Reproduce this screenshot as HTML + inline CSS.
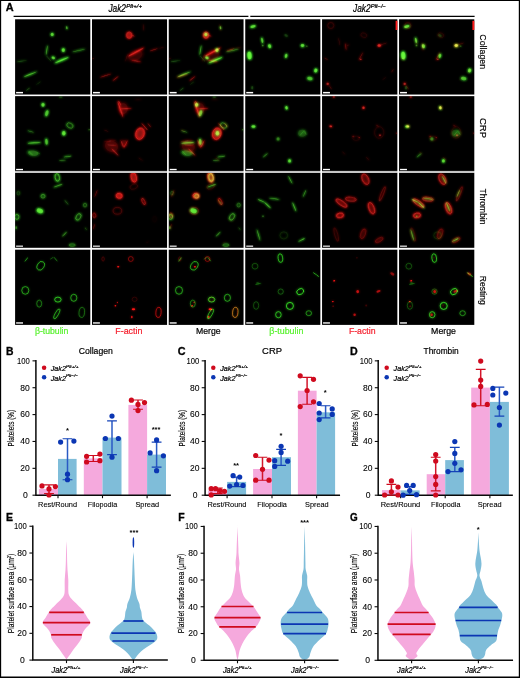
<!DOCTYPE html>
<html lang="en"><head><meta charset="utf-8"><title>Jak2 platelet spreading figure</title>
<style>html,body{margin:0;padding:0;background:#fff}body{width:520px;height:678px;overflow:hidden}svg{display:block;font-family:'Liberation Sans', Arial, Helvetica, sans-serif}</style></head><body>
<svg width="520" height="678" viewBox="0 0 520 678">
<rect width="520" height="678" fill="#fff"/>
<defs><filter id="bl" x="-5%" y="-5%" width="110%" height="110%"><feGaussianBlur stdDeviation="0.85"/></filter>
<clipPath id="cp00"><rect x="15.10" y="19.30" width="75.20" height="75.25"/></clipPath>
<clipPath id="cp01"><rect x="92.00" y="19.30" width="75.05" height="75.25"/></clipPath>
<clipPath id="cp02"><rect x="168.75" y="19.30" width="74.80" height="75.25"/></clipPath>
<clipPath id="cp03"><rect x="245.25" y="19.30" width="75.10" height="75.25"/></clipPath>
<clipPath id="cp04"><rect x="322.05" y="19.30" width="75.30" height="75.25"/></clipPath>
<clipPath id="cp05"><rect x="399.05" y="19.30" width="75.25" height="75.25"/></clipPath>
<clipPath id="cp10"><rect x="15.10" y="96.15" width="75.20" height="74.80"/></clipPath>
<clipPath id="cp11"><rect x="92.00" y="96.15" width="75.05" height="74.80"/></clipPath>
<clipPath id="cp12"><rect x="168.75" y="96.15" width="74.80" height="74.80"/></clipPath>
<clipPath id="cp13"><rect x="245.25" y="96.15" width="75.10" height="74.80"/></clipPath>
<clipPath id="cp14"><rect x="322.05" y="96.15" width="75.30" height="74.80"/></clipPath>
<clipPath id="cp15"><rect x="399.05" y="96.15" width="75.25" height="74.80"/></clipPath>
<clipPath id="cp20"><rect x="15.10" y="172.85" width="75.20" height="74.95"/></clipPath>
<clipPath id="cp21"><rect x="92.00" y="172.85" width="75.05" height="74.95"/></clipPath>
<clipPath id="cp22"><rect x="168.75" y="172.85" width="74.80" height="74.95"/></clipPath>
<clipPath id="cp23"><rect x="245.25" y="172.85" width="75.10" height="74.95"/></clipPath>
<clipPath id="cp24"><rect x="322.05" y="172.85" width="75.30" height="74.95"/></clipPath>
<clipPath id="cp25"><rect x="399.05" y="172.85" width="75.25" height="74.95"/></clipPath>
<clipPath id="cp30"><rect x="15.10" y="249.70" width="75.20" height="75.20"/></clipPath>
<clipPath id="cp31"><rect x="92.00" y="249.70" width="75.05" height="75.20"/></clipPath>
<clipPath id="cp32"><rect x="168.75" y="249.70" width="74.80" height="75.20"/></clipPath>
<clipPath id="cp33"><rect x="245.25" y="249.70" width="75.10" height="75.20"/></clipPath>
<clipPath id="cp34"><rect x="322.05" y="249.70" width="75.30" height="75.20"/></clipPath>
<clipPath id="cp35"><rect x="399.05" y="249.70" width="75.25" height="75.20"/></clipPath>
</defs>
<rect x="15.10" y="19.30" width="75.20" height="75.25" fill="#000"/>
<rect x="92.00" y="19.30" width="75.05" height="75.25" fill="#000"/>
<rect x="168.75" y="19.30" width="74.80" height="75.25" fill="#000"/>
<rect x="245.25" y="19.30" width="75.10" height="75.25" fill="#000"/>
<rect x="322.05" y="19.30" width="75.30" height="75.25" fill="#000"/>
<rect x="399.05" y="19.30" width="75.25" height="75.25" fill="#000"/>
<rect x="15.10" y="96.15" width="75.20" height="74.80" fill="#000"/>
<rect x="92.00" y="96.15" width="75.05" height="74.80" fill="#000"/>
<rect x="168.75" y="96.15" width="74.80" height="74.80" fill="#000"/>
<rect x="245.25" y="96.15" width="75.10" height="74.80" fill="#000"/>
<rect x="322.05" y="96.15" width="75.30" height="74.80" fill="#000"/>
<rect x="399.05" y="96.15" width="75.25" height="74.80" fill="#000"/>
<rect x="15.10" y="172.85" width="75.20" height="74.95" fill="#000"/>
<rect x="92.00" y="172.85" width="75.05" height="74.95" fill="#000"/>
<rect x="168.75" y="172.85" width="74.80" height="74.95" fill="#000"/>
<rect x="245.25" y="172.85" width="75.10" height="74.95" fill="#000"/>
<rect x="322.05" y="172.85" width="75.30" height="74.95" fill="#000"/>
<rect x="399.05" y="172.85" width="75.25" height="74.95" fill="#000"/>
<rect x="15.10" y="249.70" width="75.20" height="75.20" fill="#000"/>
<rect x="92.00" y="249.70" width="75.05" height="75.20" fill="#000"/>
<rect x="168.75" y="249.70" width="74.80" height="75.20" fill="#000"/>
<rect x="245.25" y="249.70" width="75.10" height="75.20" fill="#000"/>
<rect x="322.05" y="249.70" width="75.30" height="75.20" fill="#000"/>
<rect x="399.05" y="249.70" width="75.25" height="75.20" fill="#000"/>
<g clip-path="url(#cp00)"><g filter="url(#bl)"><ellipse cx="66.8" cy="27.8" rx="0.92" ry="1.85" transform="rotate(-10 66.8 27.8)" fill="#3dff2a" opacity="0.80"/><ellipse cx="52.2" cy="34.4" rx="1.85" ry="2.00" transform="rotate(0 52.2 34.4)" fill="#3dff2a" opacity="0.90"/><ellipse cx="46.8" cy="50.1" rx="5.23" ry="0.76" transform="rotate(99 46.8 50.1)" fill="#3dff2a" opacity="0.70"/><ellipse cx="63.3" cy="50.1" rx="2.00" ry="2.46" transform="rotate(0 63.3 50.1)" fill="#3dff2a" opacity="0.90"/><ellipse cx="78.8" cy="50.5" rx="7.27" ry="0.76" transform="rotate(-13 78.8 50.5)" fill="#3dff2a" opacity="0.60"/><ellipse cx="53.3" cy="57.8" rx="2.15" ry="1.54" transform="rotate(20 53.3 57.8)" fill="#3dff2a" opacity="0.90"/><ellipse cx="61.8" cy="60.1" rx="8.09" ry="1.35" transform="rotate(-23 61.8 60.1)" fill="#3dff2a" opacity="0.95"/><ellipse cx="30.3" cy="74.3" rx="7.75" ry="0.93" transform="rotate(-22 30.3 74.3)" fill="#3dff2a" opacity="0.80"/><ellipse cx="21.8" cy="61.1" rx="5.46" ry="0.59" transform="rotate(-6 21.8 61.1)" fill="#3dff2a" opacity="0.35"/><ellipse cx="28.0" cy="89.3" rx="2.83" ry="0.51" transform="rotate(-39 28.0 89.3)" fill="#3dff2a" opacity="0.40"/><ellipse cx="38.4" cy="83.2" rx="3.14" ry="0.51" transform="rotate(-34 38.4 83.2)" fill="#3dff2a" opacity="0.20"/><ellipse cx="48.8" cy="58.5" rx="4.46" ry="0.51" transform="rotate(49 48.8 58.5)" fill="#3dff2a" opacity="0.30"/></g><ellipse cx="66.8" cy="27.8" rx="0.74" ry="1.48" transform="rotate(-10 66.8 27.8)" fill="#86ff4a" opacity="0.48"/><ellipse cx="52.2" cy="34.4" rx="1.48" ry="1.60" transform="rotate(0 52.2 34.4)" fill="#86ff4a" opacity="0.54"/><ellipse cx="46.8" cy="50.1" rx="4.71" ry="0.38" transform="rotate(99 46.8 50.1)" fill="#86ff4a" opacity="0.42"/><ellipse cx="63.3" cy="50.1" rx="1.60" ry="1.97" transform="rotate(0 63.3 50.1)" fill="#86ff4a" opacity="0.54"/><ellipse cx="78.8" cy="50.5" rx="6.54" ry="0.38" transform="rotate(-13 78.8 50.5)" fill="#86ff4a" opacity="0.36"/><ellipse cx="53.3" cy="57.8" rx="1.72" ry="1.23" transform="rotate(20 53.3 57.8)" fill="#86ff4a" opacity="0.54"/><ellipse cx="61.8" cy="60.1" rx="7.28" ry="0.68" transform="rotate(-23 61.8 60.1)" fill="#86ff4a" opacity="0.57"/><ellipse cx="30.3" cy="74.3" rx="6.97" ry="0.47" transform="rotate(-22 30.3 74.3)" fill="#86ff4a" opacity="0.48"/><ellipse cx="21.8" cy="61.1" rx="4.91" ry="0.30" transform="rotate(-6 21.8 61.1)" fill="#86ff4a" opacity="0.21"/><ellipse cx="28.0" cy="89.3" rx="2.55" ry="0.25" transform="rotate(-39 28.0 89.3)" fill="#86ff4a" opacity="0.24"/><ellipse cx="38.4" cy="83.2" rx="2.83" ry="0.25" transform="rotate(-34 38.4 83.2)" fill="#86ff4a" opacity="0.12"/><ellipse cx="48.8" cy="58.5" rx="4.01" ry="0.25" transform="rotate(49 48.8 58.5)" fill="#86ff4a" opacity="0.18"/></g>
<g clip-path="url(#cp01)"><g filter="url(#bl)"><ellipse cx="129.2" cy="35.2" rx="2.62" ry="3.08" transform="rotate(0 129.2 35.2)" fill="#ff1414" opacity="0.40"/><ellipse cx="135.4" cy="55.5" rx="9.23" ry="6.15" transform="rotate(-25 135.4 55.5)" fill="#ff1414" opacity="0.15"/><ellipse cx="129.2" cy="35.2" rx="2.62" ry="3.08" transform="rotate(0 129.2 35.2)" fill="none" stroke="#ff1414" stroke-width="1.38" opacity="0.95"/><ellipse cx="133.1" cy="35.8" rx="1.96" ry="0.51" transform="rotate(14 133.1 35.8)" fill="#ff1414" opacity="0.80"/><ellipse cx="136.2" cy="52.0" rx="9.58" ry="1.10" transform="rotate(-29 136.2 52.0)" fill="#ff1414" opacity="0.90"/><ellipse cx="136.2" cy="61.0" rx="5.20" ry="0.68" transform="rotate(11 136.2 61.0)" fill="#ff1414" opacity="0.70"/><ellipse cx="153.8" cy="49.8" rx="4.43" ry="0.51" transform="rotate(-19 153.8 49.8)" fill="#ff1414" opacity="0.70"/><ellipse cx="161.5" cy="47.9" rx="3.38" ry="0.34" transform="rotate(-11 161.5 47.9)" fill="#ff1414" opacity="0.35"/><ellipse cx="105.8" cy="75.5" rx="6.43" ry="0.51" transform="rotate(-18 105.8 75.5)" fill="#ff1414" opacity="0.70"/><ellipse cx="115.6" cy="78.5" rx="4.03" ry="0.51" transform="rotate(-39 115.6 78.5)" fill="#ff1414" opacity="0.70"/><ellipse cx="143.5" cy="27.4" rx="3.79" ry="0.42" transform="rotate(84 143.5 27.4)" fill="#ff1414" opacity="0.35"/><ellipse cx="126.5" cy="57.8" rx="4.32" ry="0.42" transform="rotate(-73 126.5 57.8)" fill="#ff1414" opacity="0.30"/><ellipse cx="93.1" cy="58.2" rx="1.08" ry="0.42" transform="rotate(0 93.1 58.2)" fill="#ff1414" opacity="0.50"/></g><ellipse cx="129.2" cy="35.2" rx="2.09" ry="2.46" transform="rotate(0 129.2 35.2)" fill="#ff3a30" opacity="0.24"/><ellipse cx="135.4" cy="55.5" rx="7.38" ry="4.92" transform="rotate(-25 135.4 55.5)" fill="#ff3a30" opacity="0.09"/><ellipse cx="129.2" cy="35.2" rx="2.62" ry="3.08" transform="rotate(0 129.2 35.2)" fill="none" stroke="#ff3a30" stroke-width="0.69" opacity="0.57"/><ellipse cx="133.1" cy="35.8" rx="1.76" ry="0.25" transform="rotate(14 133.1 35.8)" fill="#ff3a30" opacity="0.48"/><ellipse cx="136.2" cy="52.0" rx="8.62" ry="0.55" transform="rotate(-29 136.2 52.0)" fill="#ff3a30" opacity="0.54"/><ellipse cx="136.2" cy="61.0" rx="4.68" ry="0.34" transform="rotate(11 136.2 61.0)" fill="#ff3a30" opacity="0.42"/><ellipse cx="153.8" cy="49.8" rx="3.99" ry="0.25" transform="rotate(-19 153.8 49.8)" fill="#ff3a30" opacity="0.42"/><ellipse cx="161.5" cy="47.9" rx="3.05" ry="0.17" transform="rotate(-11 161.5 47.9)" fill="#ff3a30" opacity="0.21"/><ellipse cx="105.8" cy="75.5" rx="5.78" ry="0.25" transform="rotate(-18 105.8 75.5)" fill="#ff3a30" opacity="0.42"/><ellipse cx="115.6" cy="78.5" rx="3.63" ry="0.25" transform="rotate(-39 115.6 78.5)" fill="#ff3a30" opacity="0.42"/><ellipse cx="143.5" cy="27.4" rx="3.41" ry="0.21" transform="rotate(84 143.5 27.4)" fill="#ff3a30" opacity="0.21"/><ellipse cx="126.5" cy="57.8" rx="3.89" ry="0.21" transform="rotate(-73 126.5 57.8)" fill="#ff3a30" opacity="0.18"/><ellipse cx="93.1" cy="58.2" rx="0.97" ry="0.21" transform="rotate(0 93.1 58.2)" fill="#ff3a30" opacity="0.30"/></g>
<g clip-path="url(#cp02)"><g filter="url(#bl)"><ellipse cx="220.5" cy="27.8" rx="0.92" ry="1.85" transform="rotate(-10 220.5 27.8)" fill="#3dff2a" opacity="0.80"/><ellipse cx="205.9" cy="34.4" rx="1.85" ry="2.00" transform="rotate(0 205.9 34.4)" fill="#3dff2a" opacity="0.90"/><ellipse cx="200.5" cy="50.1" rx="5.23" ry="0.76" transform="rotate(99 200.5 50.1)" fill="#3dff2a" opacity="0.70"/><ellipse cx="217.0" cy="50.1" rx="2.00" ry="2.46" transform="rotate(0 217.0 50.1)" fill="#3dff2a" opacity="0.90"/><ellipse cx="232.4" cy="50.5" rx="7.27" ry="0.76" transform="rotate(-13 232.4 50.5)" fill="#3dff2a" opacity="0.60"/><ellipse cx="207.0" cy="57.8" rx="2.15" ry="1.54" transform="rotate(20 207.0 57.8)" fill="#3dff2a" opacity="0.90"/><ellipse cx="215.5" cy="60.1" rx="8.09" ry="1.35" transform="rotate(-23 215.5 60.1)" fill="#3dff2a" opacity="0.95"/><ellipse cx="184.0" cy="74.3" rx="7.75" ry="0.93" transform="rotate(-22 184.0 74.3)" fill="#3dff2a" opacity="0.80"/><ellipse cx="175.5" cy="61.1" rx="5.46" ry="0.59" transform="rotate(-6 175.5 61.1)" fill="#3dff2a" opacity="0.35"/><ellipse cx="181.7" cy="89.3" rx="2.83" ry="0.51" transform="rotate(-39 181.7 89.3)" fill="#3dff2a" opacity="0.40"/><ellipse cx="192.0" cy="83.2" rx="3.14" ry="0.51" transform="rotate(-34 192.0 83.2)" fill="#3dff2a" opacity="0.20"/><ellipse cx="202.4" cy="58.5" rx="4.46" ry="0.51" transform="rotate(49 202.4 58.5)" fill="#3dff2a" opacity="0.30"/></g><ellipse cx="220.5" cy="27.8" rx="0.74" ry="1.48" transform="rotate(-10 220.5 27.8)" fill="#86ff4a" opacity="0.48"/><ellipse cx="205.9" cy="34.4" rx="1.48" ry="1.60" transform="rotate(0 205.9 34.4)" fill="#86ff4a" opacity="0.54"/><ellipse cx="200.5" cy="50.1" rx="4.71" ry="0.38" transform="rotate(99 200.5 50.1)" fill="#86ff4a" opacity="0.42"/><ellipse cx="217.0" cy="50.1" rx="1.60" ry="1.97" transform="rotate(0 217.0 50.1)" fill="#86ff4a" opacity="0.54"/><ellipse cx="232.4" cy="50.5" rx="6.54" ry="0.38" transform="rotate(-13 232.4 50.5)" fill="#86ff4a" opacity="0.36"/><ellipse cx="207.0" cy="57.8" rx="1.72" ry="1.23" transform="rotate(20 207.0 57.8)" fill="#86ff4a" opacity="0.54"/><ellipse cx="215.5" cy="60.1" rx="7.28" ry="0.68" transform="rotate(-23 215.5 60.1)" fill="#86ff4a" opacity="0.57"/><ellipse cx="184.0" cy="74.3" rx="6.97" ry="0.47" transform="rotate(-22 184.0 74.3)" fill="#86ff4a" opacity="0.48"/><ellipse cx="175.5" cy="61.1" rx="4.91" ry="0.30" transform="rotate(-6 175.5 61.1)" fill="#86ff4a" opacity="0.21"/><ellipse cx="181.7" cy="89.3" rx="2.55" ry="0.25" transform="rotate(-39 181.7 89.3)" fill="#86ff4a" opacity="0.24"/><ellipse cx="192.0" cy="83.2" rx="2.83" ry="0.25" transform="rotate(-34 192.0 83.2)" fill="#86ff4a" opacity="0.12"/><ellipse cx="202.4" cy="58.5" rx="4.01" ry="0.25" transform="rotate(49 202.4 58.5)" fill="#86ff4a" opacity="0.18"/><g style="mix-blend-mode:screen"><g filter="url(#bl)"><ellipse cx="206.0" cy="35.2" rx="2.62" ry="3.08" transform="rotate(0 206.0 35.2)" fill="#ff1414" opacity="0.40"/><ellipse cx="212.1" cy="55.5" rx="9.23" ry="6.15" transform="rotate(-25 212.1 55.5)" fill="#ff1414" opacity="0.15"/><ellipse cx="206.0" cy="35.2" rx="2.62" ry="3.08" transform="rotate(0 206.0 35.2)" fill="none" stroke="#ff1414" stroke-width="1.38" opacity="0.95"/><ellipse cx="209.8" cy="35.8" rx="1.96" ry="0.51" transform="rotate(14 209.8 35.8)" fill="#ff1414" opacity="0.80"/><ellipse cx="212.9" cy="52.0" rx="9.58" ry="1.10" transform="rotate(-29 212.9 52.0)" fill="#ff1414" opacity="0.90"/><ellipse cx="212.9" cy="61.0" rx="5.20" ry="0.68" transform="rotate(11 212.9 61.0)" fill="#ff1414" opacity="0.70"/><ellipse cx="230.6" cy="49.8" rx="4.43" ry="0.51" transform="rotate(-19 230.6 49.8)" fill="#ff1414" opacity="0.70"/><ellipse cx="238.3" cy="47.9" rx="3.38" ry="0.34" transform="rotate(-11 238.3 47.9)" fill="#ff1414" opacity="0.35"/><ellipse cx="182.5" cy="75.5" rx="6.43" ry="0.51" transform="rotate(-18 182.5 75.5)" fill="#ff1414" opacity="0.70"/><ellipse cx="192.4" cy="78.5" rx="4.03" ry="0.51" transform="rotate(-39 192.4 78.5)" fill="#ff1414" opacity="0.70"/><ellipse cx="220.2" cy="27.4" rx="3.79" ry="0.42" transform="rotate(84 220.2 27.4)" fill="#ff1414" opacity="0.35"/><ellipse cx="203.3" cy="57.8" rx="4.32" ry="0.42" transform="rotate(-73 203.3 57.8)" fill="#ff1414" opacity="0.30"/><ellipse cx="169.8" cy="58.2" rx="1.08" ry="0.42" transform="rotate(0 169.8 58.2)" fill="#ff1414" opacity="0.50"/></g><ellipse cx="206.0" cy="35.2" rx="2.09" ry="2.46" transform="rotate(0 206.0 35.2)" fill="#ff3a30" opacity="0.24"/><ellipse cx="212.1" cy="55.5" rx="7.38" ry="4.92" transform="rotate(-25 212.1 55.5)" fill="#ff3a30" opacity="0.09"/><ellipse cx="206.0" cy="35.2" rx="2.62" ry="3.08" transform="rotate(0 206.0 35.2)" fill="none" stroke="#ff3a30" stroke-width="0.69" opacity="0.57"/><ellipse cx="209.8" cy="35.8" rx="1.76" ry="0.25" transform="rotate(14 209.8 35.8)" fill="#ff3a30" opacity="0.48"/><ellipse cx="212.9" cy="52.0" rx="8.62" ry="0.55" transform="rotate(-29 212.9 52.0)" fill="#ff3a30" opacity="0.54"/><ellipse cx="212.9" cy="61.0" rx="4.68" ry="0.34" transform="rotate(11 212.9 61.0)" fill="#ff3a30" opacity="0.42"/><ellipse cx="230.6" cy="49.8" rx="3.99" ry="0.25" transform="rotate(-19 230.6 49.8)" fill="#ff3a30" opacity="0.42"/><ellipse cx="238.3" cy="47.9" rx="3.05" ry="0.17" transform="rotate(-11 238.3 47.9)" fill="#ff3a30" opacity="0.21"/><ellipse cx="182.5" cy="75.5" rx="5.78" ry="0.25" transform="rotate(-18 182.5 75.5)" fill="#ff3a30" opacity="0.42"/><ellipse cx="192.4" cy="78.5" rx="3.63" ry="0.25" transform="rotate(-39 192.4 78.5)" fill="#ff3a30" opacity="0.42"/><ellipse cx="220.2" cy="27.4" rx="3.41" ry="0.21" transform="rotate(84 220.2 27.4)" fill="#ff3a30" opacity="0.21"/><ellipse cx="203.3" cy="57.8" rx="3.89" ry="0.21" transform="rotate(-73 203.3 57.8)" fill="#ff3a30" opacity="0.18"/><ellipse cx="169.8" cy="58.2" rx="0.97" ry="0.21" transform="rotate(0 169.8 58.2)" fill="#ff3a30" opacity="0.30"/></g></g>
<g clip-path="url(#cp03)"><g filter="url(#bl)"><ellipse cx="253.0" cy="26.5" rx="3.38" ry="1.54" transform="rotate(-15 253.0 26.5)" fill="#3dff2a" opacity="0.90"/><ellipse cx="262.2" cy="40.4" rx="1.23" ry="3.38" transform="rotate(-10 262.2 40.4)" fill="#3dff2a" opacity="0.85"/><ellipse cx="262.7" cy="45.5" rx="1.08" ry="1.08" transform="rotate(0 262.7 45.5)" fill="#3dff2a" opacity="0.60"/><ellipse cx="269.6" cy="46.2" rx="1.85" ry="2.46" transform="rotate(-20 269.6 46.2)" fill="#3dff2a" opacity="0.95"/><ellipse cx="249.5" cy="55.5" rx="2.62" ry="4.62" transform="rotate(-5 249.5 55.5)" fill="#3dff2a" opacity="1.00"/><ellipse cx="286.1" cy="55.9" rx="1.54" ry="2.62" transform="rotate(15 286.1 55.9)" fill="#3dff2a" opacity="0.90"/><ellipse cx="302.5" cy="45.6" rx="2.15" ry="1.85" transform="rotate(0 302.5 45.6)" fill="#3dff2a" opacity="0.95"/><ellipse cx="306.8" cy="46.2" rx="1.08" ry="0.77" transform="rotate(0 306.8 46.2)" fill="#3dff2a" opacity="0.50"/><ellipse cx="315.8" cy="70.5" rx="2.00" ry="2.46" transform="rotate(20 315.8 70.5)" fill="#3dff2a" opacity="0.95"/><ellipse cx="309.9" cy="78.5" rx="3.38" ry="2.15" transform="rotate(10 309.9 78.5)" fill="#3dff2a" opacity="0.70"/><ellipse cx="252.2" cy="87.8" rx="1.23" ry="2.15" transform="rotate(0 252.2 87.8)" fill="#3dff2a" opacity="0.25"/><ellipse cx="286.1" cy="35.5" rx="2.31" ry="1.54" transform="rotate(30 286.1 35.5)" fill="#3dff2a" opacity="0.20"/></g><ellipse cx="253.0" cy="26.5" rx="2.71" ry="1.23" transform="rotate(-15 253.0 26.5)" fill="#86ff4a" opacity="0.54"/><ellipse cx="262.2" cy="40.4" rx="0.98" ry="2.71" transform="rotate(-10 262.2 40.4)" fill="#86ff4a" opacity="0.51"/><ellipse cx="262.7" cy="45.5" rx="0.86" ry="0.86" transform="rotate(0 262.7 45.5)" fill="#86ff4a" opacity="0.36"/><ellipse cx="269.6" cy="46.2" rx="1.48" ry="1.97" transform="rotate(-20 269.6 46.2)" fill="#86ff4a" opacity="0.57"/><ellipse cx="249.5" cy="55.5" rx="2.09" ry="3.69" transform="rotate(-5 249.5 55.5)" fill="#86ff4a" opacity="0.60"/><ellipse cx="286.1" cy="55.9" rx="1.23" ry="2.09" transform="rotate(15 286.1 55.9)" fill="#86ff4a" opacity="0.54"/><ellipse cx="302.5" cy="45.6" rx="1.72" ry="1.48" transform="rotate(0 302.5 45.6)" fill="#86ff4a" opacity="0.57"/><ellipse cx="306.8" cy="46.2" rx="0.86" ry="0.62" transform="rotate(0 306.8 46.2)" fill="#86ff4a" opacity="0.30"/><ellipse cx="315.8" cy="70.5" rx="1.60" ry="1.97" transform="rotate(20 315.8 70.5)" fill="#86ff4a" opacity="0.57"/><ellipse cx="309.9" cy="78.5" rx="2.71" ry="1.72" transform="rotate(10 309.9 78.5)" fill="#86ff4a" opacity="0.42"/><ellipse cx="252.2" cy="87.8" rx="0.98" ry="1.72" transform="rotate(0 252.2 87.8)" fill="#86ff4a" opacity="0.15"/><ellipse cx="286.1" cy="35.5" rx="1.85" ry="1.23" transform="rotate(30 286.1 35.5)" fill="#86ff4a" opacity="0.12"/></g>
<g clip-path="url(#cp04)"><g filter="url(#bl)"><ellipse cx="330.8" cy="25.5" rx="3.08" ry="3.08" transform="rotate(0 330.8 25.5)" fill="none" stroke="#ff1414" stroke-width="0.92" opacity="0.35"/><ellipse cx="363.8" cy="35.2" rx="3.08" ry="2.15" transform="rotate(20 363.8 35.2)" fill="none" stroke="#ff1414" stroke-width="0.77" opacity="0.30"/><ellipse cx="339.2" cy="41.6" rx="4.23" ry="0.42" transform="rotate(79 339.2 41.6)" fill="#ff1414" opacity="0.30"/><ellipse cx="345.8" cy="46.6" rx="3.85" ry="0.51" transform="rotate(84 345.8 46.6)" fill="#ff1414" opacity="0.65"/><ellipse cx="348.1" cy="45.1" rx="1.46" ry="0.34" transform="rotate(-18 348.1 45.1)" fill="#ff1414" opacity="0.50"/><ellipse cx="379.2" cy="45.5" rx="2.00" ry="1.54" transform="rotate(0 379.2 45.5)" fill="#ff1414" opacity="1.00"/><ellipse cx="383.8" cy="43.9" rx="3.51" ry="0.34" transform="rotate(-19 383.8 43.9)" fill="#ff1414" opacity="0.50"/><ellipse cx="360.9" cy="56.2" rx="4.72" ry="0.42" transform="rotate(-61 360.9 56.2)" fill="#ff1414" opacity="0.60"/><ellipse cx="360.8" cy="59.3" rx="1.08" ry="0.77" transform="rotate(0 360.8 59.3)" fill="#ff1414" opacity="0.90"/><ellipse cx="326.0" cy="58.8" rx="2.27" ry="0.42" transform="rotate(31 326.0 58.8)" fill="#ff1414" opacity="0.40"/><ellipse cx="392.5" cy="70.7" rx="2.27" ry="0.42" transform="rotate(-59 392.5 70.7)" fill="#ff1414" opacity="0.40"/><ellipse cx="327.7" cy="83.9" rx="1.38" ry="1.38" transform="rotate(0 327.7 83.9)" fill="#ff1414" opacity="0.80"/><ellipse cx="330.4" cy="87.4" rx="2.55" ry="0.42" transform="rotate(59 330.4 87.4)" fill="#ff1414" opacity="0.50"/><ellipse cx="384.2" cy="78.5" rx="2.71" ry="0.34" transform="rotate(-39 384.2 78.5)" fill="#ff1414" opacity="0.20"/></g><ellipse cx="330.8" cy="25.5" rx="3.08" ry="3.08" transform="rotate(0 330.8 25.5)" fill="none" stroke="#ff3a30" stroke-width="0.46" opacity="0.21"/><ellipse cx="363.8" cy="35.2" rx="3.08" ry="2.15" transform="rotate(20 363.8 35.2)" fill="none" stroke="#ff3a30" stroke-width="0.38" opacity="0.18"/><ellipse cx="339.2" cy="41.6" rx="3.81" ry="0.21" transform="rotate(79 339.2 41.6)" fill="#ff3a30" opacity="0.18"/><ellipse cx="345.8" cy="46.6" rx="3.47" ry="0.25" transform="rotate(84 345.8 46.6)" fill="#ff3a30" opacity="0.39"/><ellipse cx="348.1" cy="45.1" rx="1.32" ry="0.17" transform="rotate(-18 348.1 45.1)" fill="#ff3a30" opacity="0.30"/><ellipse cx="379.2" cy="45.5" rx="1.60" ry="1.23" transform="rotate(0 379.2 45.5)" fill="#ff3a30" opacity="0.60"/><ellipse cx="383.8" cy="43.9" rx="3.16" ry="0.17" transform="rotate(-19 383.8 43.9)" fill="#ff3a30" opacity="0.30"/><ellipse cx="360.9" cy="56.2" rx="4.24" ry="0.21" transform="rotate(-61 360.9 56.2)" fill="#ff3a30" opacity="0.36"/><ellipse cx="360.8" cy="59.3" rx="0.86" ry="0.62" transform="rotate(0 360.8 59.3)" fill="#ff3a30" opacity="0.54"/><ellipse cx="326.0" cy="58.8" rx="2.05" ry="0.21" transform="rotate(31 326.0 58.8)" fill="#ff3a30" opacity="0.24"/><ellipse cx="392.5" cy="70.7" rx="2.05" ry="0.21" transform="rotate(-59 392.5 70.7)" fill="#ff3a30" opacity="0.24"/><ellipse cx="327.7" cy="83.9" rx="1.11" ry="1.11" transform="rotate(0 327.7 83.9)" fill="#ff3a30" opacity="0.48"/><ellipse cx="330.4" cy="87.4" rx="2.30" ry="0.21" transform="rotate(59 330.4 87.4)" fill="#ff3a30" opacity="0.30"/><ellipse cx="384.2" cy="78.5" rx="2.44" ry="0.17" transform="rotate(-39 384.2 78.5)" fill="#ff3a30" opacity="0.12"/></g>
<g clip-path="url(#cp05)"><g filter="url(#bl)"><ellipse cx="406.8" cy="26.5" rx="3.38" ry="1.54" transform="rotate(-15 406.8 26.5)" fill="#3dff2a" opacity="0.90"/><ellipse cx="416.0" cy="40.4" rx="1.23" ry="3.38" transform="rotate(-10 416.0 40.4)" fill="#3dff2a" opacity="0.85"/><ellipse cx="416.5" cy="45.5" rx="1.08" ry="1.08" transform="rotate(0 416.5 45.5)" fill="#3dff2a" opacity="0.60"/><ellipse cx="423.4" cy="46.2" rx="1.85" ry="2.46" transform="rotate(-20 423.4 46.2)" fill="#3dff2a" opacity="0.95"/><ellipse cx="403.3" cy="55.5" rx="2.62" ry="4.62" transform="rotate(-5 403.3 55.5)" fill="#3dff2a" opacity="1.00"/><ellipse cx="439.9" cy="55.9" rx="1.54" ry="2.62" transform="rotate(15 439.9 55.9)" fill="#3dff2a" opacity="0.90"/><ellipse cx="456.3" cy="45.6" rx="2.15" ry="1.85" transform="rotate(0 456.3 45.6)" fill="#3dff2a" opacity="0.95"/><ellipse cx="460.6" cy="46.2" rx="1.08" ry="0.77" transform="rotate(0 460.6 46.2)" fill="#3dff2a" opacity="0.50"/><ellipse cx="469.6" cy="70.5" rx="2.00" ry="2.46" transform="rotate(20 469.6 70.5)" fill="#3dff2a" opacity="0.95"/><ellipse cx="463.7" cy="78.5" rx="3.38" ry="2.15" transform="rotate(10 463.7 78.5)" fill="#3dff2a" opacity="0.70"/><ellipse cx="406.0" cy="87.8" rx="1.23" ry="2.15" transform="rotate(0 406.0 87.8)" fill="#3dff2a" opacity="0.25"/><ellipse cx="439.9" cy="35.5" rx="2.31" ry="1.54" transform="rotate(30 439.9 35.5)" fill="#3dff2a" opacity="0.20"/></g><ellipse cx="406.8" cy="26.5" rx="2.71" ry="1.23" transform="rotate(-15 406.8 26.5)" fill="#86ff4a" opacity="0.54"/><ellipse cx="416.0" cy="40.4" rx="0.98" ry="2.71" transform="rotate(-10 416.0 40.4)" fill="#86ff4a" opacity="0.51"/><ellipse cx="416.5" cy="45.5" rx="0.86" ry="0.86" transform="rotate(0 416.5 45.5)" fill="#86ff4a" opacity="0.36"/><ellipse cx="423.4" cy="46.2" rx="1.48" ry="1.97" transform="rotate(-20 423.4 46.2)" fill="#86ff4a" opacity="0.57"/><ellipse cx="403.3" cy="55.5" rx="2.09" ry="3.69" transform="rotate(-5 403.3 55.5)" fill="#86ff4a" opacity="0.60"/><ellipse cx="439.9" cy="55.9" rx="1.23" ry="2.09" transform="rotate(15 439.9 55.9)" fill="#86ff4a" opacity="0.54"/><ellipse cx="456.3" cy="45.6" rx="1.72" ry="1.48" transform="rotate(0 456.3 45.6)" fill="#86ff4a" opacity="0.57"/><ellipse cx="460.6" cy="46.2" rx="0.86" ry="0.62" transform="rotate(0 460.6 46.2)" fill="#86ff4a" opacity="0.30"/><ellipse cx="469.6" cy="70.5" rx="1.60" ry="1.97" transform="rotate(20 469.6 70.5)" fill="#86ff4a" opacity="0.57"/><ellipse cx="463.7" cy="78.5" rx="2.71" ry="1.72" transform="rotate(10 463.7 78.5)" fill="#86ff4a" opacity="0.42"/><ellipse cx="406.0" cy="87.8" rx="0.98" ry="1.72" transform="rotate(0 406.0 87.8)" fill="#86ff4a" opacity="0.15"/><ellipse cx="439.9" cy="35.5" rx="1.85" ry="1.23" transform="rotate(30 439.9 35.5)" fill="#86ff4a" opacity="0.12"/><g style="mix-blend-mode:screen"><g filter="url(#bl)"><ellipse cx="407.8" cy="25.5" rx="3.08" ry="3.08" transform="rotate(0 407.8 25.5)" fill="none" stroke="#ff1414" stroke-width="0.92" opacity="0.35"/><ellipse cx="440.8" cy="35.2" rx="3.08" ry="2.15" transform="rotate(20 440.8 35.2)" fill="none" stroke="#ff1414" stroke-width="0.77" opacity="0.30"/><ellipse cx="416.2" cy="41.6" rx="4.23" ry="0.42" transform="rotate(79 416.2 41.6)" fill="#ff1414" opacity="0.30"/><ellipse cx="422.8" cy="46.6" rx="3.85" ry="0.51" transform="rotate(84 422.8 46.6)" fill="#ff1414" opacity="0.65"/><ellipse cx="425.1" cy="45.1" rx="1.46" ry="0.34" transform="rotate(-18 425.1 45.1)" fill="#ff1414" opacity="0.50"/><ellipse cx="456.2" cy="45.5" rx="2.00" ry="1.54" transform="rotate(0 456.2 45.5)" fill="#ff1414" opacity="1.00"/><ellipse cx="460.8" cy="43.9" rx="3.51" ry="0.34" transform="rotate(-19 460.8 43.9)" fill="#ff1414" opacity="0.50"/><ellipse cx="437.9" cy="56.2" rx="4.72" ry="0.42" transform="rotate(-61 437.9 56.2)" fill="#ff1414" opacity="0.60"/><ellipse cx="437.8" cy="59.3" rx="1.08" ry="0.77" transform="rotate(0 437.8 59.3)" fill="#ff1414" opacity="0.90"/><ellipse cx="403.0" cy="58.8" rx="2.27" ry="0.42" transform="rotate(31 403.0 58.8)" fill="#ff1414" opacity="0.40"/><ellipse cx="469.5" cy="70.7" rx="2.27" ry="0.42" transform="rotate(-59 469.5 70.7)" fill="#ff1414" opacity="0.40"/><ellipse cx="404.7" cy="83.9" rx="1.38" ry="1.38" transform="rotate(0 404.7 83.9)" fill="#ff1414" opacity="0.80"/><ellipse cx="407.4" cy="87.4" rx="2.55" ry="0.42" transform="rotate(59 407.4 87.4)" fill="#ff1414" opacity="0.50"/><ellipse cx="461.2" cy="78.5" rx="2.71" ry="0.34" transform="rotate(-39 461.2 78.5)" fill="#ff1414" opacity="0.20"/></g><ellipse cx="407.8" cy="25.5" rx="3.08" ry="3.08" transform="rotate(0 407.8 25.5)" fill="none" stroke="#ff3a30" stroke-width="0.46" opacity="0.21"/><ellipse cx="440.8" cy="35.2" rx="3.08" ry="2.15" transform="rotate(20 440.8 35.2)" fill="none" stroke="#ff3a30" stroke-width="0.38" opacity="0.18"/><ellipse cx="416.2" cy="41.6" rx="3.81" ry="0.21" transform="rotate(79 416.2 41.6)" fill="#ff3a30" opacity="0.18"/><ellipse cx="422.8" cy="46.6" rx="3.47" ry="0.25" transform="rotate(84 422.8 46.6)" fill="#ff3a30" opacity="0.39"/><ellipse cx="425.1" cy="45.1" rx="1.32" ry="0.17" transform="rotate(-18 425.1 45.1)" fill="#ff3a30" opacity="0.30"/><ellipse cx="456.2" cy="45.5" rx="1.60" ry="1.23" transform="rotate(0 456.2 45.5)" fill="#ff3a30" opacity="0.60"/><ellipse cx="460.8" cy="43.9" rx="3.16" ry="0.17" transform="rotate(-19 460.8 43.9)" fill="#ff3a30" opacity="0.30"/><ellipse cx="437.9" cy="56.2" rx="4.24" ry="0.21" transform="rotate(-61 437.9 56.2)" fill="#ff3a30" opacity="0.36"/><ellipse cx="437.8" cy="59.3" rx="0.86" ry="0.62" transform="rotate(0 437.8 59.3)" fill="#ff3a30" opacity="0.54"/><ellipse cx="403.0" cy="58.8" rx="2.05" ry="0.21" transform="rotate(31 403.0 58.8)" fill="#ff3a30" opacity="0.24"/><ellipse cx="469.5" cy="70.7" rx="2.05" ry="0.21" transform="rotate(-59 469.5 70.7)" fill="#ff3a30" opacity="0.24"/><ellipse cx="404.7" cy="83.9" rx="1.11" ry="1.11" transform="rotate(0 404.7 83.9)" fill="#ff3a30" opacity="0.48"/><ellipse cx="407.4" cy="87.4" rx="2.30" ry="0.21" transform="rotate(59 407.4 87.4)" fill="#ff3a30" opacity="0.30"/><ellipse cx="461.2" cy="78.5" rx="2.44" ry="0.17" transform="rotate(-39 461.2 78.5)" fill="#ff3a30" opacity="0.12"/></g></g>
<g clip-path="url(#cp10)"><g filter="url(#bl)"><ellipse cx="43.0" cy="104.8" rx="2.00" ry="2.31" transform="rotate(0 43.0 104.8)" fill="#3dff2a" opacity="0.90"/><ellipse cx="46.8" cy="113.2" rx="2.00" ry="3.85" transform="rotate(15 46.8 113.2)" fill="#3dff2a" opacity="0.70"/><ellipse cx="60.7" cy="97.1" rx="2.31" ry="0.92" transform="rotate(0 60.7 97.1)" fill="#3dff2a" opacity="0.30"/><ellipse cx="69.9" cy="125.5" rx="3.38" ry="2.31" transform="rotate(30 69.9 125.5)" fill="none" stroke="#3dff2a" stroke-width="1.08" opacity="0.70"/><ellipse cx="63.8" cy="133.2" rx="2.15" ry="2.77" transform="rotate(0 63.8 133.2)" fill="#3dff2a" opacity="0.90"/><ellipse cx="30.7" cy="131.5" rx="3.64" ry="0.59" transform="rotate(17 30.7 131.5)" fill="#3dff2a" opacity="0.60"/><ellipse cx="34.2" cy="142.8" rx="7.29" ry="1.02" transform="rotate(-3 34.2 142.8)" fill="#3dff2a" opacity="0.80"/><ellipse cx="46.5" cy="141.7" rx="1.69" ry="3.69" transform="rotate(-5 46.5 141.7)" fill="#3dff2a" opacity="0.70"/><ellipse cx="33.0" cy="153.2" rx="6.46" ry="3.38" transform="rotate(10 33.0 153.2)" fill="#3dff2a" opacity="0.30"/><ellipse cx="30.7" cy="153.2" rx="3.63" ry="0.51" transform="rotate(45 30.7 153.2)" fill="#3dff2a" opacity="0.40"/><ellipse cx="38.0" cy="152.8" rx="2.61" ry="0.51" transform="rotate(31 38.0 152.8)" fill="#3dff2a" opacity="0.40"/><ellipse cx="67.6" cy="156.5" rx="4.39" ry="0.68" transform="rotate(-9 67.6 156.5)" fill="#3dff2a" opacity="0.70"/><ellipse cx="62.6" cy="160.3" rx="3.90" ry="0.59" transform="rotate(-3 62.6 160.3)" fill="#3dff2a" opacity="0.60"/><ellipse cx="89.2" cy="129.7" rx="0.92" ry="0.77" transform="rotate(0 89.2 129.7)" fill="#3dff2a" opacity="0.50"/></g><ellipse cx="43.0" cy="104.8" rx="1.60" ry="1.85" transform="rotate(0 43.0 104.8)" fill="#86ff4a" opacity="0.54"/><ellipse cx="46.8" cy="113.2" rx="1.60" ry="3.08" transform="rotate(15 46.8 113.2)" fill="#86ff4a" opacity="0.42"/><ellipse cx="60.7" cy="97.1" rx="1.85" ry="0.74" transform="rotate(0 60.7 97.1)" fill="#86ff4a" opacity="0.18"/><ellipse cx="69.9" cy="125.5" rx="3.38" ry="2.31" transform="rotate(30 69.9 125.5)" fill="none" stroke="#86ff4a" stroke-width="0.54" opacity="0.42"/><ellipse cx="63.8" cy="133.2" rx="1.72" ry="2.22" transform="rotate(0 63.8 133.2)" fill="#86ff4a" opacity="0.54"/><ellipse cx="30.7" cy="131.5" rx="3.28" ry="0.30" transform="rotate(17 30.7 131.5)" fill="#86ff4a" opacity="0.36"/><ellipse cx="34.2" cy="142.8" rx="6.56" ry="0.51" transform="rotate(-3 34.2 142.8)" fill="#86ff4a" opacity="0.48"/><ellipse cx="46.5" cy="141.7" rx="1.35" ry="2.95" transform="rotate(-5 46.5 141.7)" fill="#86ff4a" opacity="0.42"/><ellipse cx="33.0" cy="153.2" rx="5.17" ry="2.71" transform="rotate(10 33.0 153.2)" fill="#86ff4a" opacity="0.18"/><ellipse cx="30.7" cy="153.2" rx="3.27" ry="0.25" transform="rotate(45 30.7 153.2)" fill="#86ff4a" opacity="0.24"/><ellipse cx="38.0" cy="152.8" rx="2.35" ry="0.25" transform="rotate(31 38.0 152.8)" fill="#86ff4a" opacity="0.24"/><ellipse cx="67.6" cy="156.5" rx="3.95" ry="0.34" transform="rotate(-9 67.6 156.5)" fill="#86ff4a" opacity="0.42"/><ellipse cx="62.6" cy="160.3" rx="3.51" ry="0.30" transform="rotate(-3 62.6 160.3)" fill="#86ff4a" opacity="0.36"/><ellipse cx="89.2" cy="129.7" rx="0.74" ry="0.62" transform="rotate(0 89.2 129.7)" fill="#86ff4a" opacity="0.30"/></g>
<g clip-path="url(#cp11)"><g filter="url(#bl)"><ellipse cx="140.0" cy="133.7" rx="4.62" ry="6.15" transform="rotate(15 140.0 133.7)" fill="#ff1414" opacity="0.40"/><ellipse cx="111.5" cy="146.3" rx="8.46" ry="6.92" transform="rotate(20 111.5 146.3)" fill="#ff1414" opacity="0.18"/><ellipse cx="123.1" cy="108.6" rx="5.85" ry="6.92" transform="rotate(0 123.1 108.6)" fill="#ff1414" opacity="0.20"/><ellipse cx="124.2" cy="143.5" rx="3.85" ry="4.31" transform="rotate(0 124.2 143.5)" fill="#ff1414" opacity="0.20"/><ellipse cx="120.4" cy="109.4" rx="8.89" ry="1.02" transform="rotate(71 120.4 109.4)" fill="#ff1414" opacity="0.85"/><ellipse cx="126.2" cy="108.6" rx="5.88" ry="0.68" transform="rotate(0 126.2 108.6)" fill="#ff1414" opacity="0.80"/><ellipse cx="119.6" cy="102.8" rx="2.73" ry="0.68" transform="rotate(59 119.6 102.8)" fill="#ff1414" opacity="0.80"/><ellipse cx="140.0" cy="133.7" rx="4.15" ry="5.69" transform="rotate(15 140.0 133.7)" fill="none" stroke="#ff1414" stroke-width="1.69" opacity="0.95"/><ellipse cx="144.6" cy="126.7" rx="5.06" ry="0.59" transform="rotate(48 144.6 126.7)" fill="#ff1414" opacity="0.80"/><ellipse cx="149.2" cy="125.2" rx="2.83" ry="0.51" transform="rotate(51 149.2 125.2)" fill="#ff1414" opacity="0.70"/><ellipse cx="122.3" cy="144.0" rx="4.57" ry="0.59" transform="rotate(68 122.3 144.0)" fill="#ff1414" opacity="0.70"/><ellipse cx="125.8" cy="144.0" rx="4.73" ry="0.59" transform="rotate(-63 125.8 144.0)" fill="#ff1414" opacity="0.70"/><ellipse cx="110.0" cy="140.9" rx="6.57" ry="0.51" transform="rotate(-7 110.0 140.9)" fill="#ff1414" opacity="0.40"/><ellipse cx="111.9" cy="145.2" rx="5.45" ry="0.59" transform="rotate(4 111.9 145.2)" fill="#ff1414" opacity="0.50"/><ellipse cx="115.0" cy="152.1" rx="5.45" ry="0.76" transform="rotate(45 115.0 152.1)" fill="#ff1414" opacity="0.60"/><ellipse cx="106.2" cy="130.7" rx="2.82" ry="0.42" transform="rotate(23 106.2 130.7)" fill="#ff1414" opacity="0.30"/><ellipse cx="140.8" cy="159.4" rx="3.08" ry="0.42" transform="rotate(34 140.8 159.4)" fill="#ff1414" opacity="0.25"/><ellipse cx="138.1" cy="99.4" rx="3.71" ry="0.34" transform="rotate(0 138.1 99.4)" fill="#ff1414" opacity="0.25"/></g><ellipse cx="140.0" cy="133.7" rx="3.69" ry="4.92" transform="rotate(15 140.0 133.7)" fill="#ff3a30" opacity="0.24"/><ellipse cx="111.5" cy="146.3" rx="6.77" ry="5.54" transform="rotate(20 111.5 146.3)" fill="#ff3a30" opacity="0.11"/><ellipse cx="123.1" cy="108.6" rx="4.68" ry="5.54" transform="rotate(0 123.1 108.6)" fill="#ff3a30" opacity="0.12"/><ellipse cx="124.2" cy="143.5" rx="3.08" ry="3.45" transform="rotate(0 124.2 143.5)" fill="#ff3a30" opacity="0.12"/><ellipse cx="120.4" cy="109.4" rx="8.00" ry="0.51" transform="rotate(71 120.4 109.4)" fill="#ff3a30" opacity="0.51"/><ellipse cx="126.2" cy="108.6" rx="5.29" ry="0.34" transform="rotate(0 126.2 108.6)" fill="#ff3a30" opacity="0.48"/><ellipse cx="119.6" cy="102.8" rx="2.46" ry="0.34" transform="rotate(59 119.6 102.8)" fill="#ff3a30" opacity="0.48"/><ellipse cx="140.0" cy="133.7" rx="4.15" ry="5.69" transform="rotate(15 140.0 133.7)" fill="none" stroke="#ff3a30" stroke-width="0.85" opacity="0.57"/><ellipse cx="144.6" cy="126.7" rx="4.56" ry="0.30" transform="rotate(48 144.6 126.7)" fill="#ff3a30" opacity="0.48"/><ellipse cx="149.2" cy="125.2" rx="2.55" ry="0.25" transform="rotate(51 149.2 125.2)" fill="#ff3a30" opacity="0.42"/><ellipse cx="122.3" cy="144.0" rx="4.12" ry="0.30" transform="rotate(68 122.3 144.0)" fill="#ff3a30" opacity="0.42"/><ellipse cx="125.8" cy="144.0" rx="4.26" ry="0.30" transform="rotate(-63 125.8 144.0)" fill="#ff3a30" opacity="0.42"/><ellipse cx="110.0" cy="140.9" rx="5.91" ry="0.25" transform="rotate(-7 110.0 140.9)" fill="#ff3a30" opacity="0.24"/><ellipse cx="111.9" cy="145.2" rx="4.90" ry="0.30" transform="rotate(4 111.9 145.2)" fill="#ff3a30" opacity="0.30"/><ellipse cx="115.0" cy="152.1" rx="4.90" ry="0.38" transform="rotate(45 115.0 152.1)" fill="#ff3a30" opacity="0.36"/><ellipse cx="106.2" cy="130.7" rx="2.54" ry="0.21" transform="rotate(23 106.2 130.7)" fill="#ff3a30" opacity="0.18"/><ellipse cx="140.8" cy="159.4" rx="2.77" ry="0.21" transform="rotate(34 140.8 159.4)" fill="#ff3a30" opacity="0.15"/><ellipse cx="138.1" cy="99.4" rx="3.34" ry="0.17" transform="rotate(0 138.1 99.4)" fill="#ff3a30" opacity="0.15"/></g>
<g clip-path="url(#cp12)"><g filter="url(#bl)"><ellipse cx="196.7" cy="104.8" rx="2.00" ry="2.31" transform="rotate(0 196.7 104.8)" fill="#3dff2a" opacity="0.90"/><ellipse cx="200.5" cy="113.2" rx="2.00" ry="3.85" transform="rotate(15 200.5 113.2)" fill="#3dff2a" opacity="0.70"/><ellipse cx="214.3" cy="97.1" rx="2.31" ry="0.92" transform="rotate(0 214.3 97.1)" fill="#3dff2a" opacity="0.30"/><ellipse cx="223.6" cy="125.5" rx="3.38" ry="2.31" transform="rotate(30 223.6 125.5)" fill="none" stroke="#3dff2a" stroke-width="1.08" opacity="0.70"/><ellipse cx="217.4" cy="133.2" rx="2.15" ry="2.77" transform="rotate(0 217.4 133.2)" fill="#3dff2a" opacity="0.90"/><ellipse cx="184.3" cy="131.5" rx="3.64" ry="0.59" transform="rotate(17 184.3 131.5)" fill="#3dff2a" opacity="0.60"/><ellipse cx="187.8" cy="142.8" rx="7.29" ry="1.02" transform="rotate(-3 187.8 142.8)" fill="#3dff2a" opacity="0.80"/><ellipse cx="200.2" cy="141.7" rx="1.69" ry="3.69" transform="rotate(-5 200.2 141.7)" fill="#3dff2a" opacity="0.70"/><ellipse cx="186.7" cy="153.2" rx="6.46" ry="3.38" transform="rotate(10 186.7 153.2)" fill="#3dff2a" opacity="0.30"/><ellipse cx="184.3" cy="153.2" rx="3.63" ry="0.51" transform="rotate(45 184.3 153.2)" fill="#3dff2a" opacity="0.40"/><ellipse cx="191.7" cy="152.8" rx="2.61" ry="0.51" transform="rotate(31 191.7 152.8)" fill="#3dff2a" opacity="0.40"/><ellipse cx="221.3" cy="156.5" rx="4.39" ry="0.68" transform="rotate(-9 221.3 156.5)" fill="#3dff2a" opacity="0.70"/><ellipse cx="216.3" cy="160.3" rx="3.90" ry="0.59" transform="rotate(-3 216.3 160.3)" fill="#3dff2a" opacity="0.60"/><ellipse cx="242.8" cy="129.7" rx="0.92" ry="0.77" transform="rotate(0 242.8 129.7)" fill="#3dff2a" opacity="0.50"/></g><ellipse cx="196.7" cy="104.8" rx="1.60" ry="1.85" transform="rotate(0 196.7 104.8)" fill="#86ff4a" opacity="0.54"/><ellipse cx="200.5" cy="113.2" rx="1.60" ry="3.08" transform="rotate(15 200.5 113.2)" fill="#86ff4a" opacity="0.42"/><ellipse cx="214.3" cy="97.1" rx="1.85" ry="0.74" transform="rotate(0 214.3 97.1)" fill="#86ff4a" opacity="0.18"/><ellipse cx="223.6" cy="125.5" rx="3.38" ry="2.31" transform="rotate(30 223.6 125.5)" fill="none" stroke="#86ff4a" stroke-width="0.54" opacity="0.42"/><ellipse cx="217.4" cy="133.2" rx="1.72" ry="2.22" transform="rotate(0 217.4 133.2)" fill="#86ff4a" opacity="0.54"/><ellipse cx="184.3" cy="131.5" rx="3.28" ry="0.30" transform="rotate(17 184.3 131.5)" fill="#86ff4a" opacity="0.36"/><ellipse cx="187.8" cy="142.8" rx="6.56" ry="0.51" transform="rotate(-3 187.8 142.8)" fill="#86ff4a" opacity="0.48"/><ellipse cx="200.2" cy="141.7" rx="1.35" ry="2.95" transform="rotate(-5 200.2 141.7)" fill="#86ff4a" opacity="0.42"/><ellipse cx="186.7" cy="153.2" rx="5.17" ry="2.71" transform="rotate(10 186.7 153.2)" fill="#86ff4a" opacity="0.18"/><ellipse cx="184.3" cy="153.2" rx="3.27" ry="0.25" transform="rotate(45 184.3 153.2)" fill="#86ff4a" opacity="0.24"/><ellipse cx="191.7" cy="152.8" rx="2.35" ry="0.25" transform="rotate(31 191.7 152.8)" fill="#86ff4a" opacity="0.24"/><ellipse cx="221.3" cy="156.5" rx="3.95" ry="0.34" transform="rotate(-9 221.3 156.5)" fill="#86ff4a" opacity="0.42"/><ellipse cx="216.3" cy="160.3" rx="3.51" ry="0.30" transform="rotate(-3 216.3 160.3)" fill="#86ff4a" opacity="0.36"/><ellipse cx="242.8" cy="129.7" rx="0.74" ry="0.62" transform="rotate(0 242.8 129.7)" fill="#86ff4a" opacity="0.30"/><g style="mix-blend-mode:screen"><g filter="url(#bl)"><ellipse cx="216.8" cy="133.7" rx="4.62" ry="6.15" transform="rotate(15 216.8 133.7)" fill="#ff1414" opacity="0.40"/><ellipse cx="188.3" cy="146.3" rx="8.46" ry="6.92" transform="rotate(20 188.3 146.3)" fill="#ff1414" opacity="0.18"/><ellipse cx="199.8" cy="108.6" rx="5.85" ry="6.92" transform="rotate(0 199.8 108.6)" fill="#ff1414" opacity="0.20"/><ellipse cx="200.9" cy="143.5" rx="3.85" ry="4.31" transform="rotate(0 200.9 143.5)" fill="#ff1414" opacity="0.20"/><ellipse cx="197.1" cy="109.4" rx="8.89" ry="1.02" transform="rotate(71 197.1 109.4)" fill="#ff1414" opacity="0.85"/><ellipse cx="202.9" cy="108.6" rx="5.88" ry="0.68" transform="rotate(0 202.9 108.6)" fill="#ff1414" opacity="0.80"/><ellipse cx="196.4" cy="102.8" rx="2.73" ry="0.68" transform="rotate(59 196.4 102.8)" fill="#ff1414" opacity="0.80"/><ellipse cx="216.8" cy="133.7" rx="4.15" ry="5.69" transform="rotate(15 216.8 133.7)" fill="none" stroke="#ff1414" stroke-width="1.69" opacity="0.95"/><ellipse cx="221.4" cy="126.7" rx="5.06" ry="0.59" transform="rotate(48 221.4 126.7)" fill="#ff1414" opacity="0.80"/><ellipse cx="226.0" cy="125.2" rx="2.83" ry="0.51" transform="rotate(51 226.0 125.2)" fill="#ff1414" opacity="0.70"/><ellipse cx="199.1" cy="144.0" rx="4.57" ry="0.59" transform="rotate(68 199.1 144.0)" fill="#ff1414" opacity="0.70"/><ellipse cx="202.5" cy="144.0" rx="4.73" ry="0.59" transform="rotate(-63 202.5 144.0)" fill="#ff1414" opacity="0.70"/><ellipse cx="186.8" cy="140.9" rx="6.57" ry="0.51" transform="rotate(-7 186.8 140.9)" fill="#ff1414" opacity="0.40"/><ellipse cx="188.7" cy="145.2" rx="5.45" ry="0.59" transform="rotate(4 188.7 145.2)" fill="#ff1414" opacity="0.50"/><ellipse cx="191.8" cy="152.1" rx="5.45" ry="0.76" transform="rotate(45 191.8 152.1)" fill="#ff1414" opacity="0.60"/><ellipse cx="182.9" cy="130.7" rx="2.82" ry="0.42" transform="rotate(23 182.9 130.7)" fill="#ff1414" opacity="0.30"/><ellipse cx="217.5" cy="159.4" rx="3.08" ry="0.42" transform="rotate(34 217.5 159.4)" fill="#ff1414" opacity="0.25"/><ellipse cx="214.8" cy="99.4" rx="3.71" ry="0.34" transform="rotate(0 214.8 99.4)" fill="#ff1414" opacity="0.25"/></g><ellipse cx="216.8" cy="133.7" rx="3.69" ry="4.92" transform="rotate(15 216.8 133.7)" fill="#ff3a30" opacity="0.24"/><ellipse cx="188.3" cy="146.3" rx="6.77" ry="5.54" transform="rotate(20 188.3 146.3)" fill="#ff3a30" opacity="0.11"/><ellipse cx="199.8" cy="108.6" rx="4.68" ry="5.54" transform="rotate(0 199.8 108.6)" fill="#ff3a30" opacity="0.12"/><ellipse cx="200.9" cy="143.5" rx="3.08" ry="3.45" transform="rotate(0 200.9 143.5)" fill="#ff3a30" opacity="0.12"/><ellipse cx="197.1" cy="109.4" rx="8.00" ry="0.51" transform="rotate(71 197.1 109.4)" fill="#ff3a30" opacity="0.51"/><ellipse cx="202.9" cy="108.6" rx="5.29" ry="0.34" transform="rotate(0 202.9 108.6)" fill="#ff3a30" opacity="0.48"/><ellipse cx="196.4" cy="102.8" rx="2.46" ry="0.34" transform="rotate(59 196.4 102.8)" fill="#ff3a30" opacity="0.48"/><ellipse cx="216.8" cy="133.7" rx="4.15" ry="5.69" transform="rotate(15 216.8 133.7)" fill="none" stroke="#ff3a30" stroke-width="0.85" opacity="0.57"/><ellipse cx="221.4" cy="126.7" rx="4.56" ry="0.30" transform="rotate(48 221.4 126.7)" fill="#ff3a30" opacity="0.48"/><ellipse cx="226.0" cy="125.2" rx="2.55" ry="0.25" transform="rotate(51 226.0 125.2)" fill="#ff3a30" opacity="0.42"/><ellipse cx="199.1" cy="144.0" rx="4.12" ry="0.30" transform="rotate(68 199.1 144.0)" fill="#ff3a30" opacity="0.42"/><ellipse cx="202.5" cy="144.0" rx="4.26" ry="0.30" transform="rotate(-63 202.5 144.0)" fill="#ff3a30" opacity="0.42"/><ellipse cx="186.8" cy="140.9" rx="5.91" ry="0.25" transform="rotate(-7 186.8 140.9)" fill="#ff3a30" opacity="0.24"/><ellipse cx="188.7" cy="145.2" rx="4.90" ry="0.30" transform="rotate(4 188.7 145.2)" fill="#ff3a30" opacity="0.30"/><ellipse cx="191.8" cy="152.1" rx="4.90" ry="0.38" transform="rotate(45 191.8 152.1)" fill="#ff3a30" opacity="0.36"/><ellipse cx="182.9" cy="130.7" rx="2.54" ry="0.21" transform="rotate(23 182.9 130.7)" fill="#ff3a30" opacity="0.18"/><ellipse cx="217.5" cy="159.4" rx="2.77" ry="0.21" transform="rotate(34 217.5 159.4)" fill="#ff3a30" opacity="0.15"/><ellipse cx="214.8" cy="99.4" rx="3.34" ry="0.17" transform="rotate(0 214.8 99.4)" fill="#ff3a30" opacity="0.15"/></g></g>
<g clip-path="url(#cp13)"><g filter="url(#bl)"><ellipse cx="286.5" cy="107.8" rx="1.54" ry="2.15" transform="rotate(-15 286.5 107.8)" fill="#3dff2a" opacity="1.00"/><ellipse cx="253.5" cy="126.6" rx="2.46" ry="1.54" transform="rotate(0 253.5 126.6)" fill="#3dff2a" opacity="1.00"/><ellipse cx="302.2" cy="133.2" rx="5.08" ry="4.31" transform="rotate(0 302.2 133.2)" fill="#3dff2a" opacity="0.22"/><ellipse cx="302.2" cy="132.8" rx="3.92" ry="0.51" transform="rotate(-49 302.2 132.8)" fill="#3dff2a" opacity="0.40"/><ellipse cx="305.3" cy="132.8" rx="2.83" ry="0.51" transform="rotate(51 305.3 132.8)" fill="#3dff2a" opacity="0.40"/><ellipse cx="278.1" cy="138.9" rx="2.00" ry="2.00" transform="rotate(0 278.1 138.9)" fill="#3dff2a" opacity="0.45"/><ellipse cx="265.3" cy="155.3" rx="3.54" ry="0.59" transform="rotate(-42 265.3 155.3)" fill="#3dff2a" opacity="0.60"/><ellipse cx="289.6" cy="160.9" rx="1.85" ry="2.15" transform="rotate(0 289.6 160.9)" fill="#3dff2a" opacity="0.90"/></g><ellipse cx="286.5" cy="107.8" rx="1.23" ry="1.72" transform="rotate(-15 286.5 107.8)" fill="#86ff4a" opacity="0.60"/><ellipse cx="253.5" cy="126.6" rx="1.97" ry="1.23" transform="rotate(0 253.5 126.6)" fill="#86ff4a" opacity="0.60"/><ellipse cx="302.2" cy="133.2" rx="4.06" ry="3.45" transform="rotate(0 302.2 133.2)" fill="#86ff4a" opacity="0.13"/><ellipse cx="302.2" cy="132.8" rx="3.52" ry="0.25" transform="rotate(-49 302.2 132.8)" fill="#86ff4a" opacity="0.24"/><ellipse cx="305.3" cy="132.8" rx="2.55" ry="0.25" transform="rotate(51 305.3 132.8)" fill="#86ff4a" opacity="0.24"/><ellipse cx="278.1" cy="138.9" rx="1.60" ry="1.60" transform="rotate(0 278.1 138.9)" fill="#86ff4a" opacity="0.27"/><ellipse cx="265.3" cy="155.3" rx="3.18" ry="0.30" transform="rotate(-42 265.3 155.3)" fill="#86ff4a" opacity="0.36"/><ellipse cx="289.6" cy="160.9" rx="1.48" ry="1.72" transform="rotate(0 289.6 160.9)" fill="#86ff4a" opacity="0.54"/></g>
<g clip-path="url(#cp14)"><g filter="url(#bl)"><ellipse cx="363.5" cy="107.8" rx="1.38" ry="1.54" transform="rotate(0 363.5 107.8)" fill="#ff1414" opacity="1.00"/><ellipse cx="330.8" cy="126.3" rx="1.69" ry="1.08" transform="rotate(10 330.8 126.3)" fill="#ff1414" opacity="1.00"/><ellipse cx="333.8" cy="96.8" rx="1.38" ry="0.92" transform="rotate(0 333.8 96.8)" fill="#ff1414" opacity="0.90"/><ellipse cx="379.2" cy="132.5" rx="4.62" ry="5.85" transform="rotate(0 379.2 132.5)" fill="none" stroke="#ff1414" stroke-width="0.77" opacity="0.30"/><ellipse cx="380.0" cy="135.2" rx="1.08" ry="0.77" transform="rotate(0 380.0 135.2)" fill="#ff1414" opacity="1.00"/><ellipse cx="377.3" cy="125.7" rx="1.79" ry="0.42" transform="rotate(39 377.3 125.7)" fill="#ff1414" opacity="0.50"/><ellipse cx="356.2" cy="138.3" rx="3.38" ry="2.15" transform="rotate(0 356.2 138.3)" fill="none" stroke="#ff1414" stroke-width="0.62" opacity="0.30"/><ellipse cx="353.1" cy="136.3" rx="0.92" ry="0.62" transform="rotate(0 353.1 136.3)" fill="#ff1414" opacity="0.80"/><ellipse cx="359.2" cy="137.5" rx="0.92" ry="0.62" transform="rotate(0 359.2 137.5)" fill="#ff1414" opacity="0.70"/><ellipse cx="343.8" cy="153.2" rx="2.48" ry="0.42" transform="rotate(45 343.8 153.2)" fill="#ff1414" opacity="0.25"/><ellipse cx="367.7" cy="158.6" rx="2.48" ry="0.42" transform="rotate(45 367.7 158.6)" fill="#ff1414" opacity="0.30"/><ellipse cx="396.9" cy="133.2" rx="0.62" ry="0.92" transform="rotate(0 396.9 133.2)" fill="#ff1414" opacity="0.60"/></g><ellipse cx="363.5" cy="107.8" rx="1.11" ry="1.23" transform="rotate(0 363.5 107.8)" fill="#ff3a30" opacity="0.60"/><ellipse cx="330.8" cy="126.3" rx="1.35" ry="0.86" transform="rotate(10 330.8 126.3)" fill="#ff3a30" opacity="0.60"/><ellipse cx="333.8" cy="96.8" rx="1.11" ry="0.74" transform="rotate(0 333.8 96.8)" fill="#ff3a30" opacity="0.54"/><ellipse cx="379.2" cy="132.5" rx="4.62" ry="5.85" transform="rotate(0 379.2 132.5)" fill="none" stroke="#ff3a30" stroke-width="0.38" opacity="0.18"/><ellipse cx="380.0" cy="135.2" rx="0.86" ry="0.62" transform="rotate(0 380.0 135.2)" fill="#ff3a30" opacity="0.60"/><ellipse cx="377.3" cy="125.7" rx="1.61" ry="0.21" transform="rotate(39 377.3 125.7)" fill="#ff3a30" opacity="0.30"/><ellipse cx="356.2" cy="138.3" rx="3.38" ry="2.15" transform="rotate(0 356.2 138.3)" fill="none" stroke="#ff3a30" stroke-width="0.31" opacity="0.18"/><ellipse cx="353.1" cy="136.3" rx="0.74" ry="0.49" transform="rotate(0 353.1 136.3)" fill="#ff3a30" opacity="0.48"/><ellipse cx="359.2" cy="137.5" rx="0.74" ry="0.49" transform="rotate(0 359.2 137.5)" fill="#ff3a30" opacity="0.42"/><ellipse cx="343.8" cy="153.2" rx="2.24" ry="0.21" transform="rotate(45 343.8 153.2)" fill="#ff3a30" opacity="0.15"/><ellipse cx="367.7" cy="158.6" rx="2.24" ry="0.21" transform="rotate(45 367.7 158.6)" fill="#ff3a30" opacity="0.18"/><ellipse cx="396.9" cy="133.2" rx="0.49" ry="0.74" transform="rotate(0 396.9 133.2)" fill="#ff3a30" opacity="0.36"/></g>
<g clip-path="url(#cp15)"><g filter="url(#bl)"><ellipse cx="440.3" cy="107.8" rx="1.54" ry="2.15" transform="rotate(-15 440.3 107.8)" fill="#3dff2a" opacity="1.00"/><ellipse cx="407.3" cy="126.6" rx="2.46" ry="1.54" transform="rotate(0 407.3 126.6)" fill="#3dff2a" opacity="1.00"/><ellipse cx="456.0" cy="133.2" rx="5.08" ry="4.31" transform="rotate(0 456.0 133.2)" fill="#3dff2a" opacity="0.22"/><ellipse cx="456.0" cy="132.8" rx="3.92" ry="0.51" transform="rotate(-49 456.0 132.8)" fill="#3dff2a" opacity="0.40"/><ellipse cx="459.1" cy="132.8" rx="2.83" ry="0.51" transform="rotate(51 459.1 132.8)" fill="#3dff2a" opacity="0.40"/><ellipse cx="431.9" cy="138.9" rx="2.00" ry="2.00" transform="rotate(0 431.9 138.9)" fill="#3dff2a" opacity="0.45"/><ellipse cx="419.1" cy="155.3" rx="3.54" ry="0.59" transform="rotate(-42 419.1 155.3)" fill="#3dff2a" opacity="0.60"/><ellipse cx="443.4" cy="160.9" rx="1.85" ry="2.15" transform="rotate(0 443.4 160.9)" fill="#3dff2a" opacity="0.90"/></g><ellipse cx="440.3" cy="107.8" rx="1.23" ry="1.72" transform="rotate(-15 440.3 107.8)" fill="#86ff4a" opacity="0.60"/><ellipse cx="407.3" cy="126.6" rx="1.97" ry="1.23" transform="rotate(0 407.3 126.6)" fill="#86ff4a" opacity="0.60"/><ellipse cx="456.0" cy="133.2" rx="4.06" ry="3.45" transform="rotate(0 456.0 133.2)" fill="#86ff4a" opacity="0.13"/><ellipse cx="456.0" cy="132.8" rx="3.52" ry="0.25" transform="rotate(-49 456.0 132.8)" fill="#86ff4a" opacity="0.24"/><ellipse cx="459.1" cy="132.8" rx="2.55" ry="0.25" transform="rotate(51 459.1 132.8)" fill="#86ff4a" opacity="0.24"/><ellipse cx="431.9" cy="138.9" rx="1.60" ry="1.60" transform="rotate(0 431.9 138.9)" fill="#86ff4a" opacity="0.27"/><ellipse cx="419.1" cy="155.3" rx="3.18" ry="0.30" transform="rotate(-42 419.1 155.3)" fill="#86ff4a" opacity="0.36"/><ellipse cx="443.4" cy="160.9" rx="1.48" ry="1.72" transform="rotate(0 443.4 160.9)" fill="#86ff4a" opacity="0.54"/><g style="mix-blend-mode:screen"><g filter="url(#bl)"><ellipse cx="440.5" cy="107.8" rx="1.38" ry="1.54" transform="rotate(0 440.5 107.8)" fill="#ff1414" opacity="1.00"/><ellipse cx="407.8" cy="126.3" rx="1.69" ry="1.08" transform="rotate(10 407.8 126.3)" fill="#ff1414" opacity="1.00"/><ellipse cx="410.8" cy="96.8" rx="1.38" ry="0.92" transform="rotate(0 410.8 96.8)" fill="#ff1414" opacity="0.90"/><ellipse cx="456.2" cy="132.5" rx="4.62" ry="5.85" transform="rotate(0 456.2 132.5)" fill="none" stroke="#ff1414" stroke-width="0.77" opacity="0.30"/><ellipse cx="457.0" cy="135.2" rx="1.08" ry="0.77" transform="rotate(0 457.0 135.2)" fill="#ff1414" opacity="1.00"/><ellipse cx="454.3" cy="125.7" rx="1.79" ry="0.42" transform="rotate(39 454.3 125.7)" fill="#ff1414" opacity="0.50"/><ellipse cx="433.2" cy="138.3" rx="3.38" ry="2.15" transform="rotate(0 433.2 138.3)" fill="none" stroke="#ff1414" stroke-width="0.62" opacity="0.30"/><ellipse cx="430.1" cy="136.3" rx="0.92" ry="0.62" transform="rotate(0 430.1 136.3)" fill="#ff1414" opacity="0.80"/><ellipse cx="436.2" cy="137.5" rx="0.92" ry="0.62" transform="rotate(0 436.2 137.5)" fill="#ff1414" opacity="0.70"/><ellipse cx="420.8" cy="153.2" rx="2.48" ry="0.42" transform="rotate(45 420.8 153.2)" fill="#ff1414" opacity="0.25"/><ellipse cx="444.7" cy="158.6" rx="2.48" ry="0.42" transform="rotate(45 444.7 158.6)" fill="#ff1414" opacity="0.30"/><ellipse cx="473.9" cy="133.2" rx="0.62" ry="0.92" transform="rotate(0 473.9 133.2)" fill="#ff1414" opacity="0.60"/></g><ellipse cx="440.5" cy="107.8" rx="1.11" ry="1.23" transform="rotate(0 440.5 107.8)" fill="#ff3a30" opacity="0.60"/><ellipse cx="407.8" cy="126.3" rx="1.35" ry="0.86" transform="rotate(10 407.8 126.3)" fill="#ff3a30" opacity="0.60"/><ellipse cx="410.8" cy="96.8" rx="1.11" ry="0.74" transform="rotate(0 410.8 96.8)" fill="#ff3a30" opacity="0.54"/><ellipse cx="456.2" cy="132.5" rx="4.62" ry="5.85" transform="rotate(0 456.2 132.5)" fill="none" stroke="#ff3a30" stroke-width="0.38" opacity="0.18"/><ellipse cx="457.0" cy="135.2" rx="0.86" ry="0.62" transform="rotate(0 457.0 135.2)" fill="#ff3a30" opacity="0.60"/><ellipse cx="454.3" cy="125.7" rx="1.61" ry="0.21" transform="rotate(39 454.3 125.7)" fill="#ff3a30" opacity="0.30"/><ellipse cx="433.2" cy="138.3" rx="3.38" ry="2.15" transform="rotate(0 433.2 138.3)" fill="none" stroke="#ff3a30" stroke-width="0.31" opacity="0.18"/><ellipse cx="430.1" cy="136.3" rx="0.74" ry="0.49" transform="rotate(0 430.1 136.3)" fill="#ff3a30" opacity="0.48"/><ellipse cx="436.2" cy="137.5" rx="0.74" ry="0.49" transform="rotate(0 436.2 137.5)" fill="#ff3a30" opacity="0.42"/><ellipse cx="420.8" cy="153.2" rx="2.24" ry="0.21" transform="rotate(45 420.8 153.2)" fill="#ff3a30" opacity="0.15"/><ellipse cx="444.7" cy="158.6" rx="2.24" ry="0.21" transform="rotate(45 444.7 158.6)" fill="#ff3a30" opacity="0.18"/><ellipse cx="473.9" cy="133.2" rx="0.49" ry="0.74" transform="rotate(0 473.9 133.2)" fill="#ff3a30" opacity="0.36"/></g></g>
<g clip-path="url(#cp20)"><g filter="url(#bl)"><ellipse cx="57.3" cy="177.4" rx="2.15" ry="3.85" transform="rotate(-10 57.3 177.4)" fill="none" stroke="#3dff2a" stroke-width="1.38" opacity="0.90"/><ellipse cx="58.0" cy="185.7" rx="5.06" ry="0.76" transform="rotate(-20 58.0 185.7)" fill="#3dff2a" opacity="0.65"/><ellipse cx="18.4" cy="193.1" rx="1.38" ry="1.85" transform="rotate(0 18.4 193.1)" fill="none" stroke="#3dff2a" stroke-width="0.77" opacity="0.50"/><ellipse cx="43.0" cy="196.2" rx="2.00" ry="1.85" transform="rotate(0 43.0 196.2)" fill="none" stroke="#3dff2a" stroke-width="1.08" opacity="0.80"/><ellipse cx="66.5" cy="202.3" rx="3.37" ry="0.51" transform="rotate(50 66.5 202.3)" fill="#3dff2a" opacity="0.45"/><ellipse cx="85.0" cy="205.1" rx="1.69" ry="1.85" transform="rotate(0 85.0 205.1)" fill="none" stroke="#3dff2a" stroke-width="0.92" opacity="0.70"/><ellipse cx="39.9" cy="210.8" rx="4.00" ry="2.77" transform="rotate(20 39.9 210.8)" fill="#3dff2a" opacity="0.85"/><ellipse cx="16.8" cy="216.9" rx="2.15" ry="2.46" transform="rotate(0 16.8 216.9)" fill="none" stroke="#3dff2a" stroke-width="1.23" opacity="0.80"/><ellipse cx="78.4" cy="216.9" rx="2.15" ry="3.54" transform="rotate(30 78.4 216.9)" fill="none" stroke="#3dff2a" stroke-width="1.23" opacity="0.75"/><ellipse cx="16.1" cy="227.7" rx="0.92" ry="1.85" transform="rotate(0 16.1 227.7)" fill="#3dff2a" opacity="0.60"/><ellipse cx="64.5" cy="234.2" rx="3.69" ry="0.59" transform="rotate(-45 64.5 234.2)" fill="#3dff2a" opacity="0.75"/><ellipse cx="72.2" cy="245.1" rx="3.08" ry="1.23" transform="rotate(0 72.2 245.1)" fill="none" stroke="#3dff2a" stroke-width="0.92" opacity="0.80"/><ellipse cx="85.9" cy="228.8" rx="1.79" ry="0.42" transform="rotate(51 85.9 228.8)" fill="#3dff2a" opacity="0.50"/></g><ellipse cx="57.3" cy="177.4" rx="2.15" ry="3.85" transform="rotate(-10 57.3 177.4)" fill="none" stroke="#86ff4a" stroke-width="0.69" opacity="0.54"/><ellipse cx="58.0" cy="185.7" rx="4.55" ry="0.38" transform="rotate(-20 58.0 185.7)" fill="#86ff4a" opacity="0.39"/><ellipse cx="18.4" cy="193.1" rx="1.38" ry="1.85" transform="rotate(0 18.4 193.1)" fill="none" stroke="#86ff4a" stroke-width="0.38" opacity="0.30"/><ellipse cx="43.0" cy="196.2" rx="2.00" ry="1.85" transform="rotate(0 43.0 196.2)" fill="none" stroke="#86ff4a" stroke-width="0.54" opacity="0.48"/><ellipse cx="66.5" cy="202.3" rx="3.04" ry="0.25" transform="rotate(50 66.5 202.3)" fill="#86ff4a" opacity="0.27"/><ellipse cx="85.0" cy="205.1" rx="1.69" ry="1.85" transform="rotate(0 85.0 205.1)" fill="none" stroke="#86ff4a" stroke-width="0.46" opacity="0.42"/><ellipse cx="39.9" cy="210.8" rx="3.20" ry="2.22" transform="rotate(20 39.9 210.8)" fill="#86ff4a" opacity="0.51"/><ellipse cx="16.8" cy="216.9" rx="2.15" ry="2.46" transform="rotate(0 16.8 216.9)" fill="none" stroke="#86ff4a" stroke-width="0.62" opacity="0.48"/><ellipse cx="78.4" cy="216.9" rx="2.15" ry="3.54" transform="rotate(30 78.4 216.9)" fill="none" stroke="#86ff4a" stroke-width="0.62" opacity="0.45"/><ellipse cx="16.1" cy="227.7" rx="0.74" ry="1.48" transform="rotate(0 16.1 227.7)" fill="#86ff4a" opacity="0.36"/><ellipse cx="64.5" cy="234.2" rx="3.32" ry="0.30" transform="rotate(-45 64.5 234.2)" fill="#86ff4a" opacity="0.45"/><ellipse cx="72.2" cy="245.1" rx="3.08" ry="1.23" transform="rotate(0 72.2 245.1)" fill="none" stroke="#86ff4a" stroke-width="0.46" opacity="0.48"/><ellipse cx="85.9" cy="228.8" rx="1.61" ry="0.21" transform="rotate(51 85.9 228.8)" fill="#86ff4a" opacity="0.30"/></g>
<g clip-path="url(#cp21)"><g filter="url(#bl)"><ellipse cx="133.8" cy="177.4" rx="2.62" ry="4.62" transform="rotate(-10 133.8 177.4)" fill="#ff1414" opacity="0.40"/><ellipse cx="119.2" cy="195.8" rx="2.92" ry="2.46" transform="rotate(10 119.2 195.8)" fill="#ff1414" opacity="0.40"/><ellipse cx="133.8" cy="177.4" rx="2.62" ry="4.62" transform="rotate(-10 133.8 177.4)" fill="none" stroke="#ff1414" stroke-width="1.69" opacity="0.95"/><ellipse cx="133.8" cy="186.6" rx="4.00" ry="2.46" transform="rotate(-20 133.8 186.6)" fill="none" stroke="#ff1414" stroke-width="0.77" opacity="0.35"/><ellipse cx="119.2" cy="195.8" rx="2.92" ry="2.46" transform="rotate(10 119.2 195.8)" fill="none" stroke="#ff1414" stroke-width="1.69" opacity="0.95"/><ellipse cx="143.5" cy="201.5" rx="1.38" ry="3.38" transform="rotate(-25 143.5 201.5)" fill="none" stroke="#ff1414" stroke-width="1.08" opacity="0.80"/><ellipse cx="117.4" cy="210.8" rx="4.31" ry="3.38" transform="rotate(0 117.4 210.8)" fill="none" stroke="#ff1414" stroke-width="0.92" opacity="0.50"/><ellipse cx="96.0" cy="193.5" rx="4.10" ry="0.51" transform="rotate(-68 96.0 193.5)" fill="#ff1414" opacity="0.50"/><ellipse cx="94.3" cy="215.4" rx="1.54" ry="2.46" transform="rotate(-10 94.3 215.4)" fill="none" stroke="#ff1414" stroke-width="0.92" opacity="0.80"/><ellipse cx="94.0" cy="226.5" rx="3.13" ry="0.51" transform="rotate(-77 94.0 226.5)" fill="#ff1414" opacity="0.50"/><ellipse cx="154.6" cy="219.2" rx="1.85" ry="2.77" transform="rotate(0 154.6 219.2)" fill="none" stroke="#ff1414" stroke-width="0.62" opacity="0.12"/><ellipse cx="147.3" cy="242.3" rx="2.32" ry="0.34" transform="rotate(-22 147.3 242.3)" fill="#ff1414" opacity="0.20"/></g><ellipse cx="133.8" cy="177.4" rx="2.09" ry="3.69" transform="rotate(-10 133.8 177.4)" fill="#ff3a30" opacity="0.24"/><ellipse cx="119.2" cy="195.8" rx="2.34" ry="1.97" transform="rotate(10 119.2 195.8)" fill="#ff3a30" opacity="0.24"/><ellipse cx="133.8" cy="177.4" rx="2.62" ry="4.62" transform="rotate(-10 133.8 177.4)" fill="none" stroke="#ff3a30" stroke-width="0.85" opacity="0.57"/><ellipse cx="133.8" cy="186.6" rx="4.00" ry="2.46" transform="rotate(-20 133.8 186.6)" fill="none" stroke="#ff3a30" stroke-width="0.38" opacity="0.21"/><ellipse cx="119.2" cy="195.8" rx="2.92" ry="2.46" transform="rotate(10 119.2 195.8)" fill="none" stroke="#ff3a30" stroke-width="0.85" opacity="0.57"/><ellipse cx="143.5" cy="201.5" rx="1.38" ry="3.38" transform="rotate(-25 143.5 201.5)" fill="none" stroke="#ff3a30" stroke-width="0.54" opacity="0.48"/><ellipse cx="117.4" cy="210.8" rx="4.31" ry="3.38" transform="rotate(0 117.4 210.8)" fill="none" stroke="#ff3a30" stroke-width="0.46" opacity="0.30"/><ellipse cx="96.0" cy="193.5" rx="3.69" ry="0.25" transform="rotate(-68 96.0 193.5)" fill="#ff3a30" opacity="0.30"/><ellipse cx="94.3" cy="215.4" rx="1.54" ry="2.46" transform="rotate(-10 94.3 215.4)" fill="none" stroke="#ff3a30" stroke-width="0.46" opacity="0.48"/><ellipse cx="94.0" cy="226.5" rx="2.82" ry="0.25" transform="rotate(-77 94.0 226.5)" fill="#ff3a30" opacity="0.30"/><ellipse cx="154.6" cy="219.2" rx="1.85" ry="2.77" transform="rotate(0 154.6 219.2)" fill="none" stroke="#ff3a30" stroke-width="0.31" opacity="0.07"/><ellipse cx="147.3" cy="242.3" rx="2.09" ry="0.17" transform="rotate(-22 147.3 242.3)" fill="#ff3a30" opacity="0.12"/></g>
<g clip-path="url(#cp22)"><g filter="url(#bl)"><ellipse cx="211.0" cy="177.4" rx="2.15" ry="3.85" transform="rotate(-10 211.0 177.4)" fill="none" stroke="#3dff2a" stroke-width="1.38" opacity="0.90"/><ellipse cx="211.7" cy="185.7" rx="5.06" ry="0.76" transform="rotate(-20 211.7 185.7)" fill="#3dff2a" opacity="0.65"/><ellipse cx="172.0" cy="193.1" rx="1.38" ry="1.85" transform="rotate(0 172.0 193.1)" fill="none" stroke="#3dff2a" stroke-width="0.77" opacity="0.50"/><ellipse cx="196.7" cy="196.2" rx="2.00" ry="1.85" transform="rotate(0 196.7 196.2)" fill="none" stroke="#3dff2a" stroke-width="1.08" opacity="0.80"/><ellipse cx="220.1" cy="202.3" rx="3.37" ry="0.51" transform="rotate(50 220.1 202.3)" fill="#3dff2a" opacity="0.45"/><ellipse cx="238.7" cy="205.1" rx="1.69" ry="1.85" transform="rotate(0 238.7 205.1)" fill="none" stroke="#3dff2a" stroke-width="0.92" opacity="0.70"/><ellipse cx="193.6" cy="210.8" rx="4.00" ry="2.77" transform="rotate(20 193.6 210.8)" fill="#3dff2a" opacity="0.85"/><ellipse cx="170.5" cy="216.9" rx="2.15" ry="2.46" transform="rotate(0 170.5 216.9)" fill="none" stroke="#3dff2a" stroke-width="1.23" opacity="0.80"/><ellipse cx="232.0" cy="216.9" rx="2.15" ry="3.54" transform="rotate(30 232.0 216.9)" fill="none" stroke="#3dff2a" stroke-width="1.23" opacity="0.75"/><ellipse cx="169.7" cy="227.7" rx="0.92" ry="1.85" transform="rotate(0 169.7 227.7)" fill="#3dff2a" opacity="0.60"/><ellipse cx="218.2" cy="234.2" rx="3.69" ry="0.59" transform="rotate(-45 218.2 234.2)" fill="#3dff2a" opacity="0.75"/><ellipse cx="225.9" cy="245.1" rx="3.08" ry="1.23" transform="rotate(0 225.9 245.1)" fill="none" stroke="#3dff2a" stroke-width="0.92" opacity="0.80"/><ellipse cx="239.6" cy="228.8" rx="1.79" ry="0.42" transform="rotate(51 239.6 228.8)" fill="#3dff2a" opacity="0.50"/></g><ellipse cx="211.0" cy="177.4" rx="2.15" ry="3.85" transform="rotate(-10 211.0 177.4)" fill="none" stroke="#86ff4a" stroke-width="0.69" opacity="0.54"/><ellipse cx="211.7" cy="185.7" rx="4.55" ry="0.38" transform="rotate(-20 211.7 185.7)" fill="#86ff4a" opacity="0.39"/><ellipse cx="172.0" cy="193.1" rx="1.38" ry="1.85" transform="rotate(0 172.0 193.1)" fill="none" stroke="#86ff4a" stroke-width="0.38" opacity="0.30"/><ellipse cx="196.7" cy="196.2" rx="2.00" ry="1.85" transform="rotate(0 196.7 196.2)" fill="none" stroke="#86ff4a" stroke-width="0.54" opacity="0.48"/><ellipse cx="220.1" cy="202.3" rx="3.04" ry="0.25" transform="rotate(50 220.1 202.3)" fill="#86ff4a" opacity="0.27"/><ellipse cx="238.7" cy="205.1" rx="1.69" ry="1.85" transform="rotate(0 238.7 205.1)" fill="none" stroke="#86ff4a" stroke-width="0.46" opacity="0.42"/><ellipse cx="193.6" cy="210.8" rx="3.20" ry="2.22" transform="rotate(20 193.6 210.8)" fill="#86ff4a" opacity="0.51"/><ellipse cx="170.5" cy="216.9" rx="2.15" ry="2.46" transform="rotate(0 170.5 216.9)" fill="none" stroke="#86ff4a" stroke-width="0.62" opacity="0.48"/><ellipse cx="232.0" cy="216.9" rx="2.15" ry="3.54" transform="rotate(30 232.0 216.9)" fill="none" stroke="#86ff4a" stroke-width="0.62" opacity="0.45"/><ellipse cx="169.7" cy="227.7" rx="0.74" ry="1.48" transform="rotate(0 169.7 227.7)" fill="#86ff4a" opacity="0.36"/><ellipse cx="218.2" cy="234.2" rx="3.32" ry="0.30" transform="rotate(-45 218.2 234.2)" fill="#86ff4a" opacity="0.45"/><ellipse cx="225.9" cy="245.1" rx="3.08" ry="1.23" transform="rotate(0 225.9 245.1)" fill="none" stroke="#86ff4a" stroke-width="0.46" opacity="0.48"/><ellipse cx="239.6" cy="228.8" rx="1.61" ry="0.21" transform="rotate(51 239.6 228.8)" fill="#86ff4a" opacity="0.30"/><g style="mix-blend-mode:screen"><g filter="url(#bl)"><ellipse cx="210.6" cy="177.4" rx="2.62" ry="4.62" transform="rotate(-10 210.6 177.4)" fill="#ff1414" opacity="0.40"/><ellipse cx="196.0" cy="195.8" rx="2.92" ry="2.46" transform="rotate(10 196.0 195.8)" fill="#ff1414" opacity="0.40"/><ellipse cx="210.6" cy="177.4" rx="2.62" ry="4.62" transform="rotate(-10 210.6 177.4)" fill="none" stroke="#ff1414" stroke-width="1.69" opacity="0.95"/><ellipse cx="210.6" cy="186.6" rx="4.00" ry="2.46" transform="rotate(-20 210.6 186.6)" fill="none" stroke="#ff1414" stroke-width="0.77" opacity="0.35"/><ellipse cx="196.0" cy="195.8" rx="2.92" ry="2.46" transform="rotate(10 196.0 195.8)" fill="none" stroke="#ff1414" stroke-width="1.69" opacity="0.95"/><ellipse cx="220.3" cy="201.5" rx="1.38" ry="3.38" transform="rotate(-25 220.3 201.5)" fill="none" stroke="#ff1414" stroke-width="1.08" opacity="0.80"/><ellipse cx="194.1" cy="210.8" rx="4.31" ry="3.38" transform="rotate(0 194.1 210.8)" fill="none" stroke="#ff1414" stroke-width="0.92" opacity="0.50"/><ellipse cx="172.8" cy="193.5" rx="4.10" ry="0.51" transform="rotate(-68 172.8 193.5)" fill="#ff1414" opacity="0.50"/><ellipse cx="171.1" cy="215.4" rx="1.54" ry="2.46" transform="rotate(-10 171.1 215.4)" fill="none" stroke="#ff1414" stroke-width="0.92" opacity="0.80"/><ellipse cx="170.8" cy="226.5" rx="3.13" ry="0.51" transform="rotate(-77 170.8 226.5)" fill="#ff1414" opacity="0.50"/><ellipse cx="231.4" cy="219.2" rx="1.85" ry="2.77" transform="rotate(0 231.4 219.2)" fill="none" stroke="#ff1414" stroke-width="0.62" opacity="0.12"/><ellipse cx="224.1" cy="242.3" rx="2.32" ry="0.34" transform="rotate(-22 224.1 242.3)" fill="#ff1414" opacity="0.20"/></g><ellipse cx="210.6" cy="177.4" rx="2.09" ry="3.69" transform="rotate(-10 210.6 177.4)" fill="#ff3a30" opacity="0.24"/><ellipse cx="196.0" cy="195.8" rx="2.34" ry="1.97" transform="rotate(10 196.0 195.8)" fill="#ff3a30" opacity="0.24"/><ellipse cx="210.6" cy="177.4" rx="2.62" ry="4.62" transform="rotate(-10 210.6 177.4)" fill="none" stroke="#ff3a30" stroke-width="0.85" opacity="0.57"/><ellipse cx="210.6" cy="186.6" rx="4.00" ry="2.46" transform="rotate(-20 210.6 186.6)" fill="none" stroke="#ff3a30" stroke-width="0.38" opacity="0.21"/><ellipse cx="196.0" cy="195.8" rx="2.92" ry="2.46" transform="rotate(10 196.0 195.8)" fill="none" stroke="#ff3a30" stroke-width="0.85" opacity="0.57"/><ellipse cx="220.3" cy="201.5" rx="1.38" ry="3.38" transform="rotate(-25 220.3 201.5)" fill="none" stroke="#ff3a30" stroke-width="0.54" opacity="0.48"/><ellipse cx="194.1" cy="210.8" rx="4.31" ry="3.38" transform="rotate(0 194.1 210.8)" fill="none" stroke="#ff3a30" stroke-width="0.46" opacity="0.30"/><ellipse cx="172.8" cy="193.5" rx="3.69" ry="0.25" transform="rotate(-68 172.8 193.5)" fill="#ff3a30" opacity="0.30"/><ellipse cx="171.1" cy="215.4" rx="1.54" ry="2.46" transform="rotate(-10 171.1 215.4)" fill="none" stroke="#ff3a30" stroke-width="0.46" opacity="0.48"/><ellipse cx="170.8" cy="226.5" rx="2.82" ry="0.25" transform="rotate(-77 170.8 226.5)" fill="#ff3a30" opacity="0.30"/><ellipse cx="231.4" cy="219.2" rx="1.85" ry="2.77" transform="rotate(0 231.4 219.2)" fill="none" stroke="#ff3a30" stroke-width="0.31" opacity="0.07"/><ellipse cx="224.1" cy="242.3" rx="2.09" ry="0.17" transform="rotate(-22 224.1 242.3)" fill="#ff3a30" opacity="0.12"/></g></g>
<g clip-path="url(#cp23)"><g filter="url(#bl)"><ellipse cx="290.3" cy="179.8" rx="4.66" ry="0.68" transform="rotate(62 290.3 179.8)" fill="#3dff2a" opacity="0.80"/><ellipse cx="304.5" cy="193.5" rx="4.22" ry="0.59" transform="rotate(114 304.5 193.5)" fill="#3dff2a" opacity="0.75"/><ellipse cx="261.2" cy="200.8" rx="4.14" ry="0.68" transform="rotate(25 261.2 200.8)" fill="#3dff2a" opacity="0.90"/><ellipse cx="267.6" cy="205.2" rx="4.80" ry="0.76" transform="rotate(44 267.6 205.2)" fill="#3dff2a" opacity="0.90"/><ellipse cx="274.5" cy="198.8" rx="5.87" ry="0.59" transform="rotate(8 274.5 198.8)" fill="#3dff2a" opacity="0.80"/><ellipse cx="294.3" cy="206.9" rx="5.27" ry="0.85" transform="rotate(68 294.3 206.9)" fill="#3dff2a" opacity="0.75"/><ellipse cx="263.0" cy="216.2" rx="1.08" ry="0.77" transform="rotate(0 263.0 216.2)" fill="#3dff2a" opacity="0.60"/><ellipse cx="258.5" cy="235.0" rx="6.50" ry="0.68" transform="rotate(74 258.5 235.0)" fill="#3dff2a" opacity="0.80"/><ellipse cx="283.8" cy="235.4" rx="3.85" ry="3.54" transform="rotate(0 283.8 235.4)" fill="none" stroke="#3dff2a" stroke-width="0.77" opacity="0.30"/><ellipse cx="301.5" cy="240.0" rx="3.93" ry="0.68" transform="rotate(-27 301.5 240.0)" fill="#3dff2a" opacity="0.90"/></g><ellipse cx="290.3" cy="179.8" rx="4.19" ry="0.34" transform="rotate(62 290.3 179.8)" fill="#86ff4a" opacity="0.48"/><ellipse cx="304.5" cy="193.5" rx="3.80" ry="0.30" transform="rotate(114 304.5 193.5)" fill="#86ff4a" opacity="0.45"/><ellipse cx="261.2" cy="200.8" rx="3.73" ry="0.34" transform="rotate(25 261.2 200.8)" fill="#86ff4a" opacity="0.54"/><ellipse cx="267.6" cy="205.2" rx="4.32" ry="0.38" transform="rotate(44 267.6 205.2)" fill="#86ff4a" opacity="0.54"/><ellipse cx="274.5" cy="198.8" rx="5.28" ry="0.30" transform="rotate(8 274.5 198.8)" fill="#86ff4a" opacity="0.48"/><ellipse cx="294.3" cy="206.9" rx="4.75" ry="0.42" transform="rotate(68 294.3 206.9)" fill="#86ff4a" opacity="0.45"/><ellipse cx="263.0" cy="216.2" rx="0.86" ry="0.62" transform="rotate(0 263.0 216.2)" fill="#86ff4a" opacity="0.36"/><ellipse cx="258.5" cy="235.0" rx="5.85" ry="0.34" transform="rotate(74 258.5 235.0)" fill="#86ff4a" opacity="0.48"/><ellipse cx="283.8" cy="235.4" rx="3.85" ry="3.54" transform="rotate(0 283.8 235.4)" fill="none" stroke="#86ff4a" stroke-width="0.38" opacity="0.18"/><ellipse cx="301.5" cy="240.0" rx="3.54" ry="0.34" transform="rotate(-27 301.5 240.0)" fill="#86ff4a" opacity="0.54"/></g>
<g clip-path="url(#cp24)"><g filter="url(#bl)"><ellipse cx="365.4" cy="179.2" rx="3.08" ry="5.54" transform="rotate(-25 365.4 179.2)" fill="#ff1414" opacity="0.20"/><ellipse cx="341.5" cy="203.1" rx="6.46" ry="2.15" transform="rotate(35 341.5 203.1)" fill="#ff1414" opacity="0.20"/><ellipse cx="350.8" cy="199.2" rx="5.38" ry="2.00" transform="rotate(5 350.8 199.2)" fill="#ff1414" opacity="0.15"/><ellipse cx="371.5" cy="208.2" rx="2.62" ry="5.85" transform="rotate(-20 371.5 208.2)" fill="#ff1414" opacity="0.22"/><ellipse cx="340.0" cy="215.4" rx="3.54" ry="2.31" transform="rotate(-10 340.0 215.4)" fill="#ff1414" opacity="0.20"/><ellipse cx="363.1" cy="233.8" rx="2.31" ry="5.08" transform="rotate(20 363.1 233.8)" fill="#ff1414" opacity="0.12"/><ellipse cx="379.2" cy="240.0" rx="4.31" ry="1.85" transform="rotate(-30 379.2 240.0)" fill="#ff1414" opacity="0.12"/><ellipse cx="365.4" cy="179.2" rx="3.08" ry="5.54" transform="rotate(-25 365.4 179.2)" fill="none" stroke="#ff1414" stroke-width="1.23" opacity="0.95"/><ellipse cx="382.3" cy="193.8" rx="1.23" ry="7.69" transform="rotate(22 382.3 193.8)" fill="none" stroke="#ff1414" stroke-width="0.92" opacity="0.60"/><ellipse cx="341.5" cy="203.1" rx="6.46" ry="2.15" transform="rotate(35 341.5 203.1)" fill="none" stroke="#ff1414" stroke-width="1.23" opacity="0.95"/><ellipse cx="350.8" cy="199.2" rx="5.38" ry="2.00" transform="rotate(5 350.8 199.2)" fill="none" stroke="#ff1414" stroke-width="1.08" opacity="0.80"/><ellipse cx="371.5" cy="208.2" rx="2.62" ry="5.85" transform="rotate(-20 371.5 208.2)" fill="none" stroke="#ff1414" stroke-width="1.38" opacity="0.95"/><ellipse cx="340.0" cy="215.4" rx="3.54" ry="2.31" transform="rotate(-10 340.0 215.4)" fill="none" stroke="#ff1414" stroke-width="1.38" opacity="1.00"/><ellipse cx="336.2" cy="234.6" rx="1.54" ry="6.92" transform="rotate(-15 336.2 234.6)" fill="none" stroke="#ff1414" stroke-width="0.77" opacity="0.45"/><ellipse cx="363.1" cy="233.8" rx="2.31" ry="5.08" transform="rotate(20 363.1 233.8)" fill="none" stroke="#ff1414" stroke-width="0.92" opacity="0.60"/><ellipse cx="379.2" cy="240.0" rx="4.31" ry="1.85" transform="rotate(-30 379.2 240.0)" fill="none" stroke="#ff1414" stroke-width="0.92" opacity="0.60"/></g><ellipse cx="365.4" cy="179.2" rx="2.46" ry="4.43" transform="rotate(-25 365.4 179.2)" fill="#ff3a30" opacity="0.12"/><ellipse cx="341.5" cy="203.1" rx="5.17" ry="1.72" transform="rotate(35 341.5 203.1)" fill="#ff3a30" opacity="0.12"/><ellipse cx="350.8" cy="199.2" rx="4.31" ry="1.60" transform="rotate(5 350.8 199.2)" fill="#ff3a30" opacity="0.09"/><ellipse cx="371.5" cy="208.2" rx="2.09" ry="4.68" transform="rotate(-20 371.5 208.2)" fill="#ff3a30" opacity="0.13"/><ellipse cx="340.0" cy="215.4" rx="2.83" ry="1.85" transform="rotate(-10 340.0 215.4)" fill="#ff3a30" opacity="0.12"/><ellipse cx="363.1" cy="233.8" rx="1.85" ry="4.06" transform="rotate(20 363.1 233.8)" fill="#ff3a30" opacity="0.07"/><ellipse cx="379.2" cy="240.0" rx="3.45" ry="1.48" transform="rotate(-30 379.2 240.0)" fill="#ff3a30" opacity="0.07"/><ellipse cx="365.4" cy="179.2" rx="3.08" ry="5.54" transform="rotate(-25 365.4 179.2)" fill="none" stroke="#ff3a30" stroke-width="0.62" opacity="0.57"/><ellipse cx="382.3" cy="193.8" rx="1.23" ry="7.69" transform="rotate(22 382.3 193.8)" fill="none" stroke="#ff3a30" stroke-width="0.46" opacity="0.36"/><ellipse cx="341.5" cy="203.1" rx="6.46" ry="2.15" transform="rotate(35 341.5 203.1)" fill="none" stroke="#ff3a30" stroke-width="0.62" opacity="0.57"/><ellipse cx="350.8" cy="199.2" rx="5.38" ry="2.00" transform="rotate(5 350.8 199.2)" fill="none" stroke="#ff3a30" stroke-width="0.54" opacity="0.48"/><ellipse cx="371.5" cy="208.2" rx="2.62" ry="5.85" transform="rotate(-20 371.5 208.2)" fill="none" stroke="#ff3a30" stroke-width="0.69" opacity="0.57"/><ellipse cx="340.0" cy="215.4" rx="3.54" ry="2.31" transform="rotate(-10 340.0 215.4)" fill="none" stroke="#ff3a30" stroke-width="0.69" opacity="0.60"/><ellipse cx="336.2" cy="234.6" rx="1.54" ry="6.92" transform="rotate(-15 336.2 234.6)" fill="none" stroke="#ff3a30" stroke-width="0.38" opacity="0.27"/><ellipse cx="363.1" cy="233.8" rx="2.31" ry="5.08" transform="rotate(20 363.1 233.8)" fill="none" stroke="#ff3a30" stroke-width="0.46" opacity="0.36"/><ellipse cx="379.2" cy="240.0" rx="4.31" ry="1.85" transform="rotate(-30 379.2 240.0)" fill="none" stroke="#ff3a30" stroke-width="0.46" opacity="0.36"/></g>
<g clip-path="url(#cp25)"><g filter="url(#bl)"><ellipse cx="444.1" cy="179.8" rx="4.66" ry="0.68" transform="rotate(62 444.1 179.8)" fill="#3dff2a" opacity="0.80"/><ellipse cx="458.3" cy="193.5" rx="4.22" ry="0.59" transform="rotate(114 458.3 193.5)" fill="#3dff2a" opacity="0.75"/><ellipse cx="415.0" cy="200.8" rx="4.14" ry="0.68" transform="rotate(25 415.0 200.8)" fill="#3dff2a" opacity="0.90"/><ellipse cx="421.4" cy="205.2" rx="4.80" ry="0.76" transform="rotate(44 421.4 205.2)" fill="#3dff2a" opacity="0.90"/><ellipse cx="428.3" cy="198.8" rx="5.87" ry="0.59" transform="rotate(8 428.3 198.8)" fill="#3dff2a" opacity="0.80"/><ellipse cx="448.1" cy="206.9" rx="5.27" ry="0.85" transform="rotate(68 448.1 206.9)" fill="#3dff2a" opacity="0.75"/><ellipse cx="416.8" cy="216.2" rx="1.08" ry="0.77" transform="rotate(0 416.8 216.2)" fill="#3dff2a" opacity="0.60"/><ellipse cx="412.3" cy="235.0" rx="6.50" ry="0.68" transform="rotate(74 412.3 235.0)" fill="#3dff2a" opacity="0.80"/><ellipse cx="437.6" cy="235.4" rx="3.85" ry="3.54" transform="rotate(0 437.6 235.4)" fill="none" stroke="#3dff2a" stroke-width="0.77" opacity="0.30"/><ellipse cx="455.3" cy="240.0" rx="3.93" ry="0.68" transform="rotate(-27 455.3 240.0)" fill="#3dff2a" opacity="0.90"/></g><ellipse cx="444.1" cy="179.8" rx="4.19" ry="0.34" transform="rotate(62 444.1 179.8)" fill="#86ff4a" opacity="0.48"/><ellipse cx="458.3" cy="193.5" rx="3.80" ry="0.30" transform="rotate(114 458.3 193.5)" fill="#86ff4a" opacity="0.45"/><ellipse cx="415.0" cy="200.8" rx="3.73" ry="0.34" transform="rotate(25 415.0 200.8)" fill="#86ff4a" opacity="0.54"/><ellipse cx="421.4" cy="205.2" rx="4.32" ry="0.38" transform="rotate(44 421.4 205.2)" fill="#86ff4a" opacity="0.54"/><ellipse cx="428.3" cy="198.8" rx="5.28" ry="0.30" transform="rotate(8 428.3 198.8)" fill="#86ff4a" opacity="0.48"/><ellipse cx="448.1" cy="206.9" rx="4.75" ry="0.42" transform="rotate(68 448.1 206.9)" fill="#86ff4a" opacity="0.45"/><ellipse cx="416.8" cy="216.2" rx="0.86" ry="0.62" transform="rotate(0 416.8 216.2)" fill="#86ff4a" opacity="0.36"/><ellipse cx="412.3" cy="235.0" rx="5.85" ry="0.34" transform="rotate(74 412.3 235.0)" fill="#86ff4a" opacity="0.48"/><ellipse cx="437.6" cy="235.4" rx="3.85" ry="3.54" transform="rotate(0 437.6 235.4)" fill="none" stroke="#86ff4a" stroke-width="0.38" opacity="0.18"/><ellipse cx="455.3" cy="240.0" rx="3.54" ry="0.34" transform="rotate(-27 455.3 240.0)" fill="#86ff4a" opacity="0.54"/><g style="mix-blend-mode:screen"><g filter="url(#bl)"><ellipse cx="442.4" cy="179.2" rx="3.08" ry="5.54" transform="rotate(-25 442.4 179.2)" fill="#ff1414" opacity="0.20"/><ellipse cx="418.5" cy="203.1" rx="6.46" ry="2.15" transform="rotate(35 418.5 203.1)" fill="#ff1414" opacity="0.20"/><ellipse cx="427.8" cy="199.2" rx="5.38" ry="2.00" transform="rotate(5 427.8 199.2)" fill="#ff1414" opacity="0.15"/><ellipse cx="448.5" cy="208.2" rx="2.62" ry="5.85" transform="rotate(-20 448.5 208.2)" fill="#ff1414" opacity="0.22"/><ellipse cx="417.0" cy="215.4" rx="3.54" ry="2.31" transform="rotate(-10 417.0 215.4)" fill="#ff1414" opacity="0.20"/><ellipse cx="440.1" cy="233.8" rx="2.31" ry="5.08" transform="rotate(20 440.1 233.8)" fill="#ff1414" opacity="0.12"/><ellipse cx="456.2" cy="240.0" rx="4.31" ry="1.85" transform="rotate(-30 456.2 240.0)" fill="#ff1414" opacity="0.12"/><ellipse cx="442.4" cy="179.2" rx="3.08" ry="5.54" transform="rotate(-25 442.4 179.2)" fill="none" stroke="#ff1414" stroke-width="1.23" opacity="0.95"/><ellipse cx="459.3" cy="193.8" rx="1.23" ry="7.69" transform="rotate(22 459.3 193.8)" fill="none" stroke="#ff1414" stroke-width="0.92" opacity="0.60"/><ellipse cx="418.5" cy="203.1" rx="6.46" ry="2.15" transform="rotate(35 418.5 203.1)" fill="none" stroke="#ff1414" stroke-width="1.23" opacity="0.95"/><ellipse cx="427.8" cy="199.2" rx="5.38" ry="2.00" transform="rotate(5 427.8 199.2)" fill="none" stroke="#ff1414" stroke-width="1.08" opacity="0.80"/><ellipse cx="448.5" cy="208.2" rx="2.62" ry="5.85" transform="rotate(-20 448.5 208.2)" fill="none" stroke="#ff1414" stroke-width="1.38" opacity="0.95"/><ellipse cx="417.0" cy="215.4" rx="3.54" ry="2.31" transform="rotate(-10 417.0 215.4)" fill="none" stroke="#ff1414" stroke-width="1.38" opacity="1.00"/><ellipse cx="413.2" cy="234.6" rx="1.54" ry="6.92" transform="rotate(-15 413.2 234.6)" fill="none" stroke="#ff1414" stroke-width="0.77" opacity="0.45"/><ellipse cx="440.1" cy="233.8" rx="2.31" ry="5.08" transform="rotate(20 440.1 233.8)" fill="none" stroke="#ff1414" stroke-width="0.92" opacity="0.60"/><ellipse cx="456.2" cy="240.0" rx="4.31" ry="1.85" transform="rotate(-30 456.2 240.0)" fill="none" stroke="#ff1414" stroke-width="0.92" opacity="0.60"/></g><ellipse cx="442.4" cy="179.2" rx="2.46" ry="4.43" transform="rotate(-25 442.4 179.2)" fill="#ff3a30" opacity="0.12"/><ellipse cx="418.5" cy="203.1" rx="5.17" ry="1.72" transform="rotate(35 418.5 203.1)" fill="#ff3a30" opacity="0.12"/><ellipse cx="427.8" cy="199.2" rx="4.31" ry="1.60" transform="rotate(5 427.8 199.2)" fill="#ff3a30" opacity="0.09"/><ellipse cx="448.5" cy="208.2" rx="2.09" ry="4.68" transform="rotate(-20 448.5 208.2)" fill="#ff3a30" opacity="0.13"/><ellipse cx="417.0" cy="215.4" rx="2.83" ry="1.85" transform="rotate(-10 417.0 215.4)" fill="#ff3a30" opacity="0.12"/><ellipse cx="440.1" cy="233.8" rx="1.85" ry="4.06" transform="rotate(20 440.1 233.8)" fill="#ff3a30" opacity="0.07"/><ellipse cx="456.2" cy="240.0" rx="3.45" ry="1.48" transform="rotate(-30 456.2 240.0)" fill="#ff3a30" opacity="0.07"/><ellipse cx="442.4" cy="179.2" rx="3.08" ry="5.54" transform="rotate(-25 442.4 179.2)" fill="none" stroke="#ff3a30" stroke-width="0.62" opacity="0.57"/><ellipse cx="459.3" cy="193.8" rx="1.23" ry="7.69" transform="rotate(22 459.3 193.8)" fill="none" stroke="#ff3a30" stroke-width="0.46" opacity="0.36"/><ellipse cx="418.5" cy="203.1" rx="6.46" ry="2.15" transform="rotate(35 418.5 203.1)" fill="none" stroke="#ff3a30" stroke-width="0.62" opacity="0.57"/><ellipse cx="427.8" cy="199.2" rx="5.38" ry="2.00" transform="rotate(5 427.8 199.2)" fill="none" stroke="#ff3a30" stroke-width="0.54" opacity="0.48"/><ellipse cx="448.5" cy="208.2" rx="2.62" ry="5.85" transform="rotate(-20 448.5 208.2)" fill="none" stroke="#ff3a30" stroke-width="0.69" opacity="0.57"/><ellipse cx="417.0" cy="215.4" rx="3.54" ry="2.31" transform="rotate(-10 417.0 215.4)" fill="none" stroke="#ff3a30" stroke-width="0.69" opacity="0.60"/><ellipse cx="413.2" cy="234.6" rx="1.54" ry="6.92" transform="rotate(-15 413.2 234.6)" fill="none" stroke="#ff3a30" stroke-width="0.38" opacity="0.27"/><ellipse cx="440.1" cy="233.8" rx="2.31" ry="5.08" transform="rotate(20 440.1 233.8)" fill="none" stroke="#ff3a30" stroke-width="0.46" opacity="0.36"/><ellipse cx="456.2" cy="240.0" rx="4.31" ry="1.85" transform="rotate(-30 456.2 240.0)" fill="none" stroke="#ff3a30" stroke-width="0.46" opacity="0.36"/></g></g>
<g clip-path="url(#cp30)"><g filter="url(#bl)" opacity=".55"><ellipse cx="26.3" cy="259.5" rx="3.10" ry="0.51" transform="rotate(-50 26.3 259.5)" fill="#3dff2a" opacity="0.60"/><ellipse cx="40.7" cy="265.8" rx="3.38" ry="4.62" transform="rotate(30 40.7 265.8)" fill="none" stroke="#3dff2a" stroke-width="0.92" opacity="0.80"/><ellipse cx="51.8" cy="258.2" rx="2.55" ry="0.42" transform="rotate(-31 51.8 258.2)" fill="#3dff2a" opacity="0.40"/><ellipse cx="55.7" cy="259.3" rx="3.31" ry="0.42" transform="rotate(50 55.7 259.3)" fill="#3dff2a" opacity="0.50"/><ellipse cx="25.3" cy="290.4" rx="3.54" ry="3.85" transform="rotate(0 25.3 290.4)" fill="none" stroke="#3dff2a" stroke-width="0.92" opacity="0.80"/><ellipse cx="39.2" cy="303.6" rx="2.46" ry="3.54" transform="rotate(0 39.2 303.6)" fill="none" stroke="#3dff2a" stroke-width="0.77" opacity="0.70"/><ellipse cx="57.9" cy="299.6" rx="3.23" ry="2.46" transform="rotate(0 57.9 299.6)" fill="none" stroke="#3dff2a" stroke-width="1.08" opacity="0.85"/><ellipse cx="73.8" cy="297.8" rx="3.08" ry="3.54" transform="rotate(0 73.8 297.8)" fill="none" stroke="#3dff2a" stroke-width="0.92" opacity="0.80"/><ellipse cx="56.8" cy="313.9" rx="1.69" ry="5.54" transform="rotate(28 56.8 313.9)" fill="none" stroke="#3dff2a" stroke-width="0.92" opacity="0.80"/><ellipse cx="81.8" cy="312.4" rx="2.77" ry="5.08" transform="rotate(5 81.8 312.4)" fill="none" stroke="#3dff2a" stroke-width="0.77" opacity="0.60"/></g><ellipse cx="26.3" cy="259.5" rx="2.79" ry="0.37" transform="rotate(-50 26.3 259.5)" fill="#3dff2a" opacity="0.60"/><ellipse cx="40.7" cy="265.8" rx="3.38" ry="4.62" transform="rotate(30 40.7 265.8)" fill="none" stroke="#3dff2a" stroke-width="0.66" opacity="0.80"/><ellipse cx="51.8" cy="258.2" rx="2.30" ry="0.30" transform="rotate(-31 51.8 258.2)" fill="#3dff2a" opacity="0.40"/><ellipse cx="55.7" cy="259.3" rx="2.98" ry="0.30" transform="rotate(50 55.7 259.3)" fill="#3dff2a" opacity="0.50"/><ellipse cx="25.3" cy="290.4" rx="3.54" ry="3.85" transform="rotate(0 25.3 290.4)" fill="none" stroke="#3dff2a" stroke-width="0.66" opacity="0.80"/><ellipse cx="39.2" cy="303.6" rx="2.46" ry="3.54" transform="rotate(0 39.2 303.6)" fill="none" stroke="#3dff2a" stroke-width="0.55" opacity="0.70"/><ellipse cx="57.9" cy="299.6" rx="3.23" ry="2.46" transform="rotate(0 57.9 299.6)" fill="none" stroke="#3dff2a" stroke-width="0.78" opacity="0.85"/><ellipse cx="73.8" cy="297.8" rx="3.08" ry="3.54" transform="rotate(0 73.8 297.8)" fill="none" stroke="#3dff2a" stroke-width="0.66" opacity="0.80"/><ellipse cx="56.8" cy="313.9" rx="1.69" ry="5.54" transform="rotate(28 56.8 313.9)" fill="none" stroke="#3dff2a" stroke-width="0.66" opacity="0.80"/><ellipse cx="81.8" cy="312.4" rx="2.77" ry="5.08" transform="rotate(5 81.8 312.4)" fill="none" stroke="#3dff2a" stroke-width="0.55" opacity="0.60"/></g>
<g clip-path="url(#cp31)"><g filter="url(#bl)" opacity=".55"><ellipse cx="103.1" cy="259.0" rx="1.23" ry="2.15" transform="rotate(0 103.1 259.0)" fill="none" stroke="#ff1414" stroke-width="0.62" opacity="0.45"/><ellipse cx="130.8" cy="259.0" rx="2.46" ry="2.46" transform="rotate(0 130.8 259.0)" fill="none" stroke="#ff1414" stroke-width="0.92" opacity="0.60"/><ellipse cx="118.2" cy="266.7" rx="1.38" ry="0.92" transform="rotate(0 118.2 266.7)" fill="#ff1414" opacity="0.95"/><ellipse cx="115.4" cy="305.8" rx="1.08" ry="0.92" transform="rotate(0 115.4 305.8)" fill="#ff1414" opacity="0.95"/><ellipse cx="117.4" cy="302.4" rx="0.77" ry="0.92" transform="rotate(0 117.4 302.4)" fill="#ff1414" opacity="0.70"/><ellipse cx="134.6" cy="299.3" rx="2.46" ry="2.15" transform="rotate(0 134.6 299.3)" fill="none" stroke="#ff1414" stroke-width="0.62" opacity="0.35"/><ellipse cx="133.5" cy="309.3" rx="2.15" ry="1.23" transform="rotate(0 133.5 309.3)" fill="#ff1414" opacity="1.00"/><ellipse cx="131.8" cy="317.0" rx="1.08" ry="1.54" transform="rotate(0 131.8 317.0)" fill="#ff1414" opacity="0.80"/><ellipse cx="158.5" cy="312.4" rx="2.62" ry="5.08" transform="rotate(5 158.5 312.4)" fill="none" stroke="#ff1414" stroke-width="1.08" opacity="0.70"/></g><ellipse cx="103.1" cy="259.0" rx="1.23" ry="2.15" transform="rotate(0 103.1 259.0)" fill="none" stroke="#ff1414" stroke-width="0.44" opacity="0.45"/><ellipse cx="130.8" cy="259.0" rx="2.46" ry="2.46" transform="rotate(0 130.8 259.0)" fill="none" stroke="#ff1414" stroke-width="0.66" opacity="0.60"/><ellipse cx="118.2" cy="266.7" rx="1.11" ry="0.74" transform="rotate(0 118.2 266.7)" fill="#ff1414" opacity="0.95"/><ellipse cx="115.4" cy="305.8" rx="0.86" ry="0.74" transform="rotate(0 115.4 305.8)" fill="#ff1414" opacity="0.95"/><ellipse cx="117.4" cy="302.4" rx="0.62" ry="0.74" transform="rotate(0 117.4 302.4)" fill="#ff1414" opacity="0.70"/><ellipse cx="134.6" cy="299.3" rx="2.46" ry="2.15" transform="rotate(0 134.6 299.3)" fill="none" stroke="#ff1414" stroke-width="0.44" opacity="0.35"/><ellipse cx="133.5" cy="309.3" rx="1.72" ry="0.98" transform="rotate(0 133.5 309.3)" fill="#ff1414" opacity="1.00"/><ellipse cx="131.8" cy="317.0" rx="0.86" ry="1.23" transform="rotate(0 131.8 317.0)" fill="#ff1414" opacity="0.80"/><ellipse cx="158.5" cy="312.4" rx="2.62" ry="5.08" transform="rotate(5 158.5 312.4)" fill="none" stroke="#ff1414" stroke-width="0.78" opacity="0.70"/></g>
<g clip-path="url(#cp32)"><g filter="url(#bl)" opacity=".55"><ellipse cx="180.0" cy="259.5" rx="3.10" ry="0.51" transform="rotate(-50 180.0 259.5)" fill="#3dff2a" opacity="0.60"/><ellipse cx="194.3" cy="265.8" rx="3.38" ry="4.62" transform="rotate(30 194.3 265.8)" fill="none" stroke="#3dff2a" stroke-width="0.92" opacity="0.80"/><ellipse cx="205.5" cy="258.2" rx="2.55" ry="0.42" transform="rotate(-31 205.5 258.2)" fill="#3dff2a" opacity="0.40"/><ellipse cx="209.3" cy="259.3" rx="3.31" ry="0.42" transform="rotate(50 209.3 259.3)" fill="#3dff2a" opacity="0.50"/><ellipse cx="179.0" cy="290.4" rx="3.54" ry="3.85" transform="rotate(0 179.0 290.4)" fill="none" stroke="#3dff2a" stroke-width="0.92" opacity="0.80"/><ellipse cx="192.8" cy="303.6" rx="2.46" ry="3.54" transform="rotate(0 192.8 303.6)" fill="none" stroke="#3dff2a" stroke-width="0.77" opacity="0.70"/><ellipse cx="211.6" cy="299.6" rx="3.23" ry="2.46" transform="rotate(0 211.6 299.6)" fill="none" stroke="#3dff2a" stroke-width="1.08" opacity="0.85"/><ellipse cx="227.4" cy="297.8" rx="3.08" ry="3.54" transform="rotate(0 227.4 297.8)" fill="none" stroke="#3dff2a" stroke-width="0.92" opacity="0.80"/><ellipse cx="210.5" cy="313.9" rx="1.69" ry="5.54" transform="rotate(28 210.5 313.9)" fill="none" stroke="#3dff2a" stroke-width="0.92" opacity="0.80"/><ellipse cx="235.4" cy="312.4" rx="2.77" ry="5.08" transform="rotate(5 235.4 312.4)" fill="none" stroke="#3dff2a" stroke-width="0.77" opacity="0.60"/></g><ellipse cx="180.0" cy="259.5" rx="2.79" ry="0.37" transform="rotate(-50 180.0 259.5)" fill="#3dff2a" opacity="0.60"/><ellipse cx="194.3" cy="265.8" rx="3.38" ry="4.62" transform="rotate(30 194.3 265.8)" fill="none" stroke="#3dff2a" stroke-width="0.66" opacity="0.80"/><ellipse cx="205.5" cy="258.2" rx="2.30" ry="0.30" transform="rotate(-31 205.5 258.2)" fill="#3dff2a" opacity="0.40"/><ellipse cx="209.3" cy="259.3" rx="2.98" ry="0.30" transform="rotate(50 209.3 259.3)" fill="#3dff2a" opacity="0.50"/><ellipse cx="179.0" cy="290.4" rx="3.54" ry="3.85" transform="rotate(0 179.0 290.4)" fill="none" stroke="#3dff2a" stroke-width="0.66" opacity="0.80"/><ellipse cx="192.8" cy="303.6" rx="2.46" ry="3.54" transform="rotate(0 192.8 303.6)" fill="none" stroke="#3dff2a" stroke-width="0.55" opacity="0.70"/><ellipse cx="211.6" cy="299.6" rx="3.23" ry="2.46" transform="rotate(0 211.6 299.6)" fill="none" stroke="#3dff2a" stroke-width="0.78" opacity="0.85"/><ellipse cx="227.4" cy="297.8" rx="3.08" ry="3.54" transform="rotate(0 227.4 297.8)" fill="none" stroke="#3dff2a" stroke-width="0.66" opacity="0.80"/><ellipse cx="210.5" cy="313.9" rx="1.69" ry="5.54" transform="rotate(28 210.5 313.9)" fill="none" stroke="#3dff2a" stroke-width="0.66" opacity="0.80"/><ellipse cx="235.4" cy="312.4" rx="2.77" ry="5.08" transform="rotate(5 235.4 312.4)" fill="none" stroke="#3dff2a" stroke-width="0.55" opacity="0.60"/><g style="mix-blend-mode:screen"><g filter="url(#bl)" opacity=".55"><ellipse cx="179.8" cy="259.0" rx="1.23" ry="2.15" transform="rotate(0 179.8 259.0)" fill="none" stroke="#ff1414" stroke-width="0.62" opacity="0.45"/><ellipse cx="207.5" cy="259.0" rx="2.46" ry="2.46" transform="rotate(0 207.5 259.0)" fill="none" stroke="#ff1414" stroke-width="0.92" opacity="0.60"/><ellipse cx="194.9" cy="266.7" rx="1.38" ry="0.92" transform="rotate(0 194.9 266.7)" fill="#ff1414" opacity="0.95"/><ellipse cx="192.1" cy="305.8" rx="1.08" ry="0.92" transform="rotate(0 192.1 305.8)" fill="#ff1414" opacity="0.95"/><ellipse cx="194.1" cy="302.4" rx="0.77" ry="0.92" transform="rotate(0 194.1 302.4)" fill="#ff1414" opacity="0.70"/><ellipse cx="211.4" cy="299.3" rx="2.46" ry="2.15" transform="rotate(0 211.4 299.3)" fill="none" stroke="#ff1414" stroke-width="0.62" opacity="0.35"/><ellipse cx="210.3" cy="309.3" rx="2.15" ry="1.23" transform="rotate(0 210.3 309.3)" fill="#ff1414" opacity="1.00"/><ellipse cx="208.6" cy="317.0" rx="1.08" ry="1.54" transform="rotate(0 208.6 317.0)" fill="#ff1414" opacity="0.80"/><ellipse cx="235.2" cy="312.4" rx="2.62" ry="5.08" transform="rotate(5 235.2 312.4)" fill="none" stroke="#ff1414" stroke-width="1.08" opacity="0.70"/></g><ellipse cx="179.8" cy="259.0" rx="1.23" ry="2.15" transform="rotate(0 179.8 259.0)" fill="none" stroke="#ff1414" stroke-width="0.44" opacity="0.45"/><ellipse cx="207.5" cy="259.0" rx="2.46" ry="2.46" transform="rotate(0 207.5 259.0)" fill="none" stroke="#ff1414" stroke-width="0.66" opacity="0.60"/><ellipse cx="194.9" cy="266.7" rx="1.11" ry="0.74" transform="rotate(0 194.9 266.7)" fill="#ff1414" opacity="0.95"/><ellipse cx="192.1" cy="305.8" rx="0.86" ry="0.74" transform="rotate(0 192.1 305.8)" fill="#ff1414" opacity="0.95"/><ellipse cx="194.1" cy="302.4" rx="0.62" ry="0.74" transform="rotate(0 194.1 302.4)" fill="#ff1414" opacity="0.70"/><ellipse cx="211.4" cy="299.3" rx="2.46" ry="2.15" transform="rotate(0 211.4 299.3)" fill="none" stroke="#ff1414" stroke-width="0.44" opacity="0.35"/><ellipse cx="210.3" cy="309.3" rx="1.72" ry="0.98" transform="rotate(0 210.3 309.3)" fill="#ff1414" opacity="1.00"/><ellipse cx="208.6" cy="317.0" rx="0.86" ry="1.23" transform="rotate(0 208.6 317.0)" fill="#ff1414" opacity="0.80"/><ellipse cx="235.2" cy="312.4" rx="2.62" ry="5.08" transform="rotate(5 235.2 312.4)" fill="none" stroke="#ff1414" stroke-width="0.78" opacity="0.70"/></g></g>
<g clip-path="url(#cp33)"><g filter="url(#bl)" opacity=".55"><ellipse cx="280.4" cy="258.1" rx="2.31" ry="4.31" transform="rotate(-5 280.4 258.1)" fill="none" stroke="#3dff2a" stroke-width="1.08" opacity="0.80"/><ellipse cx="255.0" cy="266.2" rx="2.92" ry="2.92" transform="rotate(0 255.0 266.2)" fill="none" stroke="#3dff2a" stroke-width="0.77" opacity="0.45"/><ellipse cx="314.5" cy="273.4" rx="2.14" ry="0.42" transform="rotate(33 314.5 273.4)" fill="#3dff2a" opacity="0.80"/><ellipse cx="317.6" cy="275.7" rx="2.33" ry="0.42" transform="rotate(40 317.6 275.7)" fill="#3dff2a" opacity="0.80"/><ellipse cx="258.4" cy="283.9" rx="3.46" ry="0.51" transform="rotate(-6 258.4 283.9)" fill="#3dff2a" opacity="0.60"/><ellipse cx="257.6" cy="282.4" rx="1.82" ry="0.34" transform="rotate(11 257.6 282.4)" fill="#3dff2a" opacity="0.40"/><ellipse cx="280.7" cy="291.6" rx="2.62" ry="2.62" transform="rotate(0 280.7 291.6)" fill="none" stroke="#3dff2a" stroke-width="0.77" opacity="0.50"/><ellipse cx="300.2" cy="291.6" rx="3.69" ry="2.77" transform="rotate(-30 300.2 291.6)" fill="none" stroke="#3dff2a" stroke-width="1.08" opacity="0.90"/><ellipse cx="256.1" cy="305.5" rx="2.62" ry="3.85" transform="rotate(0 256.1 305.5)" fill="none" stroke="#3dff2a" stroke-width="0.77" opacity="0.45"/><ellipse cx="289.9" cy="305.9" rx="3.54" ry="3.54" transform="rotate(0 289.9 305.9)" fill="none" stroke="#3dff2a" stroke-width="1.08" opacity="0.95"/><ellipse cx="278.4" cy="314.7" rx="2.77" ry="3.08" transform="rotate(0 278.4 314.7)" fill="none" stroke="#3dff2a" stroke-width="1.08" opacity="0.80"/><ellipse cx="308.8" cy="313.2" rx="2.77" ry="2.46" transform="rotate(0 308.8 313.2)" fill="none" stroke="#3dff2a" stroke-width="0.92" opacity="0.70"/></g><ellipse cx="280.4" cy="258.1" rx="2.31" ry="4.31" transform="rotate(-5 280.4 258.1)" fill="none" stroke="#3dff2a" stroke-width="0.78" opacity="0.80"/><ellipse cx="255.0" cy="266.2" rx="2.92" ry="2.92" transform="rotate(0 255.0 266.2)" fill="none" stroke="#3dff2a" stroke-width="0.55" opacity="0.45"/><ellipse cx="314.5" cy="273.4" rx="1.93" ry="0.30" transform="rotate(33 314.5 273.4)" fill="#3dff2a" opacity="0.80"/><ellipse cx="317.6" cy="275.7" rx="2.09" ry="0.30" transform="rotate(40 317.6 275.7)" fill="#3dff2a" opacity="0.80"/><ellipse cx="258.4" cy="283.9" rx="3.12" ry="0.37" transform="rotate(-6 258.4 283.9)" fill="#3dff2a" opacity="0.60"/><ellipse cx="257.6" cy="282.4" rx="1.63" ry="0.24" transform="rotate(11 257.6 282.4)" fill="#3dff2a" opacity="0.40"/><ellipse cx="280.7" cy="291.6" rx="2.62" ry="2.62" transform="rotate(0 280.7 291.6)" fill="none" stroke="#3dff2a" stroke-width="0.55" opacity="0.50"/><ellipse cx="300.2" cy="291.6" rx="3.69" ry="2.77" transform="rotate(-30 300.2 291.6)" fill="none" stroke="#3dff2a" stroke-width="0.78" opacity="0.90"/><ellipse cx="256.1" cy="305.5" rx="2.62" ry="3.85" transform="rotate(0 256.1 305.5)" fill="none" stroke="#3dff2a" stroke-width="0.55" opacity="0.45"/><ellipse cx="289.9" cy="305.9" rx="3.54" ry="3.54" transform="rotate(0 289.9 305.9)" fill="none" stroke="#3dff2a" stroke-width="0.78" opacity="0.95"/><ellipse cx="278.4" cy="314.7" rx="2.77" ry="3.08" transform="rotate(0 278.4 314.7)" fill="none" stroke="#3dff2a" stroke-width="0.78" opacity="0.80"/><ellipse cx="308.8" cy="313.2" rx="2.77" ry="2.46" transform="rotate(0 308.8 313.2)" fill="none" stroke="#3dff2a" stroke-width="0.66" opacity="0.70"/></g>
<g clip-path="url(#cp34)"><g filter="url(#bl)" opacity=".55"><ellipse cx="334.2" cy="280.8" rx="1.23" ry="0.92" transform="rotate(-20 334.2 280.8)" fill="#ff1414" opacity="1.00"/><ellipse cx="357.7" cy="291.6" rx="1.69" ry="2.00" transform="rotate(0 357.7 291.6)" fill="#ff1414" opacity="0.70"/><ellipse cx="378.5" cy="291.3" rx="2.62" ry="1.38" transform="rotate(-20 378.5 291.3)" fill="#ff1414" opacity="0.60"/><ellipse cx="332.8" cy="301.6" rx="1.23" ry="0.77" transform="rotate(0 332.8 301.6)" fill="#ff1414" opacity="0.95"/><ellipse cx="333.1" cy="306.2" rx="0.77" ry="0.77" transform="rotate(0 333.1 306.2)" fill="#ff1414" opacity="0.50"/><ellipse cx="354.6" cy="314.7" rx="1.54" ry="1.54" transform="rotate(0 354.6 314.7)" fill="#ff1414" opacity="0.65"/><ellipse cx="392.3" cy="273.9" rx="2.77" ry="1.54" transform="rotate(30 392.3 273.9)" fill="#ff1414" opacity="0.45"/><ellipse cx="366.2" cy="305.5" rx="1.23" ry="1.23" transform="rotate(0 366.2 305.5)" fill="#ff1414" opacity="0.20"/><ellipse cx="356.9" cy="257.8" rx="1.23" ry="0.77" transform="rotate(0 356.9 257.8)" fill="#ff1414" opacity="0.20"/></g><ellipse cx="334.2" cy="280.8" rx="0.98" ry="0.74" transform="rotate(-20 334.2 280.8)" fill="#ff1414" opacity="1.00"/><ellipse cx="357.7" cy="291.6" rx="1.35" ry="1.60" transform="rotate(0 357.7 291.6)" fill="#ff1414" opacity="0.70"/><ellipse cx="378.5" cy="291.3" rx="2.09" ry="1.11" transform="rotate(-20 378.5 291.3)" fill="#ff1414" opacity="0.60"/><ellipse cx="332.8" cy="301.6" rx="0.98" ry="0.62" transform="rotate(0 332.8 301.6)" fill="#ff1414" opacity="0.95"/><ellipse cx="333.1" cy="306.2" rx="0.62" ry="0.62" transform="rotate(0 333.1 306.2)" fill="#ff1414" opacity="0.50"/><ellipse cx="354.6" cy="314.7" rx="1.23" ry="1.23" transform="rotate(0 354.6 314.7)" fill="#ff1414" opacity="0.65"/><ellipse cx="392.3" cy="273.9" rx="2.22" ry="1.23" transform="rotate(30 392.3 273.9)" fill="#ff1414" opacity="0.45"/><ellipse cx="366.2" cy="305.5" rx="0.98" ry="0.98" transform="rotate(0 366.2 305.5)" fill="#ff1414" opacity="0.20"/><ellipse cx="356.9" cy="257.8" rx="0.98" ry="0.62" transform="rotate(0 356.9 257.8)" fill="#ff1414" opacity="0.20"/></g>
<g clip-path="url(#cp35)"><g filter="url(#bl)" opacity=".55"><ellipse cx="434.2" cy="258.1" rx="2.31" ry="4.31" transform="rotate(-5 434.2 258.1)" fill="none" stroke="#3dff2a" stroke-width="1.08" opacity="0.80"/><ellipse cx="408.8" cy="266.2" rx="2.92" ry="2.92" transform="rotate(0 408.8 266.2)" fill="none" stroke="#3dff2a" stroke-width="0.77" opacity="0.45"/><ellipse cx="468.3" cy="273.4" rx="2.14" ry="0.42" transform="rotate(33 468.3 273.4)" fill="#3dff2a" opacity="0.80"/><ellipse cx="471.4" cy="275.7" rx="2.33" ry="0.42" transform="rotate(40 471.4 275.7)" fill="#3dff2a" opacity="0.80"/><ellipse cx="412.2" cy="283.9" rx="3.46" ry="0.51" transform="rotate(-6 412.2 283.9)" fill="#3dff2a" opacity="0.60"/><ellipse cx="411.4" cy="282.4" rx="1.82" ry="0.34" transform="rotate(11 411.4 282.4)" fill="#3dff2a" opacity="0.40"/><ellipse cx="434.5" cy="291.6" rx="2.62" ry="2.62" transform="rotate(0 434.5 291.6)" fill="none" stroke="#3dff2a" stroke-width="0.77" opacity="0.50"/><ellipse cx="454.0" cy="291.6" rx="3.69" ry="2.77" transform="rotate(-30 454.0 291.6)" fill="none" stroke="#3dff2a" stroke-width="1.08" opacity="0.90"/><ellipse cx="409.9" cy="305.5" rx="2.62" ry="3.85" transform="rotate(0 409.9 305.5)" fill="none" stroke="#3dff2a" stroke-width="0.77" opacity="0.45"/><ellipse cx="443.7" cy="305.9" rx="3.54" ry="3.54" transform="rotate(0 443.7 305.9)" fill="none" stroke="#3dff2a" stroke-width="1.08" opacity="0.95"/><ellipse cx="432.2" cy="314.7" rx="2.77" ry="3.08" transform="rotate(0 432.2 314.7)" fill="none" stroke="#3dff2a" stroke-width="1.08" opacity="0.80"/><ellipse cx="462.6" cy="313.2" rx="2.77" ry="2.46" transform="rotate(0 462.6 313.2)" fill="none" stroke="#3dff2a" stroke-width="0.92" opacity="0.70"/></g><ellipse cx="434.2" cy="258.1" rx="2.31" ry="4.31" transform="rotate(-5 434.2 258.1)" fill="none" stroke="#3dff2a" stroke-width="0.78" opacity="0.80"/><ellipse cx="408.8" cy="266.2" rx="2.92" ry="2.92" transform="rotate(0 408.8 266.2)" fill="none" stroke="#3dff2a" stroke-width="0.55" opacity="0.45"/><ellipse cx="468.3" cy="273.4" rx="1.93" ry="0.30" transform="rotate(33 468.3 273.4)" fill="#3dff2a" opacity="0.80"/><ellipse cx="471.4" cy="275.7" rx="2.09" ry="0.30" transform="rotate(40 471.4 275.7)" fill="#3dff2a" opacity="0.80"/><ellipse cx="412.2" cy="283.9" rx="3.12" ry="0.37" transform="rotate(-6 412.2 283.9)" fill="#3dff2a" opacity="0.60"/><ellipse cx="411.4" cy="282.4" rx="1.63" ry="0.24" transform="rotate(11 411.4 282.4)" fill="#3dff2a" opacity="0.40"/><ellipse cx="434.5" cy="291.6" rx="2.62" ry="2.62" transform="rotate(0 434.5 291.6)" fill="none" stroke="#3dff2a" stroke-width="0.55" opacity="0.50"/><ellipse cx="454.0" cy="291.6" rx="3.69" ry="2.77" transform="rotate(-30 454.0 291.6)" fill="none" stroke="#3dff2a" stroke-width="0.78" opacity="0.90"/><ellipse cx="409.9" cy="305.5" rx="2.62" ry="3.85" transform="rotate(0 409.9 305.5)" fill="none" stroke="#3dff2a" stroke-width="0.55" opacity="0.45"/><ellipse cx="443.7" cy="305.9" rx="3.54" ry="3.54" transform="rotate(0 443.7 305.9)" fill="none" stroke="#3dff2a" stroke-width="0.78" opacity="0.95"/><ellipse cx="432.2" cy="314.7" rx="2.77" ry="3.08" transform="rotate(0 432.2 314.7)" fill="none" stroke="#3dff2a" stroke-width="0.78" opacity="0.80"/><ellipse cx="462.6" cy="313.2" rx="2.77" ry="2.46" transform="rotate(0 462.6 313.2)" fill="none" stroke="#3dff2a" stroke-width="0.66" opacity="0.70"/><g style="mix-blend-mode:screen"><g filter="url(#bl)" opacity=".55"><ellipse cx="411.2" cy="280.8" rx="1.23" ry="0.92" transform="rotate(-20 411.2 280.8)" fill="#ff1414" opacity="1.00"/><ellipse cx="434.7" cy="291.6" rx="1.69" ry="2.00" transform="rotate(0 434.7 291.6)" fill="#ff1414" opacity="0.70"/><ellipse cx="455.5" cy="291.3" rx="2.62" ry="1.38" transform="rotate(-20 455.5 291.3)" fill="#ff1414" opacity="0.60"/><ellipse cx="409.8" cy="301.6" rx="1.23" ry="0.77" transform="rotate(0 409.8 301.6)" fill="#ff1414" opacity="0.95"/><ellipse cx="410.1" cy="306.2" rx="0.77" ry="0.77" transform="rotate(0 410.1 306.2)" fill="#ff1414" opacity="0.50"/><ellipse cx="431.6" cy="314.7" rx="1.54" ry="1.54" transform="rotate(0 431.6 314.7)" fill="#ff1414" opacity="0.65"/><ellipse cx="469.3" cy="273.9" rx="2.77" ry="1.54" transform="rotate(30 469.3 273.9)" fill="#ff1414" opacity="0.45"/><ellipse cx="443.2" cy="305.5" rx="1.23" ry="1.23" transform="rotate(0 443.2 305.5)" fill="#ff1414" opacity="0.20"/><ellipse cx="433.9" cy="257.8" rx="1.23" ry="0.77" transform="rotate(0 433.9 257.8)" fill="#ff1414" opacity="0.20"/></g><ellipse cx="411.2" cy="280.8" rx="0.98" ry="0.74" transform="rotate(-20 411.2 280.8)" fill="#ff1414" opacity="1.00"/><ellipse cx="434.7" cy="291.6" rx="1.35" ry="1.60" transform="rotate(0 434.7 291.6)" fill="#ff1414" opacity="0.70"/><ellipse cx="455.5" cy="291.3" rx="2.09" ry="1.11" transform="rotate(-20 455.5 291.3)" fill="#ff1414" opacity="0.60"/><ellipse cx="409.8" cy="301.6" rx="0.98" ry="0.62" transform="rotate(0 409.8 301.6)" fill="#ff1414" opacity="0.95"/><ellipse cx="410.1" cy="306.2" rx="0.62" ry="0.62" transform="rotate(0 410.1 306.2)" fill="#ff1414" opacity="0.50"/><ellipse cx="431.6" cy="314.7" rx="1.23" ry="1.23" transform="rotate(0 431.6 314.7)" fill="#ff1414" opacity="0.65"/><ellipse cx="469.3" cy="273.9" rx="2.22" ry="1.23" transform="rotate(30 469.3 273.9)" fill="#ff1414" opacity="0.45"/><ellipse cx="443.2" cy="305.5" rx="0.98" ry="0.98" transform="rotate(0 443.2 305.5)" fill="#ff1414" opacity="0.20"/><ellipse cx="433.9" cy="257.8" rx="0.98" ry="0.62" transform="rotate(0 433.9 257.8)" fill="#ff1414" opacity="0.20"/></g></g>
<rect x="395.6" y="20.8" width="1.8" height="9.2" fill="#ff1a1a"/><rect x="472.4" y="20.8" width="1.9" height="9.2" fill="#ff1a1a"/>
<rect x="15.10" y="170.95" width="75.20" height="1.9" fill="#c4c4c4"/>
<rect x="92.00" y="170.95" width="75.05" height="1.9" fill="#c4c4c4"/>
<rect x="168.75" y="170.95" width="74.80" height="1.9" fill="#c4c4c4"/>
<rect x="245.25" y="170.95" width="75.10" height="1.9" fill="#c4c4c4"/>
<rect x="322.05" y="170.95" width="75.30" height="1.9" fill="#c4c4c4"/>
<rect x="399.05" y="170.95" width="75.25" height="1.9" fill="#c4c4c4"/>
<rect x="16.10" y="91.90" width="6.9" height="1.50" fill="#fff"/>
<rect x="93.00" y="91.90" width="6.9" height="1.50" fill="#fff"/>
<rect x="169.75" y="91.90" width="6.9" height="1.50" fill="#fff"/>
<rect x="246.25" y="91.90" width="6.9" height="1.50" fill="#fff"/>
<rect x="323.05" y="91.90" width="6.9" height="1.50" fill="#fff"/>
<rect x="400.05" y="91.90" width="6.9" height="1.50" fill="#fff"/>
<rect x="16.10" y="168.85" width="6.9" height="1.35" fill="#fff"/>
<rect x="93.00" y="168.85" width="6.9" height="1.35" fill="#fff"/>
<rect x="169.75" y="168.85" width="6.9" height="1.35" fill="#fff"/>
<rect x="246.25" y="168.85" width="6.9" height="1.35" fill="#fff"/>
<rect x="323.05" y="168.85" width="6.9" height="1.35" fill="#fff"/>
<rect x="400.05" y="168.85" width="6.9" height="1.35" fill="#fff"/>
<rect x="16.10" y="245.50" width="6.9" height="1.40" fill="#d0d0d0"/>
<rect x="93.00" y="245.50" width="6.9" height="1.40" fill="#d0d0d0"/>
<rect x="169.75" y="245.50" width="6.9" height="1.40" fill="#d0d0d0"/>
<rect x="246.25" y="245.50" width="6.9" height="1.40" fill="#d0d0d0"/>
<rect x="323.05" y="245.50" width="6.9" height="1.40" fill="#d0d0d0"/>
<rect x="400.05" y="245.50" width="6.9" height="1.40" fill="#d0d0d0"/>
<rect x="16.10" y="322.20" width="6.9" height="1.50" fill="#e4e4e4"/>
<rect x="93.00" y="322.20" width="6.9" height="1.50" fill="#e4e4e4"/>
<rect x="169.75" y="322.20" width="6.9" height="1.50" fill="#e4e4e4"/>
<rect x="246.25" y="322.20" width="6.9" height="1.50" fill="#e4e4e4"/>
<rect x="323.05" y="322.20" width="6.9" height="1.50" fill="#e4e4e4"/>
<rect x="400.05" y="322.20" width="6.9" height="1.50" fill="#e4e4e4"/>
<path d="M13.6 16.45H248.4M250.3 16.45H474.6" stroke="#000" stroke-width="1.3"/>
<text x="5.80" y="10.85" font-size="10.4" fill="#000" stroke="#000" stroke-width=".3" font-weight="bold" textLength="7.90" lengthAdjust="spacingAndGlyphs" >A</text>
<text x="6.00" y="354.95" font-size="10.4" fill="#000" stroke="#000" stroke-width=".3" font-weight="bold" textLength="7.50" lengthAdjust="spacingAndGlyphs" >B</text>
<text x="177.80" y="355.05" font-size="10.4" fill="#000" stroke="#000" stroke-width=".3" font-weight="bold" textLength="7.80" lengthAdjust="spacingAndGlyphs" >C</text>
<text x="349.90" y="354.95" font-size="10.4" fill="#000" stroke="#000" stroke-width=".3" font-weight="bold" textLength="7.70" lengthAdjust="spacingAndGlyphs" >D</text>
<text x="6.00" y="520.55" font-size="10.4" fill="#000" stroke="#000" stroke-width=".3" font-weight="bold" textLength="7.00" lengthAdjust="spacingAndGlyphs" >E</text>
<text x="178.30" y="520.55" font-size="10.4" fill="#000" stroke="#000" stroke-width=".3" font-weight="bold" textLength="6.40" lengthAdjust="spacingAndGlyphs" >F</text>
<text x="349.90" y="520.65" font-size="10.4" fill="#000" stroke="#000" stroke-width=".3" font-weight="bold" textLength="7.70" lengthAdjust="spacingAndGlyphs" >G</text>
<text x="108.40" y="12.30" font-size="10" fill="#000" stroke="#000" stroke-width=".2" font-style="italic" textLength="17.60" lengthAdjust="spacingAndGlyphs" >Jak2</text>
<text x="126.20" y="8.00" font-size="4.7" fill="#000" stroke="#000" stroke-width=".2" font-style="italic" textLength="15.80" lengthAdjust="spacingAndGlyphs" >Plt+/+</text>
<text x="353.00" y="12.30" font-size="10" fill="#000" stroke="#000" stroke-width=".2" font-style="italic" textLength="17.60" lengthAdjust="spacingAndGlyphs" >Jak2</text>
<text x="370.80" y="8.00" font-size="4.7" fill="#000" stroke="#000" stroke-width=".2" font-style="italic" textLength="15.20" lengthAdjust="spacingAndGlyphs" >Plt&#8722;/&#8722;</text>
<text transform="translate(480.0 51.70) rotate(90)" text-anchor="middle" font-size="9.5" fill="#000" stroke="#000" stroke-width=".15" textLength="34.80" lengthAdjust="spacingAndGlyphs">Collagen</text>
<text transform="translate(480.0 128.00) rotate(90)" text-anchor="middle" font-size="9.5" fill="#000" stroke="#000" stroke-width=".15" textLength="20.00" lengthAdjust="spacingAndGlyphs">CRP</text>
<text transform="translate(480.0 206.50) rotate(90)" text-anchor="middle" font-size="9.5" fill="#000" stroke="#000" stroke-width=".15" textLength="36.00" lengthAdjust="spacingAndGlyphs">Thrombin</text>
<text transform="translate(480.0 290.20) rotate(90)" text-anchor="middle" font-size="9.5" fill="#000" stroke="#000" stroke-width=".15" textLength="28.90" lengthAdjust="spacingAndGlyphs">Resting</text>
<text x="34.90" y="334.00" font-size="8.8" fill="#58f22e" stroke="#58f22e" stroke-width=".2" textLength="33.50" lengthAdjust="spacingAndGlyphs" >&#946;-tubulin</text>
<text x="115.30" y="334.00" font-size="8.8" fill="#f5202e" stroke="#f5202e" stroke-width=".2" textLength="27.10" lengthAdjust="spacingAndGlyphs" >F-actin</text>
<text x="196.00" y="334.00" font-size="8.8" fill="#000" stroke="#000" stroke-width=".2" textLength="24.60" lengthAdjust="spacingAndGlyphs" >Merge</text>
<text x="269.30" y="333.60" font-size="8.8" fill="#58f22e" stroke="#58f22e" stroke-width=".2" textLength="34.10" lengthAdjust="spacingAndGlyphs" >&#946;-tubulin</text>
<text x="348.90" y="333.60" font-size="8.8" fill="#f5202e" stroke="#f5202e" stroke-width=".2" textLength="26.60" lengthAdjust="spacingAndGlyphs" >F-actin</text>
<text x="431.10" y="333.60" font-size="8.8" fill="#000" stroke="#000" stroke-width=".2" textLength="24.90" lengthAdjust="spacingAndGlyphs" >Merge</text>
<rect x="38.90" y="488.90" width="19.10" height="6.30" fill="#f5a9dd"/>
<rect x="58.00" y="458.90" width="18.60" height="36.30" fill="#7fbdd9"/>
<rect x="83.80" y="458.40" width="18.70" height="36.80" fill="#f5a9dd"/>
<rect x="102.50" y="437.60" width="19.00" height="57.60" fill="#7fbdd9"/>
<rect x="128.40" y="404.90" width="18.70" height="90.30" fill="#f5a9dd"/>
<rect x="147.10" y="454.60" width="18.90" height="40.60" fill="#7fbdd9"/>
<path d="M35.90 360.85V495.20H170.10" stroke="#0a0a0a" stroke-width="1.5" fill="none" stroke-linecap="square"/>
<path d="M32.50 495.20h3.4" stroke="#0a0a0a" stroke-width="1.1"/>
<text x="27.90" y="498.05" font-size="8.4" text-anchor="end" fill="#000" stroke="#000" stroke-width=".08" textLength="4.80" lengthAdjust="spacingAndGlyphs" >0</text>
<path d="M32.50 468.33h3.4" stroke="#0a0a0a" stroke-width="1.1"/>
<text x="29.80" y="471.18" font-size="8.4" text-anchor="end" fill="#000" stroke="#000" stroke-width=".08" textLength="9.50" lengthAdjust="spacingAndGlyphs" >20</text>
<path d="M32.50 441.46h3.4" stroke="#0a0a0a" stroke-width="1.1"/>
<text x="29.80" y="444.31" font-size="8.4" text-anchor="end" fill="#000" stroke="#000" stroke-width=".08" textLength="9.50" lengthAdjust="spacingAndGlyphs" >40</text>
<path d="M32.50 414.59h3.4" stroke="#0a0a0a" stroke-width="1.1"/>
<text x="29.80" y="417.44" font-size="8.4" text-anchor="end" fill="#000" stroke="#000" stroke-width=".08" textLength="9.50" lengthAdjust="spacingAndGlyphs" >60</text>
<path d="M32.50 387.72h3.4" stroke="#0a0a0a" stroke-width="1.1"/>
<text x="29.80" y="390.57" font-size="8.4" text-anchor="end" fill="#000" stroke="#000" stroke-width=".08" textLength="9.50" lengthAdjust="spacingAndGlyphs" >80</text>
<path d="M32.50 360.85h3.4" stroke="#0a0a0a" stroke-width="1.1"/>
<text x="29.80" y="363.70" font-size="8.4" text-anchor="end" fill="#000" stroke="#000" stroke-width=".08" textLength="12.80" lengthAdjust="spacingAndGlyphs" >100</text>
<path d="M58.00 495.20v3" stroke="#0a0a0a" stroke-width="1.1"/>
<path d="M102.50 495.20v3" stroke="#0a0a0a" stroke-width="1.1"/>
<path d="M147.10 495.20v3" stroke="#0a0a0a" stroke-width="1.1"/>
<path d="M49.00 484.90V493.50" stroke="#d3162b" stroke-width="1.5" fill="none"/><path d="M44.10 484.90h9.8M44.10 493.50h9.8" stroke="#cf0a1e" stroke-width="1.15" fill="none"/>
<path d="M67.50 438.70V479.70" stroke="#2a5ac4" stroke-width="1.5" fill="none"/><path d="M62.60 438.70h9.8M62.60 479.70h9.8" stroke="#1443b8" stroke-width="1.15" fill="none"/>
<path d="M93.30 455.50V461.50" stroke="#d3162b" stroke-width="1.5" fill="none"/><path d="M88.40 455.50h9.8M88.40 461.50h9.8" stroke="#cf0a1e" stroke-width="1.15" fill="none"/>
<path d="M112.00 420.90V454.60" stroke="#2a5ac4" stroke-width="1.5" fill="none"/><path d="M107.10 420.90h9.8M107.10 454.60h9.8" stroke="#1443b8" stroke-width="1.15" fill="none"/>
<path d="M138.00 400.00V409.20" stroke="#d3162b" stroke-width="1.5" fill="none"/><path d="M133.10 400.00h9.8M133.10 409.20h9.8" stroke="#cf0a1e" stroke-width="1.15" fill="none"/>
<path d="M156.60 442.10V467.10" stroke="#2a5ac4" stroke-width="1.5" fill="none"/><path d="M151.70 442.10h9.8M151.70 467.10h9.8" stroke="#1443b8" stroke-width="1.15" fill="none"/>
<circle cx="42.00" cy="485.90" r="2.6" fill="#cf0a1e"/>
<circle cx="55.40" cy="486.60" r="2.6" fill="#cf0a1e"/>
<circle cx="49.00" cy="488.90" r="2.6" fill="#cf0a1e"/>
<circle cx="49.00" cy="495.00" r="2.6" fill="#cf0a1e"/>
<circle cx="60.60" cy="442.10" r="2.6" fill="#0b36b3"/>
<circle cx="73.90" cy="441.10" r="2.6" fill="#0b36b3"/>
<circle cx="67.50" cy="474.20" r="2.6" fill="#0b36b3"/>
<circle cx="67.50" cy="479.70" r="2.6" fill="#0b36b3"/>
<circle cx="86.60" cy="456.30" r="2.6" fill="#cf0a1e"/>
<circle cx="99.90" cy="454.10" r="2.6" fill="#cf0a1e"/>
<circle cx="86.60" cy="462.00" r="2.6" fill="#cf0a1e"/>
<circle cx="99.90" cy="460.70" r="2.6" fill="#cf0a1e"/>
<circle cx="105.40" cy="438.50" r="2.6" fill="#0b36b3"/>
<circle cx="118.40" cy="438.50" r="2.6" fill="#0b36b3"/>
<circle cx="112.00" cy="457.20" r="2.6" fill="#0b36b3"/>
<circle cx="112.00" cy="416.10" r="2.6" fill="#0b36b3"/>
<circle cx="131.40" cy="400.20" r="2.6" fill="#cf0a1e"/>
<circle cx="144.50" cy="402.60" r="2.6" fill="#cf0a1e"/>
<circle cx="138.00" cy="404.40" r="2.6" fill="#cf0a1e"/>
<circle cx="138.00" cy="410.60" r="2.6" fill="#cf0a1e"/>
<circle cx="156.60" cy="439.90" r="2.6" fill="#0b36b3"/>
<circle cx="150.10" cy="452.90" r="2.6" fill="#0b36b3"/>
<circle cx="163.40" cy="455.80" r="2.6" fill="#0b36b3"/>
<circle cx="156.60" cy="470.70" r="2.6" fill="#0b36b3"/>
<text x="67.50" y="432.60" font-size="7.6" text-anchor="middle" fill="#000" stroke="#000" stroke-width="0" font-weight="bold" >*</text>
<text x="156.10" y="431.80" font-size="7.6" text-anchor="middle" fill="#000" stroke="#000" stroke-width="0" font-weight="bold" >***</text>
<text transform="translate(13.65 428.10) rotate(-90)" text-anchor="middle" font-size="8.8" fill="#000" stroke="#000" stroke-width=".15" textLength="36.60" lengthAdjust="spacingAndGlyphs">Platelets (%)</text>
<circle cx="44.10" cy="367.7" r="2.25" fill="#cf0a1e"/>
<circle cx="44.10" cy="377.3" r="2.25" fill="#0b36b3"/>
<text x="50.70" y="370.90" font-size="7.9" fill="#000" stroke="#000" stroke-width=".2" font-style="italic" textLength="15.20" lengthAdjust="spacingAndGlyphs" >Jak2</text>
<text x="66.10" y="367.50" font-size="4" fill="#000" stroke="#000" stroke-width=".2" font-style="italic" textLength="12.40" lengthAdjust="spacingAndGlyphs" >Plt+/+</text>
<text x="50.70" y="380.50" font-size="7.9" fill="#000" stroke="#000" stroke-width=".2" font-style="italic" textLength="15.20" lengthAdjust="spacingAndGlyphs" >Jak2</text>
<text x="66.10" y="377.10" font-size="4" fill="#000" stroke="#000" stroke-width=".2" font-style="italic" textLength="11.80" lengthAdjust="spacingAndGlyphs" >Plt&#8722;/&#8722;</text>
<text x="78.70" y="353.50" font-size="8.8" fill="#000" stroke="#000" stroke-width=".2" textLength="34.20" lengthAdjust="spacingAndGlyphs" >Collagen</text>
<text x="38.10" y="506.80" font-size="7.9" fill="#000" stroke="#000" stroke-width=".1" textLength="38.90" lengthAdjust="spacingAndGlyphs" >Rest/Round</text>
<text x="87.80" y="506.80" font-size="7.9" fill="#000" stroke="#000" stroke-width=".1" textLength="29.40" lengthAdjust="spacingAndGlyphs" >Filopodia</text>
<text x="135.40" y="506.80" font-size="7.9" fill="#000" stroke="#000" stroke-width=".1" textLength="23.80" lengthAdjust="spacingAndGlyphs" >Spread</text>
<rect x="208.10" y="490.60" width="19.00" height="4.60" fill="#f5a9dd"/>
<rect x="227.10" y="481.90" width="19.00" height="13.30" fill="#7fbdd9"/>
<rect x="253.10" y="469.00" width="18.90" height="26.20" fill="#f5a9dd"/>
<rect x="272.00" y="457.20" width="19.00" height="38.00" fill="#7fbdd9"/>
<rect x="297.90" y="390.70" width="18.70" height="104.50" fill="#f5a9dd"/>
<rect x="316.60" y="412.30" width="18.50" height="82.90" fill="#7fbdd9"/>
<path d="M205.10 360.85V495.20H339.30" stroke="#0a0a0a" stroke-width="1.5" fill="none" stroke-linecap="square"/>
<path d="M201.70 495.20h3.4" stroke="#0a0a0a" stroke-width="1.1"/>
<text x="197.50" y="498.05" font-size="8.4" text-anchor="end" fill="#000" stroke="#000" stroke-width=".08" textLength="4.80" lengthAdjust="spacingAndGlyphs" >0</text>
<path d="M201.70 468.33h3.4" stroke="#0a0a0a" stroke-width="1.1"/>
<text x="199.40" y="471.18" font-size="8.4" text-anchor="end" fill="#000" stroke="#000" stroke-width=".08" textLength="9.50" lengthAdjust="spacingAndGlyphs" >20</text>
<path d="M201.70 441.46h3.4" stroke="#0a0a0a" stroke-width="1.1"/>
<text x="199.40" y="444.31" font-size="8.4" text-anchor="end" fill="#000" stroke="#000" stroke-width=".08" textLength="9.50" lengthAdjust="spacingAndGlyphs" >40</text>
<path d="M201.70 414.59h3.4" stroke="#0a0a0a" stroke-width="1.1"/>
<text x="199.40" y="417.44" font-size="8.4" text-anchor="end" fill="#000" stroke="#000" stroke-width=".08" textLength="9.50" lengthAdjust="spacingAndGlyphs" >60</text>
<path d="M201.70 387.72h3.4" stroke="#0a0a0a" stroke-width="1.1"/>
<text x="199.40" y="390.57" font-size="8.4" text-anchor="end" fill="#000" stroke="#000" stroke-width=".08" textLength="9.50" lengthAdjust="spacingAndGlyphs" >80</text>
<path d="M201.70 360.85h3.4" stroke="#0a0a0a" stroke-width="1.1"/>
<text x="199.40" y="363.70" font-size="8.4" text-anchor="end" fill="#000" stroke="#000" stroke-width=".08" textLength="12.80" lengthAdjust="spacingAndGlyphs" >100</text>
<path d="M227.10 495.20v3" stroke="#0a0a0a" stroke-width="1.1"/>
<path d="M272.00 495.20v3" stroke="#0a0a0a" stroke-width="1.1"/>
<path d="M316.60 495.20v3" stroke="#0a0a0a" stroke-width="1.1"/>
<path d="M217.80 488.00V493.60" stroke="#d3162b" stroke-width="1.5" fill="none"/><path d="M212.90 488.00h9.8M212.90 493.60h9.8" stroke="#cf0a1e" stroke-width="1.15" fill="none"/>
<path d="M236.60 477.10V486.60" stroke="#2a5ac4" stroke-width="1.5" fill="none"/><path d="M231.70 477.10h9.8M231.70 486.60h9.8" stroke="#1443b8" stroke-width="1.15" fill="none"/>
<path d="M262.50 457.20V480.20" stroke="#d3162b" stroke-width="1.5" fill="none"/><path d="M257.60 457.20h9.8M257.60 480.20h9.8" stroke="#cf0a1e" stroke-width="1.15" fill="none"/>
<path d="M281.10 449.40V465.30" stroke="#2a5ac4" stroke-width="1.5" fill="none"/><path d="M276.20 449.40h9.8M276.20 465.30h9.8" stroke="#1443b8" stroke-width="1.15" fill="none"/>
<path d="M307.10 377.30V404.20" stroke="#d3162b" stroke-width="1.5" fill="none"/><path d="M302.20 377.30h9.8M302.20 404.20h9.8" stroke="#cf0a1e" stroke-width="1.15" fill="none"/>
<path d="M325.60 405.70V417.90" stroke="#2a5ac4" stroke-width="1.5" fill="none"/><path d="M320.70 405.70h9.8M320.70 417.90h9.8" stroke="#1443b8" stroke-width="1.15" fill="none"/>
<circle cx="211.20" cy="488.70" r="2.6" fill="#cf0a1e"/>
<circle cx="215.50" cy="488.70" r="2.6" fill="#cf0a1e"/>
<circle cx="220.20" cy="490.60" r="2.6" fill="#cf0a1e"/>
<circle cx="224.50" cy="491.30" r="2.6" fill="#cf0a1e"/>
<circle cx="211.20" cy="494.90" r="2.6" fill="#cf0a1e"/>
<circle cx="233.10" cy="475.70" r="2.6" fill="#0b36b3"/>
<circle cx="239.70" cy="477.10" r="2.6" fill="#0b36b3"/>
<circle cx="229.70" cy="486.10" r="2.6" fill="#0b36b3"/>
<circle cx="236.60" cy="484.50" r="2.6" fill="#0b36b3"/>
<circle cx="243.00" cy="485.40" r="2.6" fill="#0b36b3"/>
<circle cx="255.70" cy="455.50" r="2.6" fill="#cf0a1e"/>
<circle cx="269.00" cy="460.10" r="2.6" fill="#cf0a1e"/>
<circle cx="262.50" cy="469.30" r="2.6" fill="#cf0a1e"/>
<circle cx="255.70" cy="480.20" r="2.6" fill="#cf0a1e"/>
<circle cx="269.00" cy="480.20" r="2.6" fill="#cf0a1e"/>
<circle cx="281.10" cy="446.30" r="2.6" fill="#0b36b3"/>
<circle cx="281.10" cy="452.40" r="2.6" fill="#0b36b3"/>
<circle cx="274.70" cy="460.70" r="2.6" fill="#0b36b3"/>
<circle cx="287.70" cy="461.20" r="2.6" fill="#0b36b3"/>
<circle cx="274.70" cy="466.40" r="2.6" fill="#0b36b3"/>
<circle cx="300.20" cy="375.80" r="2.6" fill="#cf0a1e"/>
<circle cx="313.50" cy="379.30" r="2.6" fill="#cf0a1e"/>
<circle cx="307.10" cy="390.50" r="2.6" fill="#cf0a1e"/>
<circle cx="313.50" cy="401.80" r="2.6" fill="#cf0a1e"/>
<circle cx="300.20" cy="406.60" r="2.6" fill="#cf0a1e"/>
<circle cx="319.20" cy="403.50" r="2.6" fill="#0b36b3"/>
<circle cx="332.20" cy="408.90" r="2.6" fill="#0b36b3"/>
<circle cx="319.20" cy="413.00" r="2.6" fill="#0b36b3"/>
<circle cx="332.20" cy="414.40" r="2.6" fill="#0b36b3"/>
<circle cx="319.20" cy="419.60" r="2.6" fill="#0b36b3"/>
<text x="236.10" y="467.70" font-size="7.6" text-anchor="middle" fill="#000" stroke="#000" stroke-width="0" font-weight="bold" >**</text>
<text x="281.10" y="438.30" font-size="7.6" text-anchor="middle" fill="#000" stroke="#000" stroke-width="0" font-weight="bold" >*</text>
<text x="325.30" y="394.70" font-size="7.6" text-anchor="middle" fill="#000" stroke="#000" stroke-width="0" font-weight="bold" >*</text>
<text transform="translate(184.75 428.10) rotate(-90)" text-anchor="middle" font-size="8.8" fill="#000" stroke="#000" stroke-width=".15" textLength="36.60" lengthAdjust="spacingAndGlyphs">Platelets (%)</text>
<circle cx="213.30" cy="367.7" r="2.25" fill="#cf0a1e"/>
<circle cx="213.30" cy="377.3" r="2.25" fill="#0b36b3"/>
<text x="220.20" y="370.90" font-size="7.9" fill="#000" stroke="#000" stroke-width=".2" font-style="italic" textLength="15.20" lengthAdjust="spacingAndGlyphs" >Jak2</text>
<text x="235.60" y="367.50" font-size="4" fill="#000" stroke="#000" stroke-width=".2" font-style="italic" textLength="12.40" lengthAdjust="spacingAndGlyphs" >Plt+/+</text>
<text x="220.20" y="380.50" font-size="7.9" fill="#000" stroke="#000" stroke-width=".2" font-style="italic" textLength="15.20" lengthAdjust="spacingAndGlyphs" >Jak2</text>
<text x="235.60" y="377.10" font-size="4" fill="#000" stroke="#000" stroke-width=".2" font-style="italic" textLength="11.80" lengthAdjust="spacingAndGlyphs" >Plt&#8722;/&#8722;</text>
<text x="262.10" y="353.50" font-size="8.8" fill="#000" stroke="#000" stroke-width=".2" textLength="19.90" lengthAdjust="spacingAndGlyphs" >CRP</text>
<text x="207.40" y="506.80" font-size="7.9" fill="#000" stroke="#000" stroke-width=".1" textLength="39.10" lengthAdjust="spacingAndGlyphs" >Rest/Round</text>
<text x="257.30" y="506.80" font-size="7.9" fill="#000" stroke="#000" stroke-width=".1" textLength="29.60" lengthAdjust="spacingAndGlyphs" >Filopodia</text>
<text x="305.00" y="506.80" font-size="7.9" fill="#000" stroke="#000" stroke-width=".1" textLength="23.70" lengthAdjust="spacingAndGlyphs" >Spread</text>
<rect x="382.00" y="490.10" width="18.60" height="5.10" fill="#f5a9dd"/>
<rect x="400.60" y="490.40" width="19.00" height="4.80" fill="#7fbdd9"/>
<rect x="426.70" y="474.20" width="18.50" height="21.00" fill="#f5a9dd"/>
<rect x="445.20" y="460.10" width="18.70" height="35.10" fill="#7fbdd9"/>
<rect x="471.20" y="387.60" width="18.70" height="107.60" fill="#f5a9dd"/>
<rect x="489.90" y="401.90" width="19.00" height="93.30" fill="#7fbdd9"/>
<path d="M378.20 360.85V495.20H512.10" stroke="#0a0a0a" stroke-width="1.5" fill="none" stroke-linecap="square"/>
<path d="M374.80 495.20h3.4" stroke="#0a0a0a" stroke-width="1.1"/>
<text x="370.60" y="498.05" font-size="8.4" text-anchor="end" fill="#000" stroke="#000" stroke-width=".08" textLength="4.80" lengthAdjust="spacingAndGlyphs" >0</text>
<path d="M374.80 468.33h3.4" stroke="#0a0a0a" stroke-width="1.1"/>
<text x="372.50" y="471.18" font-size="8.4" text-anchor="end" fill="#000" stroke="#000" stroke-width=".08" textLength="9.50" lengthAdjust="spacingAndGlyphs" >20</text>
<path d="M374.80 441.46h3.4" stroke="#0a0a0a" stroke-width="1.1"/>
<text x="372.50" y="444.31" font-size="8.4" text-anchor="end" fill="#000" stroke="#000" stroke-width=".08" textLength="9.50" lengthAdjust="spacingAndGlyphs" >40</text>
<path d="M374.80 414.59h3.4" stroke="#0a0a0a" stroke-width="1.1"/>
<text x="372.50" y="417.44" font-size="8.4" text-anchor="end" fill="#000" stroke="#000" stroke-width=".08" textLength="9.50" lengthAdjust="spacingAndGlyphs" >60</text>
<path d="M374.80 387.72h3.4" stroke="#0a0a0a" stroke-width="1.1"/>
<text x="372.50" y="390.57" font-size="8.4" text-anchor="end" fill="#000" stroke="#000" stroke-width=".08" textLength="9.50" lengthAdjust="spacingAndGlyphs" >80</text>
<path d="M374.80 360.85h3.4" stroke="#0a0a0a" stroke-width="1.1"/>
<text x="372.50" y="363.70" font-size="8.4" text-anchor="end" fill="#000" stroke="#000" stroke-width=".08" textLength="12.80" lengthAdjust="spacingAndGlyphs" >100</text>
<path d="M400.60 495.20v3" stroke="#0a0a0a" stroke-width="1.1"/>
<path d="M445.20 495.20v3" stroke="#0a0a0a" stroke-width="1.1"/>
<path d="M489.90 495.20v3" stroke="#0a0a0a" stroke-width="1.1"/>
<path d="M391.40 484.40V495.20" stroke="#d3162b" stroke-width="1.5" fill="none"/><path d="M386.50 484.40h9.8M386.50 495.20h9.8" stroke="#cf0a1e" stroke-width="1.15" fill="none"/>
<path d="M409.70 486.60V494.40" stroke="#2a5ac4" stroke-width="1.5" fill="none"/><path d="M404.80 486.60h9.8M404.80 494.40h9.8" stroke="#1443b8" stroke-width="1.15" fill="none"/>
<path d="M435.70 457.20V490.90" stroke="#d3162b" stroke-width="1.5" fill="none"/><path d="M430.80 457.20h9.8M430.80 490.90h9.8" stroke="#cf0a1e" stroke-width="1.15" fill="none"/>
<path d="M454.80 447.30V471.60" stroke="#2a5ac4" stroke-width="1.5" fill="none"/><path d="M449.90 447.30h9.8M449.90 471.60h9.8" stroke="#1443b8" stroke-width="1.15" fill="none"/>
<path d="M480.70 369.40V405.70" stroke="#d3162b" stroke-width="1.5" fill="none"/><path d="M475.80 369.40h9.8M475.80 405.70h9.8" stroke="#cf0a1e" stroke-width="1.15" fill="none"/>
<path d="M499.40 387.10V416.10" stroke="#2a5ac4" stroke-width="1.5" fill="none"/><path d="M494.50 387.10h9.8M494.50 416.10h9.8" stroke="#1443b8" stroke-width="1.15" fill="none"/>
<circle cx="391.40" cy="480.90" r="2.6" fill="#cf0a1e"/>
<circle cx="398.00" cy="487.10" r="2.6" fill="#cf0a1e"/>
<circle cx="391.40" cy="491.80" r="2.6" fill="#cf0a1e"/>
<circle cx="384.60" cy="495.00" r="2.6" fill="#cf0a1e"/>
<circle cx="398.00" cy="495.00" r="2.6" fill="#cf0a1e"/>
<circle cx="406.60" cy="485.40" r="2.6" fill="#0b36b3"/>
<circle cx="413.20" cy="485.40" r="2.6" fill="#0b36b3"/>
<circle cx="409.70" cy="490.60" r="2.6" fill="#0b36b3"/>
<circle cx="403.10" cy="495.20" r="2.6" fill="#0b36b3"/>
<circle cx="416.50" cy="494.70" r="2.6" fill="#0b36b3"/>
<circle cx="435.70" cy="454.60" r="2.6" fill="#cf0a1e"/>
<circle cx="435.70" cy="461.00" r="2.6" fill="#cf0a1e"/>
<circle cx="435.70" cy="476.60" r="2.6" fill="#cf0a1e"/>
<circle cx="435.70" cy="484.40" r="2.6" fill="#cf0a1e"/>
<circle cx="435.70" cy="495.00" r="2.6" fill="#cf0a1e"/>
<circle cx="454.80" cy="441.60" r="2.6" fill="#0b36b3"/>
<circle cx="454.80" cy="453.40" r="2.6" fill="#0b36b3"/>
<circle cx="454.80" cy="463.30" r="2.6" fill="#0b36b3"/>
<circle cx="448.00" cy="471.60" r="2.6" fill="#0b36b3"/>
<circle cx="461.00" cy="469.80" r="2.6" fill="#0b36b3"/>
<circle cx="480.70" cy="361.10" r="2.6" fill="#cf0a1e"/>
<circle cx="480.70" cy="380.10" r="2.6" fill="#cf0a1e"/>
<circle cx="480.70" cy="386.40" r="2.6" fill="#cf0a1e"/>
<circle cx="474.00" cy="404.90" r="2.6" fill="#cf0a1e"/>
<circle cx="487.30" cy="404.40" r="2.6" fill="#cf0a1e"/>
<circle cx="492.80" cy="388.40" r="2.6" fill="#0b36b3"/>
<circle cx="492.80" cy="395.00" r="2.6" fill="#0b36b3"/>
<circle cx="505.80" cy="393.10" r="2.6" fill="#0b36b3"/>
<circle cx="499.40" cy="407.50" r="2.6" fill="#0b36b3"/>
<circle cx="499.40" cy="425.10" r="2.6" fill="#0b36b3"/>
<text transform="translate(358.15 428.10) rotate(-90)" text-anchor="middle" font-size="8.8" fill="#000" stroke="#000" stroke-width=".15" textLength="36.60" lengthAdjust="spacingAndGlyphs">Platelets (%)</text>
<circle cx="386.70" cy="367.7" r="2.25" fill="#cf0a1e"/>
<circle cx="386.70" cy="377.3" r="2.25" fill="#0b36b3"/>
<text x="393.60" y="370.90" font-size="7.9" fill="#000" stroke="#000" stroke-width=".2" font-style="italic" textLength="15.20" lengthAdjust="spacingAndGlyphs" >Jak2</text>
<text x="409.00" y="367.50" font-size="4" fill="#000" stroke="#000" stroke-width=".2" font-style="italic" textLength="12.40" lengthAdjust="spacingAndGlyphs" >Plt+/+</text>
<text x="393.60" y="380.50" font-size="7.9" fill="#000" stroke="#000" stroke-width=".2" font-style="italic" textLength="15.20" lengthAdjust="spacingAndGlyphs" >Jak2</text>
<text x="409.00" y="377.10" font-size="4" fill="#000" stroke="#000" stroke-width=".2" font-style="italic" textLength="11.80" lengthAdjust="spacingAndGlyphs" >Plt&#8722;/&#8722;</text>
<text x="423.60" y="353.50" font-size="8.8" fill="#000" stroke="#000" stroke-width=".2" textLength="35.10" lengthAdjust="spacingAndGlyphs" >Thrombin</text>
<text x="380.70" y="507.40" font-size="7.9" fill="#000" stroke="#000" stroke-width=".1" textLength="39.60" lengthAdjust="spacingAndGlyphs" >Rest/Round</text>
<text x="431.00" y="506.70" font-size="7.9" fill="#000" stroke="#000" stroke-width=".1" textLength="29.50" lengthAdjust="spacingAndGlyphs" >Filopodia</text>
<text x="477.80" y="507.40" font-size="7.9" fill="#000" stroke="#000" stroke-width=".1" textLength="23.80" lengthAdjust="spacingAndGlyphs" >Spread</text>
<path d="M66.50 540.96C66.57 542.45 66.80 546.77 66.90 549.92C67.00 553.07 67.00 556.56 67.10 559.88C67.20 563.20 67.30 566.52 67.50 569.84C67.70 573.16 68.16 576.48 68.29 579.80C68.43 583.12 68.19 587.27 68.29 589.76C68.39 592.25 68.36 593.25 68.89 594.74C69.42 596.24 70.05 597.07 71.48 598.73C72.91 600.39 75.80 603.04 77.46 604.70C79.12 606.36 80.34 607.46 81.44 608.69C82.54 609.91 83.03 610.58 84.03 612.07C85.03 613.57 86.35 615.89 87.42 617.65C88.48 619.41 90.57 620.97 90.40 622.63C90.24 624.29 87.58 626.12 86.42 627.61C85.26 629.10 84.16 630.37 83.43 631.59C82.70 632.82 82.37 633.82 82.04 634.98C81.71 636.14 82.20 636.97 81.44 638.57C80.68 640.16 78.78 642.72 77.46 644.54C76.13 646.37 74.70 647.86 73.47 649.52C72.24 651.18 71.25 652.84 70.09 654.50C68.92 656.16 67.10 658.65 66.50 659.48C65.90 660.31 67.10 660.31 66.50 659.48C65.90 658.65 64.08 656.16 62.91 654.50C61.75 652.84 60.76 651.18 59.53 649.52C58.30 647.86 56.87 646.37 55.54 644.54C54.22 642.72 52.32 640.16 51.56 638.57C50.80 636.97 51.29 636.14 50.96 634.98C50.63 633.82 50.30 632.82 49.57 631.59C48.84 630.37 47.74 629.10 46.58 627.61C45.42 626.12 42.76 624.29 42.60 622.63C42.43 620.97 44.52 619.41 45.58 617.65C46.65 615.89 47.97 613.57 48.97 612.07C49.97 610.58 50.46 609.91 51.56 608.69C52.66 607.46 53.88 606.36 55.54 604.70C57.20 603.04 60.09 600.39 61.52 598.73C62.95 597.07 63.58 596.24 64.11 594.74C64.64 593.25 64.61 592.25 64.71 589.76C64.81 587.27 64.57 583.12 64.71 579.80C64.84 576.48 65.30 573.16 65.50 569.84C65.70 566.52 65.80 563.20 65.90 559.88C66.00 556.56 66.00 553.07 66.10 549.92C66.20 546.77 66.43 542.45 66.50 540.96C66.57 539.46 66.43 539.46 66.50 540.96Z" fill="#f5a9dd"/>
<path d="M133.40 551.91C133.50 553.24 133.83 556.89 134.00 559.88C134.16 562.87 134.26 566.52 134.40 569.84C134.53 573.16 134.63 576.48 134.79 579.80C134.96 583.12 135.03 586.77 135.39 589.76C135.76 592.75 136.32 595.41 136.99 597.73C137.65 600.05 138.88 602.05 139.38 603.71C139.87 605.37 139.64 606.36 139.97 607.69C140.31 609.02 141.07 610.35 141.37 611.67C141.67 613.00 141.60 614.50 141.77 615.66C141.93 616.82 142.03 617.75 142.36 618.65C142.70 619.54 142.60 619.87 143.76 621.04C144.92 622.20 147.74 624.19 149.34 625.62C150.93 627.05 152.16 628.34 153.32 629.60C154.48 630.86 155.64 631.86 156.31 633.19C156.97 634.52 157.40 636.27 157.30 637.57C157.20 638.86 157.04 639.63 155.71 640.96C154.38 642.28 151.39 644.11 149.34 645.54C147.28 646.97 145.09 648.19 143.36 649.52C141.63 650.85 140.24 652.18 138.98 653.51C137.72 654.83 136.72 656.33 135.79 657.49C134.86 658.65 133.80 659.98 133.40 660.48C133.00 660.98 133.80 660.98 133.40 660.48C133.00 659.98 131.94 658.65 131.01 657.49C130.08 656.33 129.08 654.83 127.82 653.51C126.56 652.18 125.17 650.85 123.44 649.52C121.71 648.19 119.52 646.97 117.46 645.54C115.41 644.11 112.42 642.28 111.09 640.96C109.76 639.63 109.60 638.86 109.50 637.57C109.40 636.27 109.83 634.52 110.49 633.19C111.16 631.86 112.32 630.86 113.48 629.60C114.64 628.34 115.87 627.05 117.46 625.62C119.06 624.19 121.88 622.20 123.04 621.04C124.20 619.87 124.10 619.54 124.44 618.65C124.77 617.75 124.87 616.82 125.03 615.66C125.20 614.50 125.13 613.00 125.43 611.67C125.73 610.35 126.49 609.02 126.83 607.69C127.16 606.36 126.93 605.37 127.42 603.71C127.92 602.05 129.15 600.05 129.81 597.73C130.48 595.41 131.04 592.75 131.41 589.76C131.77 586.77 131.84 583.12 132.01 579.80C132.17 576.48 132.27 573.16 132.40 569.84C132.54 566.52 132.64 562.87 132.80 559.88C132.97 556.89 133.30 553.24 133.40 551.91C133.50 550.58 133.30 550.58 133.40 551.91Z" fill="#7fbdd9"/>
<path d="M49.20 612.40H83.80" stroke="#cf0a1e" stroke-width="1.7"/>
<path d="M42.90 622.60H90.10" stroke="#cf0a1e" stroke-width="1.7"/>
<path d="M51.20 634.80H81.80" stroke="#cf0a1e" stroke-width="1.7"/>
<path d="M123.40 621.00H143.40" stroke="#0b36b3" stroke-width="1.7"/>
<path d="M111.40 633.20H155.40" stroke="#0b36b3" stroke-width="1.7"/>
<path d="M112.40 641.00H154.40" stroke="#0b36b3" stroke-width="1.7"/>
<ellipse cx="133.4" cy="542.5" rx="0.8" ry="5.3" fill="#0b36b3"/>
<path d="M32.80 526.25V660.10H167.10" stroke="#0a0a0a" stroke-width="1.5" fill="none" stroke-linecap="square"/>
<path d="M29.40 660.10h3.4" stroke="#0a0a0a" stroke-width="1.1"/>
<text x="24.90" y="662.95" font-size="8.4" text-anchor="end" fill="#000" stroke="#000" stroke-width=".08" textLength="4.80" lengthAdjust="spacingAndGlyphs" >0</text>
<path d="M29.40 633.33h3.4" stroke="#0a0a0a" stroke-width="1.1"/>
<text x="26.80" y="636.18" font-size="8.4" text-anchor="end" fill="#000" stroke="#000" stroke-width=".08" textLength="9.50" lengthAdjust="spacingAndGlyphs" >20</text>
<path d="M29.40 606.56h3.4" stroke="#0a0a0a" stroke-width="1.1"/>
<text x="26.80" y="609.41" font-size="8.4" text-anchor="end" fill="#000" stroke="#000" stroke-width=".08" textLength="9.50" lengthAdjust="spacingAndGlyphs" >40</text>
<path d="M29.40 579.79h3.4" stroke="#0a0a0a" stroke-width="1.1"/>
<text x="26.80" y="582.64" font-size="8.4" text-anchor="end" fill="#000" stroke="#000" stroke-width=".08" textLength="9.50" lengthAdjust="spacingAndGlyphs" >60</text>
<path d="M29.40 553.02h3.4" stroke="#0a0a0a" stroke-width="1.1"/>
<text x="26.80" y="555.87" font-size="8.4" text-anchor="end" fill="#000" stroke="#000" stroke-width=".08" textLength="9.50" lengthAdjust="spacingAndGlyphs" >80</text>
<path d="M29.40 526.25h3.4" stroke="#0a0a0a" stroke-width="1.1"/>
<text x="26.80" y="529.10" font-size="8.4" text-anchor="end" fill="#000" stroke="#000" stroke-width=".08" textLength="12.80" lengthAdjust="spacingAndGlyphs" >100</text>
<path d="M66.50 660.10v3" stroke="#0a0a0a" stroke-width="1.1"/>
<path d="M133.40 660.10v3" stroke="#0a0a0a" stroke-width="1.1"/>
<text x="134.00" y="534.70" font-size="7.6" text-anchor="middle" fill="#000" stroke="#000" stroke-width="0" font-weight="bold" >***</text>
<text transform="translate(14.00 593.5) rotate(-90)" text-anchor="middle" font-size="8.8" fill="#000" stroke="#000" stroke-width=".15" textLength="79.3" lengthAdjust="spacingAndGlyphs">Platelet surface area (&#956;m<tspan font-size="5.2" dy="-3.2">2</tspan><tspan dy="3.2">)</tspan></text>
<text x="51.50" y="672.50" font-size="8.2" fill="#000" stroke="#000" stroke-width=".2" font-style="italic" textLength="15.60" lengthAdjust="spacingAndGlyphs" >Jak2</text>
<text x="67.30" y="669.00" font-size="4.1" fill="#000" stroke="#000" stroke-width=".2" font-style="italic" textLength="13.00" lengthAdjust="spacingAndGlyphs" >Plt+/+</text>
<text x="120.00" y="672.50" font-size="8.2" fill="#000" stroke="#000" stroke-width=".2" font-style="italic" textLength="15.60" lengthAdjust="spacingAndGlyphs" >Jak2</text>
<text x="135.80" y="669.00" font-size="4.1" fill="#000" stroke="#000" stroke-width=".2" font-style="italic" textLength="12.40" lengthAdjust="spacingAndGlyphs" >Plt&#8722;/&#8722;</text>
<path d="M237.50 526.41C237.57 528.19 237.78 533.53 237.93 537.09C238.07 540.66 238.25 544.93 238.35 547.78C238.46 550.63 238.39 551.70 238.57 554.19C238.75 556.68 239.35 560.24 239.42 562.74C239.49 565.23 238.89 567.01 239.00 569.15C239.10 571.28 239.78 573.06 240.06 575.56C240.35 578.05 240.42 581.61 240.71 584.10C240.99 586.60 241.17 588.38 241.77 590.51C242.38 592.65 243.09 594.96 244.34 596.92C245.58 598.88 247.72 600.66 249.25 602.26C250.78 603.87 252.21 604.94 253.53 606.54C254.84 608.14 255.98 610.03 257.16 611.88C258.33 613.73 260.29 615.87 260.58 617.65C260.86 619.43 259.62 621.03 258.87 622.56C258.12 624.10 257.34 625.41 256.09 626.84C254.84 628.26 253.06 629.33 251.39 631.11C249.72 632.89 247.58 635.38 246.05 637.52C244.52 639.66 243.27 641.79 242.20 643.93C241.13 646.07 240.28 648.21 239.64 650.34C239.00 652.48 238.71 655.15 238.35 656.75C238.00 658.35 237.64 659.42 237.50 659.96C237.36 660.49 237.64 660.49 237.50 659.96C237.36 659.42 237.00 658.35 236.65 656.75C236.29 655.15 236.00 652.48 235.36 650.34C234.72 648.21 233.87 646.07 232.80 643.93C231.73 641.79 230.48 639.66 228.95 637.52C227.42 635.38 225.28 632.89 223.61 631.11C221.94 629.33 220.16 628.26 218.91 626.84C217.66 625.41 216.88 624.10 216.13 622.56C215.38 621.03 214.14 619.43 214.42 617.65C214.71 615.87 216.67 613.73 217.84 611.88C219.02 610.03 220.16 608.14 221.47 606.54C222.79 604.94 224.22 603.87 225.75 602.26C227.28 600.66 229.42 598.88 230.66 596.92C231.91 594.96 232.62 592.65 233.23 590.51C233.83 588.38 234.01 586.60 234.29 584.10C234.58 581.61 234.65 578.05 234.94 575.56C235.22 573.06 235.90 571.28 236.00 569.15C236.11 567.01 235.51 565.23 235.58 562.74C235.65 560.24 236.25 556.68 236.43 554.19C236.61 551.70 236.54 550.63 236.65 547.78C236.75 544.93 236.93 540.66 237.07 537.09C237.22 533.53 237.43 528.19 237.50 526.41C237.57 524.63 237.43 524.63 237.50 526.41Z" fill="#f5a9dd"/>
<path d="M304.60 526.41C304.67 528.90 304.92 537.09 305.03 541.37C305.13 545.64 305.17 548.49 305.24 552.05C305.31 555.61 305.38 559.89 305.45 562.74C305.53 565.58 305.38 567.01 305.67 569.15C305.95 571.28 306.91 573.60 307.16 575.56C307.41 577.51 307.09 579.12 307.16 580.90C307.24 582.68 307.13 584.28 307.59 586.24C308.05 588.20 309.02 590.51 309.94 592.65C310.87 594.79 312.08 596.92 313.15 599.06C314.22 601.20 315.11 603.69 316.35 605.47C317.60 607.25 319.56 608.57 320.63 609.74C321.69 610.92 321.59 611.10 322.76 612.52C323.94 613.95 326.72 616.37 327.68 618.29C328.64 620.21 328.53 622.28 328.53 624.06C328.53 625.84 328.10 627.37 327.68 628.97C327.25 630.58 327.32 631.89 325.97 633.68C324.61 635.46 321.62 637.59 319.56 639.66C317.49 641.72 315.07 643.93 313.57 646.07C312.08 648.21 311.30 650.70 310.58 652.48C309.87 654.26 309.94 655.61 309.30 656.75C308.66 657.89 307.52 658.75 306.74 659.32C305.95 659.89 304.96 660.03 304.60 660.17C304.24 660.31 304.96 660.31 304.60 660.17C304.24 660.03 303.25 659.89 302.46 659.32C301.68 658.75 300.54 657.89 299.90 656.75C299.26 655.61 299.33 654.26 298.62 652.48C297.90 650.70 297.12 648.21 295.63 646.07C294.13 643.93 291.71 641.72 289.64 639.66C287.58 637.59 284.59 635.46 283.23 633.68C281.88 631.89 281.95 630.58 281.52 628.97C281.10 627.37 280.67 625.84 280.67 624.06C280.67 622.28 280.56 620.21 281.52 618.29C282.48 616.37 285.26 613.95 286.44 612.52C287.61 611.10 287.51 610.92 288.57 609.74C289.64 608.57 291.60 607.25 292.85 605.47C294.09 603.69 294.98 601.20 296.05 599.06C297.12 596.92 298.33 594.79 299.26 592.65C300.18 590.51 301.15 588.20 301.61 586.24C302.07 584.28 301.96 582.68 302.04 580.90C302.11 579.12 301.79 577.51 302.04 575.56C302.29 573.60 303.25 571.28 303.53 569.15C303.82 567.01 303.67 565.58 303.75 562.74C303.82 559.89 303.89 555.61 303.96 552.05C304.03 548.49 304.07 545.64 304.17 541.37C304.28 537.09 304.53 528.90 304.60 526.41C304.67 523.92 304.53 523.92 304.60 526.41Z" fill="#7fbdd9"/>
<path d="M221.50 606.50H253.50" stroke="#cf0a1e" stroke-width="1.7"/>
<path d="M214.50 617.60H260.50" stroke="#cf0a1e" stroke-width="1.7"/>
<path d="M219.30 626.80H255.70" stroke="#cf0a1e" stroke-width="1.7"/>
<path d="M287.10 612.50H322.10" stroke="#0b36b3" stroke-width="1.7"/>
<path d="M281.10 624.10H328.10" stroke="#0b36b3" stroke-width="1.7"/>
<path d="M283.20 633.70H326.00" stroke="#0b36b3" stroke-width="1.7"/>
<path d="M204.05 526.45V660.30H337.80" stroke="#0a0a0a" stroke-width="1.5" fill="none" stroke-linecap="square"/>
<path d="M200.65 660.30h3.4" stroke="#0a0a0a" stroke-width="1.1"/>
<text x="195.80" y="663.15" font-size="8.4" text-anchor="end" fill="#000" stroke="#000" stroke-width=".08" textLength="4.80" lengthAdjust="spacingAndGlyphs" >0</text>
<path d="M200.65 633.53h3.4" stroke="#0a0a0a" stroke-width="1.1"/>
<text x="197.70" y="636.38" font-size="8.4" text-anchor="end" fill="#000" stroke="#000" stroke-width=".08" textLength="9.50" lengthAdjust="spacingAndGlyphs" >20</text>
<path d="M200.65 606.76h3.4" stroke="#0a0a0a" stroke-width="1.1"/>
<text x="197.70" y="609.61" font-size="8.4" text-anchor="end" fill="#000" stroke="#000" stroke-width=".08" textLength="9.50" lengthAdjust="spacingAndGlyphs" >40</text>
<path d="M200.65 579.99h3.4" stroke="#0a0a0a" stroke-width="1.1"/>
<text x="197.70" y="582.84" font-size="8.4" text-anchor="end" fill="#000" stroke="#000" stroke-width=".08" textLength="9.50" lengthAdjust="spacingAndGlyphs" >60</text>
<path d="M200.65 553.22h3.4" stroke="#0a0a0a" stroke-width="1.1"/>
<text x="197.70" y="556.07" font-size="8.4" text-anchor="end" fill="#000" stroke="#000" stroke-width=".08" textLength="9.50" lengthAdjust="spacingAndGlyphs" >80</text>
<path d="M200.65 526.45h3.4" stroke="#0a0a0a" stroke-width="1.1"/>
<text x="197.70" y="529.30" font-size="8.4" text-anchor="end" fill="#000" stroke="#000" stroke-width=".08" textLength="12.80" lengthAdjust="spacingAndGlyphs" >100</text>
<path d="M237.50 660.30v3" stroke="#0a0a0a" stroke-width="1.1"/>
<path d="M304.60 660.30v3" stroke="#0a0a0a" stroke-width="1.1"/>
<text x="304.60" y="525.00" font-size="7.6" text-anchor="middle" fill="#000" stroke="#000" stroke-width="0" font-weight="bold" >***</text>
<text transform="translate(183.80 593.5) rotate(-90)" text-anchor="middle" font-size="8.8" fill="#000" stroke="#000" stroke-width=".15" textLength="79.3" lengthAdjust="spacingAndGlyphs">Platelet surface area (&#956;m<tspan font-size="5.2" dy="-3.2">2</tspan><tspan dy="3.2">)</tspan></text>
<text x="222.90" y="672.50" font-size="8.2" fill="#000" stroke="#000" stroke-width=".2" font-style="italic" textLength="15.60" lengthAdjust="spacingAndGlyphs" >Jak2</text>
<text x="238.70" y="669.00" font-size="4.1" fill="#000" stroke="#000" stroke-width=".2" font-style="italic" textLength="13.00" lengthAdjust="spacingAndGlyphs" >Plt+/+</text>
<text x="291.10" y="672.50" font-size="8.2" fill="#000" stroke="#000" stroke-width=".2" font-style="italic" textLength="15.60" lengthAdjust="spacingAndGlyphs" >Jak2</text>
<text x="306.90" y="669.00" font-size="4.1" fill="#000" stroke="#000" stroke-width=".2" font-style="italic" textLength="12.40" lengthAdjust="spacingAndGlyphs" >Plt&#8722;/&#8722;</text>
<path d="M411.60 526.41C411.67 528.90 411.92 537.09 412.03 541.37C412.13 545.64 412.13 548.49 412.24 552.05C412.35 555.61 412.42 559.53 412.67 562.74C412.92 565.94 413.42 568.43 413.74 571.28C414.06 574.13 414.41 577.34 414.59 579.83C414.77 582.32 414.41 584.10 414.81 586.24C415.20 588.38 416.12 590.51 416.94 592.65C417.76 594.79 418.76 596.92 419.72 599.06C420.68 601.20 421.57 603.69 422.71 605.47C423.85 607.25 425.56 608.57 426.56 609.74C427.55 610.92 427.63 611.10 428.69 612.52C429.76 613.95 431.83 616.37 432.97 618.29C434.11 620.21 435.25 622.28 435.53 624.06C435.82 625.84 435.39 627.26 434.68 628.97C433.96 630.68 432.61 632.54 431.26 634.32C429.90 636.10 428.23 637.70 426.56 639.66C424.88 641.62 422.64 644.29 421.22 646.07C419.79 647.85 418.83 649.10 418.01 650.34C417.19 651.59 416.37 652.59 416.30 653.55C416.23 654.51 417.83 655.29 417.58 656.11C417.33 656.93 415.80 657.82 414.81 658.46C413.81 659.10 412.13 659.71 411.60 659.96C411.07 660.21 412.13 660.21 411.60 659.96C411.07 659.71 409.39 659.10 408.39 658.46C407.40 657.82 405.87 656.93 405.62 656.11C405.37 655.29 406.97 654.51 406.90 653.55C406.83 652.59 406.01 651.59 405.19 650.34C404.37 649.10 403.41 647.85 401.98 646.07C400.56 644.29 398.32 641.62 396.64 639.66C394.97 637.70 393.30 636.10 391.94 634.32C390.59 632.54 389.24 630.68 388.52 628.97C387.81 627.26 387.38 625.84 387.67 624.06C387.95 622.28 389.09 620.21 390.23 618.29C391.37 616.37 393.44 613.95 394.51 612.52C395.57 611.10 395.65 610.92 396.64 609.74C397.64 608.57 399.35 607.25 400.49 605.47C401.63 603.69 402.52 601.20 403.48 599.06C404.44 596.92 405.44 594.79 406.26 592.65C407.08 590.51 408.00 588.38 408.39 586.24C408.79 584.10 408.43 582.32 408.61 579.83C408.79 577.34 409.14 574.13 409.46 571.28C409.78 568.43 410.28 565.94 410.53 562.74C410.78 559.53 410.85 555.61 410.96 552.05C411.07 548.49 411.07 545.64 411.17 541.37C411.28 537.09 411.53 528.90 411.60 526.41C411.67 523.92 411.53 523.92 411.60 526.41Z" fill="#f5a9dd"/>
<path d="M478.40 532.26C478.47 533.81 478.66 538.53 478.84 541.55C479.03 544.57 479.21 547.82 479.51 550.40C479.80 552.98 480.28 554.82 480.61 557.04C480.94 559.25 481.50 561.46 481.50 563.67C481.50 565.88 480.94 568.28 480.61 570.31C480.28 572.34 479.36 574.00 479.51 575.84C479.65 577.68 480.87 579.34 481.50 581.37C482.12 583.40 482.49 585.80 483.27 588.01C484.04 590.22 484.74 592.62 486.14 594.65C487.54 596.67 490.02 598.52 491.67 600.18C493.33 601.84 495.07 603.42 496.10 604.60C497.13 605.78 496.95 605.97 497.87 607.26C498.79 608.55 500.89 610.94 501.63 612.35C502.37 613.75 502.33 614.30 502.29 615.66C502.26 617.03 501.78 618.87 501.41 620.53C501.04 622.19 500.60 624.03 500.08 625.62C499.57 627.21 498.79 628.38 498.31 630.04C497.83 631.70 497.57 633.73 497.21 635.58C496.84 637.42 497.21 639.45 496.10 641.11C494.99 642.77 492.23 644.06 490.57 645.53C488.91 647.01 487.07 648.48 486.14 649.96C485.22 651.43 485.52 653.09 485.04 654.38C484.56 655.67 484.37 656.78 483.27 657.70C482.16 658.62 479.21 659.54 478.40 659.91C477.59 660.28 479.21 660.28 478.40 659.91C477.59 659.54 474.64 658.62 473.53 657.70C472.43 656.78 472.24 655.67 471.76 654.38C471.28 653.09 471.58 651.43 470.66 649.96C469.73 648.48 467.89 647.01 466.23 645.53C464.57 644.06 461.81 642.77 460.70 641.11C459.59 639.45 459.96 637.42 459.59 635.58C459.23 633.73 458.97 631.70 458.49 630.04C458.01 628.38 457.23 627.21 456.72 625.62C456.20 624.03 455.76 622.19 455.39 620.53C455.02 618.87 454.54 617.03 454.51 615.66C454.47 614.30 454.43 613.75 455.17 612.35C455.91 610.94 458.01 608.55 458.93 607.26C459.85 605.97 459.67 605.78 460.70 604.60C461.73 603.42 463.47 601.84 465.13 600.18C466.78 598.52 469.26 596.67 470.66 594.65C472.06 592.62 472.76 590.22 473.53 588.01C474.31 585.80 474.68 583.40 475.30 581.37C475.93 579.34 477.15 577.68 477.29 575.84C477.44 574.00 476.52 572.34 476.19 570.31C475.86 568.28 475.30 565.88 475.30 563.67C475.30 561.46 475.86 559.25 476.19 557.04C476.52 554.82 477.00 552.98 477.29 550.40C477.59 547.82 477.77 544.57 477.96 541.55C478.14 538.53 478.33 533.81 478.40 532.26C478.47 530.71 478.33 530.71 478.40 532.26Z" fill="#7fbdd9"/>
<path d="M394.60 612.50H428.60" stroke="#cf0a1e" stroke-width="1.7"/>
<path d="M387.60 624.10H435.60" stroke="#cf0a1e" stroke-width="1.7"/>
<path d="M392.60 634.30H430.60" stroke="#cf0a1e" stroke-width="1.7"/>
<path d="M459.20 607.30H497.60" stroke="#0b36b3" stroke-width="1.7"/>
<path d="M455.60 620.50H501.20" stroke="#0b36b3" stroke-width="1.7"/>
<path d="M459.80 635.60H497.00" stroke="#0b36b3" stroke-width="1.7"/>
<path d="M377.95 526.45V660.30H512.30" stroke="#0a0a0a" stroke-width="1.5" fill="none" stroke-linecap="square"/>
<path d="M374.55 660.30h3.4" stroke="#0a0a0a" stroke-width="1.1"/>
<text x="370.10" y="663.15" font-size="8.4" text-anchor="end" fill="#000" stroke="#000" stroke-width=".08" textLength="4.80" lengthAdjust="spacingAndGlyphs" >0</text>
<path d="M374.55 633.53h3.4" stroke="#0a0a0a" stroke-width="1.1"/>
<text x="372.00" y="636.38" font-size="8.4" text-anchor="end" fill="#000" stroke="#000" stroke-width=".08" textLength="9.50" lengthAdjust="spacingAndGlyphs" >20</text>
<path d="M374.55 606.76h3.4" stroke="#0a0a0a" stroke-width="1.1"/>
<text x="372.00" y="609.61" font-size="8.4" text-anchor="end" fill="#000" stroke="#000" stroke-width=".08" textLength="9.50" lengthAdjust="spacingAndGlyphs" >40</text>
<path d="M374.55 579.99h3.4" stroke="#0a0a0a" stroke-width="1.1"/>
<text x="372.00" y="582.84" font-size="8.4" text-anchor="end" fill="#000" stroke="#000" stroke-width=".08" textLength="9.50" lengthAdjust="spacingAndGlyphs" >60</text>
<path d="M374.55 553.22h3.4" stroke="#0a0a0a" stroke-width="1.1"/>
<text x="372.00" y="556.07" font-size="8.4" text-anchor="end" fill="#000" stroke="#000" stroke-width=".08" textLength="9.50" lengthAdjust="spacingAndGlyphs" >80</text>
<path d="M374.55 526.45h3.4" stroke="#0a0a0a" stroke-width="1.1"/>
<text x="372.00" y="529.30" font-size="8.4" text-anchor="end" fill="#000" stroke="#000" stroke-width=".08" textLength="12.80" lengthAdjust="spacingAndGlyphs" >100</text>
<path d="M411.60 660.30v3" stroke="#0a0a0a" stroke-width="1.1"/>
<path d="M478.40 660.30v3" stroke="#0a0a0a" stroke-width="1.1"/>
<text x="478.30" y="531.80" font-size="7.6" text-anchor="middle" fill="#000" stroke="#000" stroke-width="0" font-weight="bold" >*</text>
<text transform="translate(357.30 593.5) rotate(-90)" text-anchor="middle" font-size="8.8" fill="#000" stroke="#000" stroke-width=".15" textLength="79.3" lengthAdjust="spacingAndGlyphs">Platelet surface area (&#956;m<tspan font-size="5.2" dy="-3.2">2</tspan><tspan dy="3.2">)</tspan></text>
<text x="397.10" y="672.50" font-size="8.2" fill="#000" stroke="#000" stroke-width=".2" font-style="italic" textLength="15.60" lengthAdjust="spacingAndGlyphs" >Jak2</text>
<text x="412.90" y="669.00" font-size="4.1" fill="#000" stroke="#000" stroke-width=".2" font-style="italic" textLength="13.00" lengthAdjust="spacingAndGlyphs" >Plt+/+</text>
<text x="465.30" y="672.50" font-size="8.2" fill="#000" stroke="#000" stroke-width=".2" font-style="italic" textLength="15.60" lengthAdjust="spacingAndGlyphs" >Jak2</text>
<text x="481.10" y="669.00" font-size="4.1" fill="#000" stroke="#000" stroke-width=".2" font-style="italic" textLength="12.40" lengthAdjust="spacingAndGlyphs" >Plt&#8722;/&#8722;</text>
<path d="M0 0H520V678H0Z M1.15 1.1V676.4H518.8V1.1Z" fill="#000" fill-rule="evenodd"/>
</svg></body></html>
